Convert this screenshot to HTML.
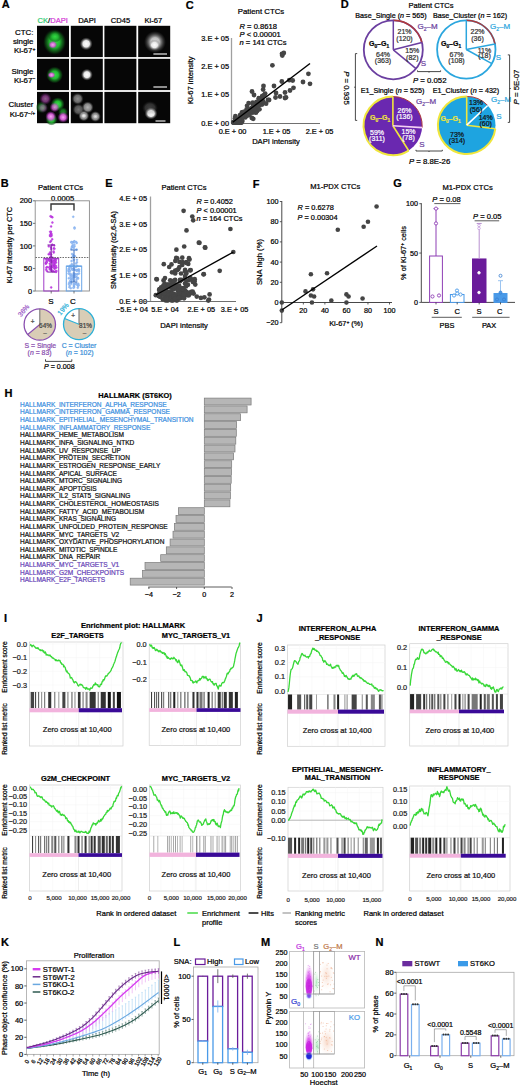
<!DOCTYPE html>
<html><head><meta charset="utf-8"><style>
html,body{margin:0;padding:0;background:#fff;width:520px;height:1086px;overflow:hidden}
svg{display:block;font-family:"Liberation Sans",sans-serif}
</style></head><body>
<svg width="520" height="1086" viewBox="0 0 520 1086">
<defs>
<radialGradient id="gG"><stop offset="0" stop-color="#38e048"/><stop offset="0.45" stop-color="#22b832"/><stop offset="0.8" stop-color="#106018" stop-opacity="0.6"/><stop offset="1" stop-color="#0a3010" stop-opacity="0"/></radialGradient>
<radialGradient id="gM"><stop offset="0" stop-color="#f8a8f4"/><stop offset="0.5" stop-color="#e060e0" stop-opacity="0.9"/><stop offset="1" stop-color="#a020b0" stop-opacity="0"/></radialGradient>
<radialGradient id="gW"><stop offset="0" stop-color="#ffffff"/><stop offset="0.5" stop-color="#e8e8e8"/><stop offset="1" stop-color="#606060" stop-opacity="0"/></radialGradient>
<radialGradient id="gW2"><stop offset="0" stop-color="#f4f4f4"/><stop offset="0.4" stop-color="#d0d0d0"/><stop offset="1" stop-color="#505050" stop-opacity="0"/></radialGradient>
<radialGradient id="gGr"><stop offset="0" stop-color="#c8c8c8"/><stop offset="0.6" stop-color="#909090"/><stop offset="1" stop-color="#404040" stop-opacity="0"/></radialGradient>


<radialGradient id="mMag" cx="0.5" cy="0.7" r="0.6"><stop offset="0" stop-color="#c818e0"/><stop offset="0.5" stop-color="#d850ec" stop-opacity="0.85"/><stop offset="1" stop-color="#f0b0f8" stop-opacity="0"/></radialGradient>
<radialGradient id="mBlu"><stop offset="0" stop-color="#2030e0"/><stop offset="0.6" stop-color="#4a70f0" stop-opacity="0.8"/><stop offset="1" stop-color="#a0d0ff" stop-opacity="0"/></radialGradient>
<radialGradient id="mGrn"><stop offset="0" stop-color="#a8e8b8" stop-opacity="0.9"/><stop offset="1" stop-color="#d8f4e0" stop-opacity="0"/></radialGradient>
<radialGradient id="mOr"><stop offset="0" stop-color="#f4c8b0" stop-opacity="0.9"/><stop offset="1" stop-color="#fae4d8" stop-opacity="0"/></radialGradient>
</defs>
<text x="1.8" y="8.11" font-size="11" text-anchor="start" fill="#000" stroke="#000" stroke-width="0.22" font-weight="bold">A</text>
<text x="37.5" y="23.2" font-size="7.6" text-anchor="start" fill="#000" stroke="#000" stroke-width="0.22"><tspan fill="#2ecc71" stroke="#2ecc71">CK</tspan>/<tspan fill="#d63cd6" stroke="#d63cd6">DAPI</tspan></text>
<text x="87" y="23.2" font-size="7.6" text-anchor="middle" fill="#000" stroke="#000" stroke-width="0.22">DAPI</text>
<text x="120.5" y="23.2" font-size="7.6" text-anchor="middle" fill="#000" stroke="#000" stroke-width="0.22">CD45</text>
<text x="153.4" y="23.2" font-size="7.6" text-anchor="middle" fill="#000" stroke="#000" stroke-width="0.22">Ki-67</text>
<text x="33.5" y="34.8" font-size="7.9" text-anchor="end" fill="#000" stroke="#000" stroke-width="0.22">CTC:</text>
<text x="33.5" y="44.2" font-size="7.9" text-anchor="end" fill="#000" stroke="#000" stroke-width="0.22">single</text>
<text x="35.3" y="53.3" font-size="7.9" text-anchor="end" fill="#000" stroke="#000" stroke-width="0.22">Ki-67<tspan font-size="5" dy="-2.5">+</tspan></text>
<text x="33.5" y="73.5" font-size="7.9" text-anchor="end" fill="#000" stroke="#000" stroke-width="0.22">Single</text>
<text x="35.3" y="82.8" font-size="7.9" text-anchor="end" fill="#000" stroke="#000" stroke-width="0.22">Ki-67<tspan font-size="5" dy="-2.5">&#8722;</tspan></text>
<text x="33.5" y="107.1" font-size="7.9" text-anchor="end" fill="#000" stroke="#000" stroke-width="0.22">Cluster</text>
<text x="35.3" y="117" font-size="7.9" text-anchor="end" fill="#000" stroke="#000" stroke-width="0.22">Ki-67<tspan font-size="5" dy="-2.5">&#8722;/+</tspan></text>
<rect x="37" y="25.8" width="32" height="31.3" fill="#060606" stroke="none" stroke-width="1"/>
<rect x="70.8" y="25.8" width="32" height="31.3" fill="#060606" stroke="none" stroke-width="1"/>
<rect x="104.4" y="25.8" width="32" height="31.3" fill="#060606" stroke="none" stroke-width="1"/>
<rect x="138.2" y="25.8" width="32" height="31.3" fill="#060606" stroke="none" stroke-width="1"/>
<rect x="37" y="58.8" width="32" height="31.3" fill="#060606" stroke="none" stroke-width="1"/>
<rect x="70.8" y="58.8" width="32" height="31.3" fill="#060606" stroke="none" stroke-width="1"/>
<rect x="104.4" y="58.8" width="32" height="31.3" fill="#060606" stroke="none" stroke-width="1"/>
<rect x="138.2" y="58.8" width="32" height="31.3" fill="#060606" stroke="none" stroke-width="1"/>
<rect x="37" y="91.9" width="32" height="31.3" fill="#060606" stroke="none" stroke-width="1"/>
<rect x="70.8" y="91.9" width="32" height="31.3" fill="#060606" stroke="none" stroke-width="1"/>
<rect x="104.4" y="91.9" width="32" height="31.3" fill="#060606" stroke="none" stroke-width="1"/>
<rect x="138.2" y="91.9" width="32" height="31.3" fill="#060606" stroke="none" stroke-width="1"/>
<ellipse cx="54.6" cy="42" rx="11.5" ry="13" fill="url(#gG)" opacity="1"/>
<ellipse cx="55" cy="36.5" rx="7" ry="6" fill="url(#gG)" opacity="0.8"/>
<ellipse cx="52.8" cy="44.8" rx="4.6" ry="4" fill="url(#gM)" opacity="1"/>
<ellipse cx="86.2" cy="43.8" rx="6.5" ry="6.5" fill="url(#gW)" opacity="1"/>
<ellipse cx="155" cy="42" rx="11" ry="11" fill="url(#gW2)" opacity="0.9"/>
<ellipse cx="154.5" cy="45" rx="6" ry="5.5" fill="url(#gW)" opacity="1"/>
<line x1="153.4" y1="54" x2="167" y2="54" stroke="#fff" stroke-width="1.1"/>
<ellipse cx="54.6" cy="75" rx="8.5" ry="8.5" fill="url(#gG)" opacity="1"/>
<ellipse cx="51.5" cy="75" rx="4" ry="3.2" fill="url(#gM)" opacity="1"/>
<ellipse cx="86.9" cy="74.7" rx="6" ry="6" fill="url(#gW)" opacity="1"/>
<line x1="153.4" y1="87" x2="167" y2="87" stroke="#fff" stroke-width="1.1"/>
<ellipse cx="57.7" cy="104.2" rx="7" ry="7" fill="url(#gG)" opacity="1"/>
<ellipse cx="51.5" cy="119.6" rx="6" ry="6" fill="url(#gG)" opacity="1"/>
<ellipse cx="41.5" cy="107.3" rx="6" ry="6" fill="url(#gG)" opacity="0.6"/>
<ellipse cx="63" cy="112" rx="5" ry="5" fill="url(#gG)" opacity="0.6"/>
<ellipse cx="45.4" cy="98.8" rx="6" ry="6" fill="url(#gM)" opacity="0.55"/>
<ellipse cx="54.6" cy="107.3" rx="5" ry="5" fill="url(#gM)" opacity="0.8"/>
<ellipse cx="50.8" cy="116.5" rx="5.5" ry="5.5" fill="url(#gM)" opacity="1"/>
<ellipse cx="63.1" cy="117.3" rx="5.5" ry="5.5" fill="url(#gM)" opacity="1"/>
<ellipse cx="43" cy="108" rx="5" ry="5" fill="url(#gM)" opacity="0.45"/>
<ellipse cx="77.7" cy="98.8" rx="6" ry="6" fill="url(#gGr)" opacity="0.7"/>
<ellipse cx="87.7" cy="107.3" rx="6" ry="6" fill="url(#gGr)" opacity="0.9"/>
<ellipse cx="78.5" cy="109.6" rx="6" ry="6" fill="url(#gGr)" opacity="0.55"/>
<ellipse cx="83.8" cy="115.8" rx="5.5" ry="5.5" fill="url(#gGr)" opacity="1"/>
<ellipse cx="95.4" cy="116.5" rx="5.5" ry="5.5" fill="url(#gGr)" opacity="0.95"/>
<ellipse cx="83.8" cy="115.8" rx="4" ry="3.5" fill="url(#gW2)" opacity="1"/>
<ellipse cx="95.4" cy="116.5" rx="4" ry="3.5" fill="url(#gW2)" opacity="0.7"/>
<ellipse cx="151" cy="113.5" rx="6.5" ry="6" fill="url(#gW)" opacity="1"/>
<ellipse cx="150" cy="108" rx="8" ry="7" fill="url(#gGr)" opacity="0.3"/>
<line x1="155.5" y1="121" x2="165.5" y2="121" stroke="#fff" stroke-width="1.1"/>
<text x="185.8" y="9.21" font-size="11" text-anchor="start" fill="#000" stroke="#000" stroke-width="0.22" font-weight="bold">C</text>
<text x="261" y="13.77" font-size="7.8" text-anchor="middle" fill="#000" stroke="#000" stroke-width="0.22">Patient CTCs</text>
<text x="239.5" y="28.7" font-size="7.6" text-anchor="start" fill="#000" stroke="#000" stroke-width="0.22"><tspan font-style="italic">R</tspan> = 0.8618</text>
<text x="239.5" y="37.3" font-size="7.6" text-anchor="start" fill="#000" stroke="#000" stroke-width="0.22"><tspan font-style="italic">P</tspan> &lt; 0.00001</text>
<text x="239.5" y="45.3" font-size="7.6" text-anchor="start" fill="#000" stroke="#000" stroke-width="0.22"><tspan font-style="italic">n</tspan> = 141 CTCs</text>
<text x="229" y="41.43" font-size="7.4" text-anchor="end" fill="#000" stroke="#000" stroke-width="0.22">3.E + 05</text>
<text x="229" y="69.13" font-size="7.4" text-anchor="end" fill="#000" stroke="#000" stroke-width="0.22">2.E + 05</text>
<text x="229" y="96.83" font-size="7.4" text-anchor="end" fill="#000" stroke="#000" stroke-width="0.22">1.E + 05</text>
<text x="229" y="125.63" font-size="7.4" text-anchor="end" fill="#000" stroke="#000" stroke-width="0.22">0.E + 00</text>
<text x="232.5" y="134.13" font-size="7.4" text-anchor="middle" fill="#000" stroke="#000" stroke-width="0.22">0.E + 00</text>
<text x="276.5" y="134.13" font-size="7.4" text-anchor="middle" fill="#000" stroke="#000" stroke-width="0.22">1.E + 05</text>
<text x="319.5" y="134.13" font-size="7.4" text-anchor="middle" fill="#000" stroke="#000" stroke-width="0.22">2.E + 05</text>
<text x="276" y="144.2" font-size="7.6" text-anchor="middle" fill="#000" stroke="#000" stroke-width="0.22">DAPI intensity</text>
<text x="190.6" y="82.9" font-size="7.6" text-anchor="middle" fill="#000" stroke="#000" stroke-width="0.22" transform="rotate(-90 190.6 80.2)">Ki-67 intensity</text>
<line x1="231.5" y1="38" x2="231.5" y2="123.5" stroke="#a0a0a0" stroke-width="1.3"/>
<line x1="231" y1="123.5" x2="320" y2="123.5" stroke="#707070" stroke-width="1.2"/>
<circle cx="282" cy="53.8" r="2.4" fill="#454545" stroke="none" stroke-width="1"/>
<circle cx="283.8" cy="53" r="2.4" fill="#454545" stroke="none" stroke-width="1"/>
<circle cx="282.3" cy="55.6" r="2.4" fill="#454545" stroke="none" stroke-width="1"/>
<circle cx="272.4" cy="65.3" r="2.4" fill="#454545" stroke="none" stroke-width="1"/>
<circle cx="308.4" cy="73.8" r="2.4" fill="#454545" stroke="none" stroke-width="1"/>
<circle cx="310" cy="83.8" r="2.4" fill="#454545" stroke="none" stroke-width="1"/>
<circle cx="263.5" cy="86" r="2.4" fill="#454545" stroke="none" stroke-width="1"/>
<circle cx="274" cy="86" r="2.4" fill="#454545" stroke="none" stroke-width="1"/>
<circle cx="281.8" cy="81.5" r="2.4" fill="#454545" stroke="none" stroke-width="1"/>
<circle cx="289.3" cy="80.2" r="2.4" fill="#454545" stroke="none" stroke-width="1"/>
<circle cx="292.7" cy="80.5" r="2.4" fill="#454545" stroke="none" stroke-width="1"/>
<circle cx="293.5" cy="87.8" r="2.4" fill="#454545" stroke="none" stroke-width="1"/>
<circle cx="303" cy="82" r="2.4" fill="#454545" stroke="none" stroke-width="1"/>
<circle cx="290" cy="90.5" r="2.4" fill="#454545" stroke="none" stroke-width="1"/>
<circle cx="286" cy="97.4" r="2.4" fill="#454545" stroke="none" stroke-width="1"/>
<circle cx="280" cy="96.5" r="2.4" fill="#454545" stroke="none" stroke-width="1"/>
<circle cx="285" cy="92.5" r="2.4" fill="#454545" stroke="none" stroke-width="1"/>
<circle cx="275.5" cy="97.5" r="2.4" fill="#454545" stroke="none" stroke-width="1"/>
<circle cx="262" cy="97" r="2.4" fill="#454545" stroke="none" stroke-width="1"/>
<circle cx="252" cy="91.5" r="2.4" fill="#454545" stroke="none" stroke-width="1"/>
<circle cx="254" cy="95" r="2.4" fill="#454545" stroke="none" stroke-width="1"/>
<circle cx="285" cy="98" r="2.4" fill="#454545" stroke="none" stroke-width="1"/>
<circle cx="276" cy="93" r="2.4" fill="#454545" stroke="none" stroke-width="1"/>
<circle cx="268" cy="100" r="2.4" fill="#454545" stroke="none" stroke-width="1"/>
<circle cx="257" cy="103" r="2.4" fill="#454545" stroke="none" stroke-width="1"/>
<circle cx="262" cy="104.5" r="2.4" fill="#454545" stroke="none" stroke-width="1"/>
<circle cx="240.49" cy="122.5" r="2.4" fill="#454545" stroke="none" stroke-width="1"/>
<circle cx="237.43" cy="121.04" r="2.4" fill="#454545" stroke="none" stroke-width="1"/>
<circle cx="234.41" cy="121.81" r="2.4" fill="#454545" stroke="none" stroke-width="1"/>
<circle cx="241" cy="117.31" r="2.4" fill="#454545" stroke="none" stroke-width="1"/>
<circle cx="240.06" cy="115.27" r="2.4" fill="#454545" stroke="none" stroke-width="1"/>
<circle cx="242.49" cy="114.28" r="2.4" fill="#454545" stroke="none" stroke-width="1"/>
<circle cx="253.21" cy="118.86" r="2.4" fill="#454545" stroke="none" stroke-width="1"/>
<circle cx="235.46" cy="119.66" r="2.4" fill="#454545" stroke="none" stroke-width="1"/>
<circle cx="236.71" cy="122.5" r="2.4" fill="#454545" stroke="none" stroke-width="1"/>
<circle cx="254.93" cy="109.54" r="2.4" fill="#454545" stroke="none" stroke-width="1"/>
<circle cx="249.44" cy="114.45" r="2.4" fill="#454545" stroke="none" stroke-width="1"/>
<circle cx="236.04" cy="122.5" r="2.4" fill="#454545" stroke="none" stroke-width="1"/>
<circle cx="250.51" cy="111.34" r="2.4" fill="#454545" stroke="none" stroke-width="1"/>
<circle cx="247.32" cy="113.7" r="2.4" fill="#454545" stroke="none" stroke-width="1"/>
<circle cx="252.56" cy="103.66" r="2.4" fill="#454545" stroke="none" stroke-width="1"/>
<circle cx="252.39" cy="112.03" r="2.4" fill="#454545" stroke="none" stroke-width="1"/>
<circle cx="251.84" cy="117.92" r="2.4" fill="#454545" stroke="none" stroke-width="1"/>
<circle cx="240.19" cy="122.5" r="2.4" fill="#454545" stroke="none" stroke-width="1"/>
<circle cx="235.21" cy="121.26" r="2.4" fill="#454545" stroke="none" stroke-width="1"/>
<circle cx="247.09" cy="105.84" r="2.4" fill="#454545" stroke="none" stroke-width="1"/>
<circle cx="257.74" cy="108.08" r="2.4" fill="#454545" stroke="none" stroke-width="1"/>
<circle cx="248.33" cy="110.73" r="2.4" fill="#454545" stroke="none" stroke-width="1"/>
<circle cx="258.25" cy="103.11" r="2.4" fill="#454545" stroke="none" stroke-width="1"/>
<circle cx="252.9" cy="112.54" r="2.4" fill="#454545" stroke="none" stroke-width="1"/>
<circle cx="254.14" cy="110.75" r="2.4" fill="#454545" stroke="none" stroke-width="1"/>
<circle cx="240.95" cy="122.5" r="2.4" fill="#454545" stroke="none" stroke-width="1"/>
<circle cx="235.68" cy="122.48" r="2.4" fill="#454545" stroke="none" stroke-width="1"/>
<circle cx="240.76" cy="122.5" r="2.4" fill="#454545" stroke="none" stroke-width="1"/>
<circle cx="233.77" cy="122.5" r="2.4" fill="#454545" stroke="none" stroke-width="1"/>
<circle cx="259.15" cy="105.12" r="2.4" fill="#454545" stroke="none" stroke-width="1"/>
<circle cx="248.72" cy="109.5" r="2.4" fill="#454545" stroke="none" stroke-width="1"/>
<circle cx="255.35" cy="107.12" r="2.4" fill="#454545" stroke="none" stroke-width="1"/>
<circle cx="245.88" cy="112.35" r="2.4" fill="#454545" stroke="none" stroke-width="1"/>
<circle cx="235.39" cy="122.5" r="2.4" fill="#454545" stroke="none" stroke-width="1"/>
<circle cx="241.01" cy="120.69" r="2.4" fill="#454545" stroke="none" stroke-width="1"/>
<circle cx="240.21" cy="119.93" r="2.4" fill="#454545" stroke="none" stroke-width="1"/>
<circle cx="247.84" cy="114.5" r="2.4" fill="#454545" stroke="none" stroke-width="1"/>
<circle cx="253.59" cy="109.21" r="2.4" fill="#454545" stroke="none" stroke-width="1"/>
<circle cx="255.94" cy="112.63" r="2.4" fill="#454545" stroke="none" stroke-width="1"/>
<circle cx="256.57" cy="102.22" r="2.4" fill="#454545" stroke="none" stroke-width="1"/>
<circle cx="239.89" cy="118.51" r="2.4" fill="#454545" stroke="none" stroke-width="1"/>
<circle cx="246.89" cy="111.92" r="2.4" fill="#454545" stroke="none" stroke-width="1"/>
<circle cx="236.82" cy="122.5" r="2.4" fill="#454545" stroke="none" stroke-width="1"/>
<circle cx="235.72" cy="121.88" r="2.4" fill="#454545" stroke="none" stroke-width="1"/>
<circle cx="234.13" cy="122.21" r="2.4" fill="#454545" stroke="none" stroke-width="1"/>
<circle cx="256.91" cy="101.85" r="2.4" fill="#454545" stroke="none" stroke-width="1"/>
<circle cx="237.81" cy="122.5" r="2.4" fill="#454545" stroke="none" stroke-width="1"/>
<circle cx="241.91" cy="112.47" r="2.4" fill="#454545" stroke="none" stroke-width="1"/>
<circle cx="241.98" cy="116.08" r="2.4" fill="#454545" stroke="none" stroke-width="1"/>
<circle cx="235.4" cy="122.5" r="2.4" fill="#454545" stroke="none" stroke-width="1"/>
<circle cx="253.49" cy="105.52" r="2.4" fill="#454545" stroke="none" stroke-width="1"/>
<circle cx="261.07" cy="99.73" r="2.4" fill="#454545" stroke="none" stroke-width="1"/>
<circle cx="247.77" cy="114.73" r="2.4" fill="#454545" stroke="none" stroke-width="1"/>
<circle cx="264.46" cy="94.83" r="2.4" fill="#454545" stroke="none" stroke-width="1"/>
<circle cx="237.32" cy="121.43" r="2.4" fill="#454545" stroke="none" stroke-width="1"/>
<circle cx="258.23" cy="105.7" r="2.4" fill="#454545" stroke="none" stroke-width="1"/>
<circle cx="238.19" cy="122.5" r="2.4" fill="#454545" stroke="none" stroke-width="1"/>
<circle cx="265.14" cy="93.58" r="2.4" fill="#454545" stroke="none" stroke-width="1"/>
<circle cx="252.72" cy="102.77" r="2.4" fill="#454545" stroke="none" stroke-width="1"/>
<circle cx="242.23" cy="115.33" r="2.4" fill="#454545" stroke="none" stroke-width="1"/>
<circle cx="233.69" cy="122.5" r="2.4" fill="#454545" stroke="none" stroke-width="1"/>
<circle cx="252.17" cy="108.58" r="2.4" fill="#454545" stroke="none" stroke-width="1"/>
<circle cx="269.08" cy="100" r="2.4" fill="#454545" stroke="none" stroke-width="1"/>
<circle cx="238.15" cy="120.56" r="2.4" fill="#454545" stroke="none" stroke-width="1"/>
<circle cx="236.28" cy="122.5" r="2.4" fill="#454545" stroke="none" stroke-width="1"/>
<circle cx="258.94" cy="98.76" r="2.4" fill="#454545" stroke="none" stroke-width="1"/>
<circle cx="246.58" cy="109.45" r="2.4" fill="#454545" stroke="none" stroke-width="1"/>
<circle cx="252.9" cy="107.34" r="2.4" fill="#454545" stroke="none" stroke-width="1"/>
<circle cx="252.48" cy="108" r="2.4" fill="#454545" stroke="none" stroke-width="1"/>
<circle cx="255.29" cy="111.79" r="2.4" fill="#454545" stroke="none" stroke-width="1"/>
<circle cx="263.2" cy="101.37" r="2.4" fill="#454545" stroke="none" stroke-width="1"/>
<circle cx="258.81" cy="98.14" r="2.4" fill="#454545" stroke="none" stroke-width="1"/>
<circle cx="239.36" cy="122.5" r="2.4" fill="#454545" stroke="none" stroke-width="1"/>
<circle cx="257.13" cy="110.91" r="2.4" fill="#454545" stroke="none" stroke-width="1"/>
<circle cx="262.32" cy="96.13" r="2.4" fill="#454545" stroke="none" stroke-width="1"/>
<circle cx="243.02" cy="114.29" r="2.4" fill="#454545" stroke="none" stroke-width="1"/>
<circle cx="262.79" cy="95.79" r="2.4" fill="#454545" stroke="none" stroke-width="1"/>
<circle cx="266.09" cy="103.66" r="2.4" fill="#454545" stroke="none" stroke-width="1"/>
<circle cx="253.69" cy="107.57" r="2.4" fill="#454545" stroke="none" stroke-width="1"/>
<circle cx="236.43" cy="122.5" r="2.4" fill="#454545" stroke="none" stroke-width="1"/>
<circle cx="237.55" cy="120.79" r="2.4" fill="#454545" stroke="none" stroke-width="1"/>
<circle cx="259.65" cy="104.83" r="2.4" fill="#454545" stroke="none" stroke-width="1"/>
<circle cx="247.49" cy="110.83" r="2.4" fill="#454545" stroke="none" stroke-width="1"/>
<circle cx="262.53" cy="101.39" r="2.4" fill="#454545" stroke="none" stroke-width="1"/>
<circle cx="246.55" cy="114.96" r="2.4" fill="#454545" stroke="none" stroke-width="1"/>
<circle cx="242.38" cy="121.02" r="2.4" fill="#454545" stroke="none" stroke-width="1"/>
<circle cx="241.31" cy="121.92" r="2.4" fill="#454545" stroke="none" stroke-width="1"/>
<circle cx="245.25" cy="117.4" r="2.4" fill="#454545" stroke="none" stroke-width="1"/>
<circle cx="243.17" cy="112.05" r="2.4" fill="#454545" stroke="none" stroke-width="1"/>
<circle cx="242.9" cy="116.36" r="2.4" fill="#454545" stroke="none" stroke-width="1"/>
<circle cx="256.36" cy="106.71" r="2.4" fill="#454545" stroke="none" stroke-width="1"/>
<circle cx="254.24" cy="105.38" r="2.4" fill="#454545" stroke="none" stroke-width="1"/>
<circle cx="249.98" cy="111.92" r="2.4" fill="#454545" stroke="none" stroke-width="1"/>
<circle cx="252.77" cy="110.88" r="2.4" fill="#454545" stroke="none" stroke-width="1"/>
<circle cx="246.93" cy="113.69" r="2.4" fill="#454545" stroke="none" stroke-width="1"/>
<circle cx="258.35" cy="102.1" r="2.4" fill="#454545" stroke="none" stroke-width="1"/>
<circle cx="250.92" cy="111.22" r="2.4" fill="#454545" stroke="none" stroke-width="1"/>
<circle cx="237.29" cy="122.5" r="2.4" fill="#454545" stroke="none" stroke-width="1"/>
<circle cx="233.35" cy="122.5" r="2.4" fill="#454545" stroke="none" stroke-width="1"/>
<circle cx="248.63" cy="103.05" r="2.4" fill="#454545" stroke="none" stroke-width="1"/>
<circle cx="235.37" cy="116.14" r="2.4" fill="#454545" stroke="none" stroke-width="1"/>
<circle cx="242.58" cy="115.12" r="2.4" fill="#454545" stroke="none" stroke-width="1"/>
<circle cx="239.16" cy="119.4" r="2.4" fill="#454545" stroke="none" stroke-width="1"/>
<circle cx="249.16" cy="115" r="2.4" fill="#454545" stroke="none" stroke-width="1"/>
<circle cx="238.98" cy="122.5" r="2.4" fill="#454545" stroke="none" stroke-width="1"/>
<circle cx="238.32" cy="121.46" r="2.4" fill="#454545" stroke="none" stroke-width="1"/>
<circle cx="254.26" cy="109.19" r="2.4" fill="#454545" stroke="none" stroke-width="1"/>
<circle cx="243.41" cy="116.87" r="2.4" fill="#454545" stroke="none" stroke-width="1"/>
<circle cx="246.61" cy="111.63" r="2.4" fill="#454545" stroke="none" stroke-width="1"/>
<circle cx="263.12" cy="89.57" r="2.4" fill="#454545" stroke="none" stroke-width="1"/>
<circle cx="233.61" cy="122.5" r="2.4" fill="#454545" stroke="none" stroke-width="1"/>
<circle cx="251.17" cy="108.52" r="2.4" fill="#454545" stroke="none" stroke-width="1"/>
<circle cx="246" cy="113.5" r="2.4" fill="#454545" stroke="none" stroke-width="1"/>
<circle cx="241.42" cy="122.5" r="2.4" fill="#454545" stroke="none" stroke-width="1"/>
<circle cx="243.8" cy="111.82" r="2.4" fill="#454545" stroke="none" stroke-width="1"/>
<circle cx="234.96" cy="118.45" r="2.4" fill="#454545" stroke="none" stroke-width="1"/>
<circle cx="239.16" cy="119.91" r="2.4" fill="#454545" stroke="none" stroke-width="1"/>
<circle cx="259.47" cy="109.34" r="2.4" fill="#454545" stroke="none" stroke-width="1"/>
<circle cx="236.43" cy="118.89" r="2.4" fill="#454545" stroke="none" stroke-width="1"/>
<circle cx="246.72" cy="115.95" r="2.4" fill="#454545" stroke="none" stroke-width="1"/>
<line x1="232.7" y1="122.3" x2="310" y2="63.5" stroke="#000" stroke-width="1.4"/>
<text x="340.8" y="7.61" font-size="11" text-anchor="start" fill="#000" stroke="#000" stroke-width="0.22" font-weight="bold">D</text>
<text x="431" y="7.9" font-size="7.6" text-anchor="middle" fill="#000" stroke="#000" stroke-width="0.22">Patient CTCs</text>
<text x="391" y="18.36" font-size="7.2" text-anchor="middle" fill="#000" stroke="#000" stroke-width="0.22">Base_Single (<tspan font-style="italic">n</tspan> = 565)</text>
<text x="470" y="18.36" font-size="7.2" text-anchor="middle" fill="#000" stroke="#000" stroke-width="0.22">Base_Cluster (<tspan font-style="italic">n</tspan> = 162)</text>
<text x="392.5" y="93.36" font-size="7.2" text-anchor="middle" fill="#000" stroke="#000" stroke-width="0.22">E1_Single (<tspan font-style="italic">n</tspan> = 525)</text>
<text x="466" y="93.36" font-size="7.2" text-anchor="middle" fill="#000" stroke="#000" stroke-width="0.22">E1_Cluster (<tspan font-style="italic">n</tspan> = 432)</text>
<circle cx="393.3" cy="49.8" r="29.5" fill="#fff" stroke="#6b3fa0" stroke-width="1.8"/>
<path d="M393.3 20.3 A29.5 29.5 0 0 1 421.87 42.46" fill="none" stroke="#b03a3a" stroke-width="1.4"/>
<line x1="393.3" y1="49.8" x2="393.3" y2="20.3" stroke="#6b3fa0" stroke-width="1.5"/>
<line x1="393.3" y1="49.8" x2="421.87" y2="42.46" stroke="#6b3fa0" stroke-width="1.5"/>
<line x1="393.3" y1="49.8" x2="416.03" y2="68.6" stroke="#6b3fa0" stroke-width="1.5"/>
<circle cx="466.3" cy="49.5" r="29.2" fill="#fff" stroke="#2ba6de" stroke-width="1.8"/>
<path d="M466.3 20.3 A29.2 29.2 0 0 1 494.98 44.03" fill="none" stroke="#b03a3a" stroke-width="1.4"/>
<line x1="466.3" y1="49.5" x2="466.3" y2="20.3" stroke="#2ba6de" stroke-width="1.5"/>
<line x1="466.3" y1="49.5" x2="494.98" y2="44.03" stroke="#2ba6de" stroke-width="1.5"/>
<line x1="466.3" y1="49.5" x2="491.89" y2="63.57" stroke="#2ba6de" stroke-width="1.5"/>
<text x="379" y="46.19" font-size="7" text-anchor="middle" fill="#000" stroke="#000" stroke-width="0.22" font-weight="bold">G<tspan font-size="4.8" dy="1.8">0</tspan><tspan dy="-1.8">&#8211;G</tspan><tspan font-size="4.8" dy="1.8">1</tspan></text>
<text x="383" y="57.09" font-size="7" text-anchor="middle" fill="#333" stroke="#333" stroke-width="0.22">64%</text>
<text x="383" y="63.28" font-size="7" text-anchor="middle" fill="#333" stroke="#333" stroke-width="0.22">(363)</text>
<text x="404.5" y="34.09" font-size="7" text-anchor="middle" fill="#333" stroke="#333" stroke-width="0.22">21%</text>
<text x="404.5" y="40.69" font-size="7" text-anchor="middle" fill="#333" stroke="#333" stroke-width="0.22">(120)</text>
<text x="412.3" y="53.48" font-size="7" text-anchor="middle" fill="#333" stroke="#333" stroke-width="0.22">15%</text>
<text x="412.3" y="59.69" font-size="7" text-anchor="middle" fill="#333" stroke="#333" stroke-width="0.22">(82)</text>
<text x="427.5" y="29.24" font-size="8" text-anchor="middle" fill="#6b3fa0" stroke="#6b3fa0" stroke-width="0.22">G<tspan font-size="5" dy="1.8">2</tspan><tspan dy="-1.8">&#8211;M</tspan></text>
<text x="423.5" y="65.64" font-size="8" text-anchor="middle" fill="#6b3fa0" stroke="#6b3fa0" stroke-width="0.22">S</text>
<text x="451" y="45.98" font-size="7" text-anchor="middle" fill="#000" stroke="#000" stroke-width="0.22" font-weight="bold">G<tspan font-size="4.8" dy="1.8">0</tspan><tspan dy="-1.8">&#8211;G</tspan><tspan font-size="4.8" dy="1.8">1</tspan></text>
<text x="456.5" y="56.98" font-size="7" text-anchor="middle" fill="#333" stroke="#333" stroke-width="0.22">67%</text>
<text x="456.5" y="63.28" font-size="7" text-anchor="middle" fill="#333" stroke="#333" stroke-width="0.22">(108)</text>
<text x="477.5" y="34.29" font-size="7" text-anchor="middle" fill="#333" stroke="#333" stroke-width="0.22">22%</text>
<text x="477.5" y="40.69" font-size="7" text-anchor="middle" fill="#333" stroke="#333" stroke-width="0.22">(36)</text>
<text x="484.5" y="52.98" font-size="7" text-anchor="middle" fill="#333" stroke="#333" stroke-width="0.22">11%</text>
<text x="484.5" y="58.48" font-size="7" text-anchor="middle" fill="#333" stroke="#333" stroke-width="0.22">(18)</text>
<text x="500" y="29.24" font-size="8" text-anchor="middle" fill="#2ba6de" stroke="#2ba6de" stroke-width="0.22">G<tspan font-size="5" dy="1.8">2</tspan><tspan dy="-1.8">&#8211;M</tspan></text>
<text x="498.5" y="59.84" font-size="8" text-anchor="middle" fill="#2ba6de" stroke="#2ba6de" stroke-width="0.22">S</text>
<circle cx="392.9" cy="125.8" r="29.3" fill="#6a28b0" stroke="none" stroke-width="1"/>
<path d="M408.6 150.54 A29.3 29.3 0 1 1 392.9 96.5" fill="none" stroke="#f0e63c" stroke-width="2"/>
<path d="M392.9 96.5 A29.3 29.3 0 0 1 422.14 127.64" fill="none" stroke="#b03a3a" stroke-width="1"/>
<line x1="392.9" y1="125.8" x2="392.9" y2="96.5" stroke="#f0e63c" stroke-width="1.6"/>
<line x1="392.9" y1="125.8" x2="408.6" y2="150.54" stroke="#f0e63c" stroke-width="1.6"/>
<line x1="392.9" y1="125.8" x2="422.14" y2="127.64" stroke="#f4d0f4" stroke-width="1.6"/>
<circle cx="466.7" cy="125.2" r="28.8" fill="#1ea4e0" stroke="none" stroke-width="1"/>
<path d="M495.27 128.81 A28.8 28.8 0 1 1 466.7 96.4" fill="none" stroke="#f0e63c" stroke-width="2"/>
<path d="M466.7 96.4 A28.8 28.8 0 0 1 487.69 105.49" fill="none" stroke="#b03a3a" stroke-width="1"/>
<line x1="466.7" y1="125.2" x2="466.7" y2="96.4" stroke="#f0e63c" stroke-width="1.6"/>
<line x1="466.7" y1="125.2" x2="495.27" y2="128.81" stroke="#f0e63c" stroke-width="1.6"/>
<line x1="466.7" y1="125.2" x2="487.69" y2="105.49" stroke="#ffffff" stroke-width="1.6"/>
<text x="380" y="120.48" font-size="7" text-anchor="middle" fill="#f0e63c" stroke="#f0e63c" stroke-width="0.22" font-weight="bold">G<tspan font-size="4.8" dy="1.8">0</tspan><tspan dy="-1.8">&#8211;G</tspan><tspan font-size="4.8" dy="1.8">1</tspan></text>
<text x="377" y="134.99" font-size="7" text-anchor="middle" fill="#fff" stroke="#fff" stroke-width="0.22">59%</text>
<text x="377" y="141.29" font-size="7" text-anchor="middle" fill="#fff" stroke="#fff" stroke-width="0.22">(311)</text>
<text x="404.5" y="112.98" font-size="7" text-anchor="middle" fill="#fff" stroke="#fff" stroke-width="0.22">26%</text>
<text x="404.5" y="119.48" font-size="7" text-anchor="middle" fill="#fff" stroke="#fff" stroke-width="0.22">(136)</text>
<text x="408.5" y="133.99" font-size="7" text-anchor="middle" fill="#fff" stroke="#fff" stroke-width="0.22">15%</text>
<text x="408.5" y="139.99" font-size="7" text-anchor="middle" fill="#fff" stroke="#fff" stroke-width="0.22">(78)</text>
<text x="426" y="104.34" font-size="8" text-anchor="middle" fill="#6b3fa0" stroke="#6b3fa0" stroke-width="0.22">G<tspan font-size="5" dy="1.8">2</tspan><tspan dy="-1.8">&#8211;M</tspan></text>
<text x="422" y="147.34" font-size="8" text-anchor="middle" fill="#6b3fa0" stroke="#6b3fa0" stroke-width="0.22">S</text>
<text x="450.5" y="120.98" font-size="7" text-anchor="middle" fill="#f0e63c" stroke="#f0e63c" stroke-width="0.22" font-weight="bold">G<tspan font-size="4.8" dy="1.8">0</tspan><tspan dy="-1.8">&#8211;G</tspan><tspan font-size="4.8" dy="1.8">1</tspan></text>
<text x="457" y="136.99" font-size="7" text-anchor="middle" fill="#111" stroke="#111" stroke-width="0.22">73%</text>
<text x="457" y="143.49" font-size="7" text-anchor="middle" fill="#111" stroke="#111" stroke-width="0.22">(314)</text>
<text x="476" y="105.48" font-size="7" text-anchor="middle" fill="#111" stroke="#111" stroke-width="0.22">13%</text>
<text x="476" y="112.19" font-size="7" text-anchor="middle" fill="#111" stroke="#111" stroke-width="0.22">(56)</text>
<text x="485.7" y="119.89" font-size="7" text-anchor="middle" fill="#111" stroke="#111" stroke-width="0.22">14%</text>
<text x="485.7" y="126.28" font-size="7" text-anchor="middle" fill="#111" stroke="#111" stroke-width="0.22">(60)</text>
<text x="501" y="102.34" font-size="8" text-anchor="middle" fill="#2ba6de" stroke="#2ba6de" stroke-width="0.22">G<tspan font-size="5" dy="1.8">2</tspan><tspan dy="-1.8">&#8211;M</tspan></text>
<text x="499" y="118.84" font-size="8" text-anchor="middle" fill="#2ba6de" stroke="#2ba6de" stroke-width="0.22">S</text>
<path d="M417.5 70.4 L417.5 71.6 L440.6 71.6 L440.6 70.4 M429 71.6 L429 72.6" fill="none" stroke="#333" stroke-width="0.9"/>
<text x="429.7" y="82.57" font-size="7.8" text-anchor="middle" fill="#000" stroke="#000" stroke-width="0.22"><tspan font-style="italic">P</tspan> = 0.052</text>
<path d="M357.2 53.6 L355.4 53.6 L355.4 120.4 L357.2 120.4 M355.4 87.2 L354.2 87.2" fill="none" stroke="#333" stroke-width="0.9"/>
<text x="347" y="90.77" font-size="7.8" text-anchor="middle" fill="#000" stroke="#000" stroke-width="0.22" transform="rotate(90 347 88)"><tspan font-style="italic">P</tspan> = 0.935</text>
<path d="M507.8 54.9 L509.6 54.9 L509.6 122.4 L507.8 122.4 M509.6 88.5 L510.8 88.5" fill="none" stroke="#333" stroke-width="0.9"/>
<text x="516.5" y="89.77" font-size="7.8" text-anchor="middle" fill="#000" stroke="#000" stroke-width="0.22" transform="rotate(-90 516.5 87)"><tspan font-style="italic">P</tspan> = 5E-07</text>
<path d="M416 149.8 L416 151 L442.3 151 L442.3 149.8 M429 151 L429 152" fill="none" stroke="#333" stroke-width="0.9"/>
<text x="429.6" y="163.57" font-size="7.8" text-anchor="middle" fill="#000" stroke="#000" stroke-width="0.22"><tspan font-style="italic">P</tspan> = 8.8E-26</text>
<text x="0.7" y="187.21" font-size="11" text-anchor="start" fill="#000" stroke="#000" stroke-width="0.22" font-weight="bold">B</text>
<text x="60.6" y="189.7" font-size="7.6" text-anchor="middle" fill="#000" stroke="#000" stroke-width="0.22">Patient CTCs</text>
<text x="62.5" y="200.5" font-size="7.6" text-anchor="middle" fill="#000" stroke="#000" stroke-width="0.22">0.0005</text>
<path d="M51 210.5 L51 204 L74 204 L74 210.5" fill="none" stroke="#333" stroke-width="1.4"/>
<rect x="35.2" y="200.8" width="54.2" height="90.2" fill="none" stroke="#8a8a8a" stroke-width="0.9"/>
<line x1="33" y1="291" x2="35.2" y2="291" stroke="#555" stroke-width="0.8"/>
<text x="32" y="293.63" font-size="7.4" text-anchor="end" fill="#000" stroke="#000" stroke-width="0.22">0</text>
<line x1="33" y1="268.45" x2="35.2" y2="268.45" stroke="#555" stroke-width="0.8"/>
<text x="32" y="271.08" font-size="7.4" text-anchor="end" fill="#000" stroke="#000" stroke-width="0.22">50</text>
<line x1="33" y1="245.9" x2="35.2" y2="245.9" stroke="#555" stroke-width="0.8"/>
<text x="32" y="248.53" font-size="7.4" text-anchor="end" fill="#000" stroke="#000" stroke-width="0.22">100</text>
<line x1="33" y1="223.35" x2="35.2" y2="223.35" stroke="#555" stroke-width="0.8"/>
<text x="32" y="225.98" font-size="7.4" text-anchor="end" fill="#000" stroke="#000" stroke-width="0.22">150</text>
<line x1="33" y1="200.8" x2="35.2" y2="200.8" stroke="#555" stroke-width="0.8"/>
<text x="32" y="203.43" font-size="7.4" text-anchor="end" fill="#000" stroke="#000" stroke-width="0.22">200</text>
<text x="9.8" y="247.63" font-size="7.4" text-anchor="middle" fill="#000" stroke="#000" stroke-width="0.22" transform="rotate(-90 9.8 245)">Ki-67 intensity per CTC</text>
<circle cx="49.77" cy="263.71" r="1" fill="#c845ea" stroke="#a020c8" stroke-width="0.3"/>
<circle cx="46.42" cy="262.46" r="1" fill="#c845ea" stroke="#a020c8" stroke-width="0.3"/>
<circle cx="48.55" cy="259.22" r="1" fill="#c845ea" stroke="#a020c8" stroke-width="0.3"/>
<circle cx="50.87" cy="256.79" r="1" fill="#c845ea" stroke="#a020c8" stroke-width="0.3"/>
<circle cx="52.17" cy="244.69" r="1" fill="#c845ea" stroke="#a020c8" stroke-width="0.3"/>
<circle cx="55.25" cy="262.32" r="1" fill="#c845ea" stroke="#a020c8" stroke-width="0.3"/>
<circle cx="53.09" cy="260.69" r="1" fill="#c845ea" stroke="#a020c8" stroke-width="0.3"/>
<circle cx="52.2" cy="260.43" r="1" fill="#c845ea" stroke="#a020c8" stroke-width="0.3"/>
<circle cx="55.22" cy="271.58" r="1" fill="#c845ea" stroke="#a020c8" stroke-width="0.3"/>
<circle cx="55.37" cy="261.04" r="1" fill="#c845ea" stroke="#a020c8" stroke-width="0.3"/>
<circle cx="50.95" cy="233.46" r="1" fill="#c845ea" stroke="#a020c8" stroke-width="0.3"/>
<circle cx="54.25" cy="245.49" r="1" fill="#c845ea" stroke="#a020c8" stroke-width="0.3"/>
<circle cx="48.65" cy="254.26" r="1" fill="#c845ea" stroke="#a020c8" stroke-width="0.3"/>
<circle cx="50.5" cy="257.25" r="1" fill="#c845ea" stroke="#a020c8" stroke-width="0.3"/>
<circle cx="51.25" cy="249.12" r="1" fill="#c845ea" stroke="#a020c8" stroke-width="0.3"/>
<circle cx="52.14" cy="266.68" r="1" fill="#c845ea" stroke="#a020c8" stroke-width="0.3"/>
<circle cx="53.2" cy="258.19" r="1" fill="#c845ea" stroke="#a020c8" stroke-width="0.3"/>
<circle cx="52.38" cy="217.37" r="1" fill="#c845ea" stroke="#a020c8" stroke-width="0.3"/>
<circle cx="53.72" cy="252.6" r="1" fill="#c845ea" stroke="#a020c8" stroke-width="0.3"/>
<circle cx="51.37" cy="216.65" r="1" fill="#c845ea" stroke="#a020c8" stroke-width="0.3"/>
<circle cx="53.52" cy="251.39" r="1" fill="#c845ea" stroke="#a020c8" stroke-width="0.3"/>
<circle cx="46.4" cy="267.69" r="1" fill="#c845ea" stroke="#a020c8" stroke-width="0.3"/>
<circle cx="50.21" cy="231.73" r="1" fill="#c845ea" stroke="#a020c8" stroke-width="0.3"/>
<circle cx="48.76" cy="246.36" r="1" fill="#c845ea" stroke="#a020c8" stroke-width="0.3"/>
<circle cx="55.3" cy="260.27" r="1" fill="#c845ea" stroke="#a020c8" stroke-width="0.3"/>
<circle cx="46.19" cy="262.63" r="1" fill="#c845ea" stroke="#a020c8" stroke-width="0.3"/>
<circle cx="53.87" cy="248.37" r="1" fill="#c845ea" stroke="#a020c8" stroke-width="0.3"/>
<circle cx="52.4" cy="222.59" r="1" fill="#c845ea" stroke="#a020c8" stroke-width="0.3"/>
<circle cx="52.3" cy="270.88" r="1" fill="#c845ea" stroke="#a020c8" stroke-width="0.3"/>
<circle cx="50.19" cy="269.03" r="1" fill="#c845ea" stroke="#a020c8" stroke-width="0.3"/>
<circle cx="46.17" cy="269.66" r="1" fill="#c845ea" stroke="#a020c8" stroke-width="0.3"/>
<circle cx="54.41" cy="248.8" r="1" fill="#c845ea" stroke="#a020c8" stroke-width="0.3"/>
<circle cx="50.92" cy="247.18" r="1" fill="#c845ea" stroke="#a020c8" stroke-width="0.3"/>
<circle cx="52.25" cy="262.18" r="1" fill="#c845ea" stroke="#a020c8" stroke-width="0.3"/>
<circle cx="56.05" cy="262.55" r="1" fill="#c845ea" stroke="#a020c8" stroke-width="0.3"/>
<circle cx="53.62" cy="265.45" r="1" fill="#c845ea" stroke="#a020c8" stroke-width="0.3"/>
<circle cx="56.46" cy="267.44" r="1" fill="#c845ea" stroke="#a020c8" stroke-width="0.3"/>
<circle cx="45.83" cy="263.65" r="1" fill="#c845ea" stroke="#a020c8" stroke-width="0.3"/>
<circle cx="45.92" cy="263.16" r="1" fill="#c845ea" stroke="#a020c8" stroke-width="0.3"/>
<circle cx="46.36" cy="262.36" r="1" fill="#c845ea" stroke="#a020c8" stroke-width="0.3"/>
<circle cx="52.45" cy="244.95" r="1" fill="#c845ea" stroke="#a020c8" stroke-width="0.3"/>
<circle cx="53.82" cy="261.22" r="1" fill="#c845ea" stroke="#a020c8" stroke-width="0.3"/>
<circle cx="53.14" cy="271.13" r="1" fill="#c845ea" stroke="#a020c8" stroke-width="0.3"/>
<circle cx="51.1" cy="226.38" r="1" fill="#c845ea" stroke="#a020c8" stroke-width="0.3"/>
<circle cx="49.7" cy="267.15" r="1" fill="#c845ea" stroke="#a020c8" stroke-width="0.3"/>
<circle cx="52.25" cy="266.4" r="1" fill="#c845ea" stroke="#a020c8" stroke-width="0.3"/>
<circle cx="54.2" cy="266.27" r="1" fill="#c845ea" stroke="#a020c8" stroke-width="0.3"/>
<circle cx="53.79" cy="263.33" r="1" fill="#c845ea" stroke="#a020c8" stroke-width="0.3"/>
<circle cx="54.54" cy="268.65" r="1" fill="#c845ea" stroke="#a020c8" stroke-width="0.3"/>
<circle cx="50.49" cy="269.18" r="1" fill="#c845ea" stroke="#a020c8" stroke-width="0.3"/>
<circle cx="49.95" cy="254.15" r="1" fill="#c845ea" stroke="#a020c8" stroke-width="0.3"/>
<circle cx="50.52" cy="259.28" r="1" fill="#c845ea" stroke="#a020c8" stroke-width="0.3"/>
<circle cx="50.06" cy="252.45" r="1" fill="#c845ea" stroke="#a020c8" stroke-width="0.3"/>
<circle cx="51.08" cy="234.38" r="1" fill="#c845ea" stroke="#a020c8" stroke-width="0.3"/>
<circle cx="51.53" cy="270.2" r="1" fill="#c845ea" stroke="#a020c8" stroke-width="0.3"/>
<circle cx="54.92" cy="259.69" r="1" fill="#c845ea" stroke="#a020c8" stroke-width="0.3"/>
<circle cx="54.58" cy="267.79" r="1" fill="#c845ea" stroke="#a020c8" stroke-width="0.3"/>
<circle cx="50.83" cy="236.36" r="1" fill="#c845ea" stroke="#a020c8" stroke-width="0.3"/>
<circle cx="54.43" cy="267.58" r="1" fill="#c845ea" stroke="#a020c8" stroke-width="0.3"/>
<circle cx="50.29" cy="266.75" r="1" fill="#c845ea" stroke="#a020c8" stroke-width="0.3"/>
<circle cx="55.83" cy="265.78" r="1" fill="#c845ea" stroke="#a020c8" stroke-width="0.3"/>
<circle cx="56.08" cy="271.99" r="1" fill="#c845ea" stroke="#a020c8" stroke-width="0.3"/>
<circle cx="51.04" cy="231.8" r="1" fill="#c845ea" stroke="#a020c8" stroke-width="0.3"/>
<circle cx="50.53" cy="216.31" r="1" fill="#c845ea" stroke="#a020c8" stroke-width="0.3"/>
<circle cx="51.59" cy="235.59" r="1" fill="#c845ea" stroke="#a020c8" stroke-width="0.3"/>
<circle cx="49.45" cy="267.63" r="1" fill="#c845ea" stroke="#a020c8" stroke-width="0.3"/>
<circle cx="52.18" cy="271.01" r="1" fill="#c845ea" stroke="#a020c8" stroke-width="0.3"/>
<circle cx="46.2" cy="259.63" r="1" fill="#c845ea" stroke="#a020c8" stroke-width="0.3"/>
<circle cx="52.22" cy="239.2" r="1" fill="#c845ea" stroke="#a020c8" stroke-width="0.3"/>
<circle cx="51.38" cy="234" r="1" fill="#c845ea" stroke="#a020c8" stroke-width="0.3"/>
<circle cx="47.59" cy="260.63" r="1" fill="#c845ea" stroke="#a020c8" stroke-width="0.3"/>
<circle cx="51.47" cy="261.89" r="1" fill="#c845ea" stroke="#a020c8" stroke-width="0.3"/>
<circle cx="52.43" cy="257.66" r="1" fill="#c845ea" stroke="#a020c8" stroke-width="0.3"/>
<circle cx="55.18" cy="268.19" r="1" fill="#c845ea" stroke="#a020c8" stroke-width="0.3"/>
<circle cx="49.57" cy="260.06" r="1" fill="#c845ea" stroke="#a020c8" stroke-width="0.3"/>
<circle cx="54.68" cy="263.86" r="1" fill="#c845ea" stroke="#a020c8" stroke-width="0.3"/>
<circle cx="55.84" cy="259.92" r="1" fill="#c845ea" stroke="#a020c8" stroke-width="0.3"/>
<circle cx="50.02" cy="235.93" r="1" fill="#c845ea" stroke="#a020c8" stroke-width="0.3"/>
<circle cx="50.12" cy="234.94" r="1" fill="#c845ea" stroke="#a020c8" stroke-width="0.3"/>
<circle cx="51.5" cy="267.94" r="1" fill="#c845ea" stroke="#a020c8" stroke-width="0.3"/>
<circle cx="54.24" cy="264.81" r="1" fill="#c845ea" stroke="#a020c8" stroke-width="0.3"/>
<circle cx="47.1" cy="271.22" r="1" fill="#c845ea" stroke="#a020c8" stroke-width="0.3"/>
<circle cx="56.42" cy="271.01" r="1" fill="#c845ea" stroke="#a020c8" stroke-width="0.3"/>
<circle cx="51.21" cy="254.55" r="1" fill="#c845ea" stroke="#a020c8" stroke-width="0.3"/>
<circle cx="49.56" cy="267.23" r="1" fill="#c845ea" stroke="#a020c8" stroke-width="0.3"/>
<circle cx="50.23" cy="241.91" r="1" fill="#c845ea" stroke="#a020c8" stroke-width="0.3"/>
<circle cx="47.06" cy="267.02" r="1" fill="#c845ea" stroke="#a020c8" stroke-width="0.3"/>
<circle cx="49.88" cy="261.08" r="1" fill="#c845ea" stroke="#a020c8" stroke-width="0.3"/>
<circle cx="49.81" cy="269.32" r="1" fill="#c845ea" stroke="#a020c8" stroke-width="0.3"/>
<circle cx="49.88" cy="260.06" r="1" fill="#c845ea" stroke="#a020c8" stroke-width="0.3"/>
<circle cx="51.04" cy="240.99" r="1" fill="#c845ea" stroke="#a020c8" stroke-width="0.3"/>
<circle cx="53.43" cy="264.45" r="1" fill="#c845ea" stroke="#a020c8" stroke-width="0.3"/>
<circle cx="50.77" cy="261.41" r="1" fill="#c845ea" stroke="#a020c8" stroke-width="0.3"/>
<circle cx="53.35" cy="263.84" r="1" fill="#c845ea" stroke="#a020c8" stroke-width="0.3"/>
<circle cx="50.38" cy="265.54" r="1" fill="#c845ea" stroke="#a020c8" stroke-width="0.3"/>
<circle cx="51.2" cy="287.39" r="1" fill="#c845ea" stroke="#a020c8" stroke-width="0.3"/>
<circle cx="73.25" cy="241.92" r="1" fill="#9cc0f4" stroke="#6aa0ea" stroke-width="0.3"/>
<circle cx="72.57" cy="245.2" r="1" fill="#9cc0f4" stroke="#6aa0ea" stroke-width="0.3"/>
<circle cx="77.45" cy="285.18" r="1" fill="#9cc0f4" stroke="#6aa0ea" stroke-width="0.3"/>
<circle cx="77.22" cy="265.88" r="1" fill="#9cc0f4" stroke="#6aa0ea" stroke-width="0.3"/>
<circle cx="74.7" cy="269.76" r="1" fill="#9cc0f4" stroke="#6aa0ea" stroke-width="0.3"/>
<circle cx="68.55" cy="273.45" r="1" fill="#9cc0f4" stroke="#6aa0ea" stroke-width="0.3"/>
<circle cx="68.99" cy="268.74" r="1" fill="#9cc0f4" stroke="#6aa0ea" stroke-width="0.3"/>
<circle cx="78.19" cy="285.79" r="1" fill="#9cc0f4" stroke="#6aa0ea" stroke-width="0.3"/>
<circle cx="77.76" cy="287.7" r="1" fill="#9cc0f4" stroke="#6aa0ea" stroke-width="0.3"/>
<circle cx="75.91" cy="266.98" r="1" fill="#9cc0f4" stroke="#6aa0ea" stroke-width="0.3"/>
<circle cx="74.47" cy="241.56" r="1" fill="#9cc0f4" stroke="#6aa0ea" stroke-width="0.3"/>
<circle cx="76.94" cy="262.22" r="1" fill="#9cc0f4" stroke="#6aa0ea" stroke-width="0.3"/>
<circle cx="69.67" cy="270.23" r="1" fill="#9cc0f4" stroke="#6aa0ea" stroke-width="0.3"/>
<circle cx="71.37" cy="241.96" r="1" fill="#9cc0f4" stroke="#6aa0ea" stroke-width="0.3"/>
<circle cx="77.61" cy="274.05" r="1" fill="#9cc0f4" stroke="#6aa0ea" stroke-width="0.3"/>
<circle cx="71.25" cy="283.75" r="1" fill="#9cc0f4" stroke="#6aa0ea" stroke-width="0.3"/>
<circle cx="72.83" cy="269.26" r="1" fill="#9cc0f4" stroke="#6aa0ea" stroke-width="0.3"/>
<circle cx="72.35" cy="278.28" r="1" fill="#9cc0f4" stroke="#6aa0ea" stroke-width="0.3"/>
<circle cx="74" cy="286.19" r="1" fill="#9cc0f4" stroke="#6aa0ea" stroke-width="0.3"/>
<circle cx="74.49" cy="227.57" r="1" fill="#9cc0f4" stroke="#6aa0ea" stroke-width="0.3"/>
<circle cx="76.82" cy="270.85" r="1" fill="#9cc0f4" stroke="#6aa0ea" stroke-width="0.3"/>
<circle cx="73.82" cy="275.23" r="1" fill="#9cc0f4" stroke="#6aa0ea" stroke-width="0.3"/>
<circle cx="70.14" cy="265.63" r="1" fill="#9cc0f4" stroke="#6aa0ea" stroke-width="0.3"/>
<circle cx="78.58" cy="269.4" r="1" fill="#9cc0f4" stroke="#6aa0ea" stroke-width="0.3"/>
<circle cx="76.41" cy="277.1" r="1" fill="#9cc0f4" stroke="#6aa0ea" stroke-width="0.3"/>
<circle cx="70.69" cy="281.54" r="1" fill="#9cc0f4" stroke="#6aa0ea" stroke-width="0.3"/>
<circle cx="71.06" cy="280.34" r="1" fill="#9cc0f4" stroke="#6aa0ea" stroke-width="0.3"/>
<circle cx="71.75" cy="264.21" r="1" fill="#9cc0f4" stroke="#6aa0ea" stroke-width="0.3"/>
<circle cx="77.89" cy="277.86" r="1" fill="#9cc0f4" stroke="#6aa0ea" stroke-width="0.3"/>
<circle cx="70.89" cy="281.55" r="1" fill="#9cc0f4" stroke="#6aa0ea" stroke-width="0.3"/>
<circle cx="72.71" cy="276.18" r="1" fill="#9cc0f4" stroke="#6aa0ea" stroke-width="0.3"/>
<circle cx="72.04" cy="279.19" r="1" fill="#9cc0f4" stroke="#6aa0ea" stroke-width="0.3"/>
<circle cx="76.95" cy="259.8" r="1" fill="#9cc0f4" stroke="#6aa0ea" stroke-width="0.3"/>
<circle cx="73.65" cy="273.17" r="1" fill="#9cc0f4" stroke="#6aa0ea" stroke-width="0.3"/>
<circle cx="74.34" cy="244.51" r="1" fill="#9cc0f4" stroke="#6aa0ea" stroke-width="0.3"/>
<circle cx="77.92" cy="270.09" r="1" fill="#9cc0f4" stroke="#6aa0ea" stroke-width="0.3"/>
<circle cx="79.06" cy="269.77" r="1" fill="#9cc0f4" stroke="#6aa0ea" stroke-width="0.3"/>
<circle cx="71.08" cy="282.5" r="1" fill="#9cc0f4" stroke="#6aa0ea" stroke-width="0.3"/>
<circle cx="79.05" cy="271.24" r="1" fill="#9cc0f4" stroke="#6aa0ea" stroke-width="0.3"/>
<circle cx="72.14" cy="257.58" r="1" fill="#9cc0f4" stroke="#6aa0ea" stroke-width="0.3"/>
<circle cx="76.25" cy="283.57" r="1" fill="#9cc0f4" stroke="#6aa0ea" stroke-width="0.3"/>
<circle cx="72.53" cy="242.75" r="1" fill="#9cc0f4" stroke="#6aa0ea" stroke-width="0.3"/>
<circle cx="73.54" cy="255.97" r="1" fill="#9cc0f4" stroke="#6aa0ea" stroke-width="0.3"/>
<circle cx="71.56" cy="261.1" r="1" fill="#9cc0f4" stroke="#6aa0ea" stroke-width="0.3"/>
<circle cx="73.14" cy="256.46" r="1" fill="#9cc0f4" stroke="#6aa0ea" stroke-width="0.3"/>
<circle cx="68.58" cy="271.23" r="1" fill="#9cc0f4" stroke="#6aa0ea" stroke-width="0.3"/>
<circle cx="73.84" cy="277.28" r="1" fill="#9cc0f4" stroke="#6aa0ea" stroke-width="0.3"/>
<circle cx="79.01" cy="273.52" r="1" fill="#9cc0f4" stroke="#6aa0ea" stroke-width="0.3"/>
<circle cx="69.81" cy="274.55" r="1" fill="#9cc0f4" stroke="#6aa0ea" stroke-width="0.3"/>
<circle cx="69.74" cy="271.49" r="1" fill="#9cc0f4" stroke="#6aa0ea" stroke-width="0.3"/>
<circle cx="71.58" cy="242.55" r="1" fill="#9cc0f4" stroke="#6aa0ea" stroke-width="0.3"/>
<circle cx="74.54" cy="228.44" r="1" fill="#9cc0f4" stroke="#6aa0ea" stroke-width="0.3"/>
<circle cx="75.06" cy="256.37" r="1" fill="#9cc0f4" stroke="#6aa0ea" stroke-width="0.3"/>
<circle cx="71.42" cy="267.94" r="1" fill="#9cc0f4" stroke="#6aa0ea" stroke-width="0.3"/>
<circle cx="74.35" cy="241.36" r="1" fill="#9cc0f4" stroke="#6aa0ea" stroke-width="0.3"/>
<circle cx="73.93" cy="285.43" r="1" fill="#9cc0f4" stroke="#6aa0ea" stroke-width="0.3"/>
<circle cx="75.96" cy="270.16" r="1" fill="#9cc0f4" stroke="#6aa0ea" stroke-width="0.3"/>
<circle cx="75.6" cy="283.7" r="1" fill="#9cc0f4" stroke="#6aa0ea" stroke-width="0.3"/>
<circle cx="78.29" cy="283.77" r="1" fill="#9cc0f4" stroke="#6aa0ea" stroke-width="0.3"/>
<circle cx="78.75" cy="285.18" r="1" fill="#9cc0f4" stroke="#6aa0ea" stroke-width="0.3"/>
<circle cx="76.43" cy="279.92" r="1" fill="#9cc0f4" stroke="#6aa0ea" stroke-width="0.3"/>
<circle cx="75.62" cy="274.28" r="1" fill="#9cc0f4" stroke="#6aa0ea" stroke-width="0.3"/>
<circle cx="70.44" cy="280.4" r="1" fill="#9cc0f4" stroke="#6aa0ea" stroke-width="0.3"/>
<circle cx="76.8" cy="270.21" r="1" fill="#9cc0f4" stroke="#6aa0ea" stroke-width="0.3"/>
<circle cx="72.45" cy="269.61" r="1" fill="#9cc0f4" stroke="#6aa0ea" stroke-width="0.3"/>
<circle cx="78.1" cy="278.61" r="1" fill="#9cc0f4" stroke="#6aa0ea" stroke-width="0.3"/>
<circle cx="71.22" cy="275.55" r="1" fill="#9cc0f4" stroke="#6aa0ea" stroke-width="0.3"/>
<circle cx="73" cy="255.05" r="1" fill="#9cc0f4" stroke="#6aa0ea" stroke-width="0.3"/>
<circle cx="76.99" cy="274.62" r="1" fill="#9cc0f4" stroke="#6aa0ea" stroke-width="0.3"/>
<circle cx="69.73" cy="266.91" r="1" fill="#9cc0f4" stroke="#6aa0ea" stroke-width="0.3"/>
<circle cx="69.74" cy="285.78" r="1" fill="#9cc0f4" stroke="#6aa0ea" stroke-width="0.3"/>
<circle cx="72.11" cy="246.64" r="1" fill="#9cc0f4" stroke="#6aa0ea" stroke-width="0.3"/>
<circle cx="76.68" cy="277.77" r="1" fill="#9cc0f4" stroke="#6aa0ea" stroke-width="0.3"/>
<circle cx="74.55" cy="246.15" r="1" fill="#9cc0f4" stroke="#6aa0ea" stroke-width="0.3"/>
<circle cx="70.63" cy="278.23" r="1" fill="#9cc0f4" stroke="#6aa0ea" stroke-width="0.3"/>
<circle cx="70.72" cy="273.94" r="1" fill="#9cc0f4" stroke="#6aa0ea" stroke-width="0.3"/>
<circle cx="68.83" cy="268.55" r="1" fill="#9cc0f4" stroke="#6aa0ea" stroke-width="0.3"/>
<circle cx="76.7" cy="242.94" r="1" fill="#9cc0f4" stroke="#6aa0ea" stroke-width="0.3"/>
<circle cx="74.91" cy="274.34" r="1" fill="#9cc0f4" stroke="#6aa0ea" stroke-width="0.3"/>
<circle cx="76.05" cy="263.62" r="1" fill="#9cc0f4" stroke="#6aa0ea" stroke-width="0.3"/>
<circle cx="73.82" cy="266.57" r="1" fill="#9cc0f4" stroke="#6aa0ea" stroke-width="0.3"/>
<circle cx="68.53" cy="269.94" r="1" fill="#9cc0f4" stroke="#6aa0ea" stroke-width="0.3"/>
<circle cx="73.95" cy="248.11" r="1" fill="#9cc0f4" stroke="#6aa0ea" stroke-width="0.3"/>
<circle cx="70.63" cy="276.66" r="1" fill="#9cc0f4" stroke="#6aa0ea" stroke-width="0.3"/>
<circle cx="74" cy="287.36" r="1" fill="#9cc0f4" stroke="#6aa0ea" stroke-width="0.3"/>
<circle cx="74.73" cy="277.07" r="1" fill="#9cc0f4" stroke="#6aa0ea" stroke-width="0.3"/>
<circle cx="73.27" cy="216.76" r="1" fill="#9cc0f4" stroke="#6aa0ea" stroke-width="0.3"/>
<circle cx="71.3" cy="248.98" r="1" fill="#9cc0f4" stroke="#6aa0ea" stroke-width="0.3"/>
<circle cx="69.36" cy="282.4" r="1" fill="#9cc0f4" stroke="#6aa0ea" stroke-width="0.3"/>
<circle cx="72.05" cy="264.81" r="1" fill="#9cc0f4" stroke="#6aa0ea" stroke-width="0.3"/>
<circle cx="71.81" cy="247.37" r="1" fill="#9cc0f4" stroke="#6aa0ea" stroke-width="0.3"/>
<circle cx="76.56" cy="249.48" r="1" fill="#9cc0f4" stroke="#6aa0ea" stroke-width="0.3"/>
<circle cx="72.28" cy="269.61" r="1" fill="#9cc0f4" stroke="#6aa0ea" stroke-width="0.3"/>
<circle cx="76.17" cy="242.03" r="1" fill="#9cc0f4" stroke="#6aa0ea" stroke-width="0.3"/>
<circle cx="73.84" cy="269.18" r="1" fill="#9cc0f4" stroke="#6aa0ea" stroke-width="0.3"/>
<circle cx="69.36" cy="287.22" r="1" fill="#9cc0f4" stroke="#6aa0ea" stroke-width="0.3"/>
<circle cx="73.97" cy="284.23" r="1" fill="#9cc0f4" stroke="#6aa0ea" stroke-width="0.3"/>
<circle cx="73.14" cy="274.72" r="1" fill="#9cc0f4" stroke="#6aa0ea" stroke-width="0.3"/>
<circle cx="73.61" cy="280.6" r="1" fill="#9cc0f4" stroke="#6aa0ea" stroke-width="0.3"/>
<circle cx="72.08" cy="253.99" r="1" fill="#9cc0f4" stroke="#6aa0ea" stroke-width="0.3"/>
<circle cx="73.2" cy="246.81" r="1" fill="#9cc0f4" stroke="#6aa0ea" stroke-width="0.3"/>
<circle cx="75.06" cy="274.93" r="1" fill="#9cc0f4" stroke="#6aa0ea" stroke-width="0.3"/>
<circle cx="70.8" cy="288.23" r="1" fill="#9cc0f4" stroke="#6aa0ea" stroke-width="0.3"/>
<circle cx="73.76" cy="259.8" r="1" fill="#9cc0f4" stroke="#6aa0ea" stroke-width="0.3"/>
<circle cx="70.38" cy="283.01" r="1" fill="#9cc0f4" stroke="#6aa0ea" stroke-width="0.3"/>
<circle cx="68.8" cy="284.04" r="1" fill="#9cc0f4" stroke="#6aa0ea" stroke-width="0.3"/>
<circle cx="73.89" cy="284.05" r="1" fill="#9cc0f4" stroke="#6aa0ea" stroke-width="0.3"/>
<circle cx="73.43" cy="287.73" r="1" fill="#9cc0f4" stroke="#6aa0ea" stroke-width="0.3"/>
<circle cx="69.06" cy="270.53" r="1" fill="#9cc0f4" stroke="#6aa0ea" stroke-width="0.3"/>
<circle cx="68.79" cy="278.28" r="1" fill="#9cc0f4" stroke="#6aa0ea" stroke-width="0.3"/>
<rect x="43.8" y="258.53" width="14.9" height="32.47" fill="none" stroke="#a03cc8" stroke-width="1"/>
<rect x="66.3" y="266.19" width="15.4" height="24.81" fill="none" stroke="#6aa6e8" stroke-width="1"/>
<line x1="51.2" y1="245" x2="51.2" y2="272.06" stroke="#7a1fa0" stroke-width="1"/>
<line x1="47.5" y1="245" x2="55" y2="245" stroke="#7a1fa0" stroke-width="1"/>
<line x1="47.5" y1="272.06" x2="55" y2="272.06" stroke="#7a1fa0" stroke-width="1"/>
<line x1="74" y1="249.96" x2="74" y2="281.98" stroke="#3a6fc0" stroke-width="1"/>
<line x1="70.5" y1="249.96" x2="77.5" y2="249.96" stroke="#3a6fc0" stroke-width="1"/>
<line x1="70.5" y1="281.98" x2="77.5" y2="281.98" stroke="#3a6fc0" stroke-width="1"/>
<line x1="43.8" y1="258.53" x2="58.7" y2="258.53" stroke="#a03cc8" stroke-width="1.4"/>
<line x1="66.3" y1="266.19" x2="81.7" y2="266.19" stroke="#6aa6e8" stroke-width="1.4"/>
<line x1="35.5" y1="257.5" x2="89.2" y2="257.5" stroke="#444" stroke-width="0.8" stroke-dasharray="1.5 1.2"/>
<line x1="51.2" y1="291" x2="51.2" y2="293.5" stroke="#555" stroke-width="0.8"/>
<line x1="74" y1="291" x2="74" y2="293.5" stroke="#555" stroke-width="0.8"/>
<text x="50.8" y="303.84" font-size="8" text-anchor="middle" fill="#000" stroke="#000" stroke-width="0.22">S</text>
<text x="73" y="303.84" font-size="8" text-anchor="middle" fill="#000" stroke="#000" stroke-width="0.22">C</text>
<circle cx="39.8" cy="324.5" r="15.7" fill="#fff" stroke="none" stroke-width="1"/>
<path d="M39.8 324.5 L39.8 308.8 A15.7 15.7 0 1 1 27.7 334.51 Z" fill="#d9cdb6" stroke="none" stroke-width="0"/>
<circle cx="39.8" cy="324.5" r="15.7" fill="none" stroke="#8a4fb0" stroke-width="1.3"/>
<line x1="39.8" y1="324.5" x2="39.8" y2="308.8" stroke="#777" stroke-width="1.1"/>
<line x1="39.8" y1="324.5" x2="27.7" y2="334.51" stroke="#8a4fb0" stroke-width="1.1"/>
<circle cx="79" cy="324.2" r="15.5" fill="#fff" stroke="none" stroke-width="1"/>
<path d="M79 324.2 L79 308.7 A15.5 15.5 0 1 1 64.59 318.49 Z" fill="#d9cdb6" stroke="none" stroke-width="0"/>
<circle cx="79" cy="324.2" r="15.5" fill="none" stroke="#2bb0d8" stroke-width="1.3"/>
<line x1="79" y1="324.2" x2="79" y2="308.7" stroke="#777" stroke-width="1.1"/>
<line x1="79" y1="324.2" x2="64.59" y2="318.49" stroke="#2bb0d8" stroke-width="1.1"/>
<text x="45.5" y="328.27" font-size="6.4" text-anchor="middle" fill="#444" stroke="#444" stroke-width="0.22">64%</text>
<text x="45" y="334.77" font-size="6.4" text-anchor="middle" fill="#444" stroke="#444" stroke-width="0.22">&#8211;</text>
<text x="32.5" y="324.27" font-size="6.4" text-anchor="middle" fill="#444" stroke="#444" stroke-width="0.22">+</text>
<text x="85.5" y="328.27" font-size="6.4" text-anchor="middle" fill="#444" stroke="#444" stroke-width="0.22">81%</text>
<text x="84.5" y="334.77" font-size="6.4" text-anchor="middle" fill="#444" stroke="#444" stroke-width="0.22">&#8211;</text>
<text x="73" y="318.27" font-size="6.4" text-anchor="middle" fill="#444" stroke="#444" stroke-width="0.22">+</text>
<text x="23.5" y="312.91" font-size="6.8" text-anchor="middle" fill="#9b59c8" stroke="#9b59c8" stroke-width="0.22" transform="rotate(-50 23.5 310.5)">36%</text>
<text x="63" y="311.41" font-size="6.8" text-anchor="middle" fill="#2bb0d8" stroke="#2bb0d8" stroke-width="0.22" transform="rotate(-50 63 309)">19%</text>
<text x="40.3" y="347.75" font-size="6.9" text-anchor="middle" fill="#8a4fb0" stroke="#8a4fb0" stroke-width="0.22">S = Single</text>
<text x="39.6" y="355.25" font-size="6.9" text-anchor="middle" fill="#8a4fb0" stroke="#8a4fb0" stroke-width="0.22">(<tspan font-style="italic">n</tspan> = 83)</text>
<text x="79" y="347.75" font-size="6.9" text-anchor="middle" fill="#3a8fd8" stroke="#3a8fd8" stroke-width="0.22">C = Cluster</text>
<text x="79.7" y="355.25" font-size="6.9" text-anchor="middle" fill="#3a8fd8" stroke="#3a8fd8" stroke-width="0.22">(<tspan font-style="italic">n</tspan> = 102)</text>
<path d="M45.5 359.3 L45.5 361.4 L71.8 361.4 L71.8 359.3" fill="none" stroke="#333" stroke-width="0.9"/>
<text x="59.3" y="369.02" font-size="7.1" text-anchor="middle" fill="#000" stroke="#000" stroke-width="0.22"><tspan font-style="italic">P</tspan> = 0.008</text>
<text x="105.3" y="186.71" font-size="11" text-anchor="start" fill="#000" stroke="#000" stroke-width="0.22" font-weight="bold">E</text>
<text x="184" y="189.7" font-size="7.6" text-anchor="middle" fill="#000" stroke="#000" stroke-width="0.22">Patient CTCs</text>
<text x="196.6" y="204.13" font-size="7.4" text-anchor="start" fill="#000" stroke="#000" stroke-width="0.22"><tspan font-style="italic">R</tspan> = 0.4052</text>
<text x="196.6" y="212.83" font-size="7.4" text-anchor="start" fill="#000" stroke="#000" stroke-width="0.22"><tspan font-style="italic">P</tspan> &lt; 0.00001</text>
<text x="196.6" y="221.43" font-size="7.4" text-anchor="start" fill="#000" stroke="#000" stroke-width="0.22"><tspan font-style="italic">n</tspan> = 164 CTCs</text>
<text x="147" y="201.33" font-size="7.4" text-anchor="end" fill="#000" stroke="#000" stroke-width="0.22">4.E + 05</text>
<text x="147" y="226.83" font-size="7.4" text-anchor="end" fill="#000" stroke="#000" stroke-width="0.22">3.E + 05</text>
<text x="147" y="252.33" font-size="7.4" text-anchor="end" fill="#000" stroke="#000" stroke-width="0.22">2.E + 05</text>
<text x="147" y="278.13" font-size="7.4" text-anchor="end" fill="#000" stroke="#000" stroke-width="0.22">1.E + 05</text>
<text x="147" y="303.63" font-size="7.4" text-anchor="end" fill="#000" stroke="#000" stroke-width="0.22">0.E + 00</text>
<text x="132" y="312.33" font-size="7.4" text-anchor="middle" fill="#000" stroke="#000" stroke-width="0.22">&#8722;5.E + 04</text>
<text x="165" y="312.33" font-size="7.4" text-anchor="middle" fill="#000" stroke="#000" stroke-width="0.22">5.E + 04</text>
<text x="201.3" y="312.33" font-size="7.4" text-anchor="middle" fill="#000" stroke="#000" stroke-width="0.22">2.E + 05</text>
<text x="234.6" y="312.33" font-size="7.4" text-anchor="middle" fill="#000" stroke="#000" stroke-width="0.22">3.E + 05</text>
<text x="184" y="328.2" font-size="7.6" text-anchor="middle" fill="#000" stroke="#000" stroke-width="0.22">DAPI intensity</text>
<text x="113" y="252.63" font-size="7.4" text-anchor="middle" fill="#000" stroke="#000" stroke-width="0.22" transform="rotate(-90 113 250)">SNA intensity (&#945;2,6-SA)</text>
<line x1="150.5" y1="196.5" x2="150.5" y2="301.5" stroke="#a0a0a0" stroke-width="1.3"/>
<line x1="139" y1="301.5" x2="236" y2="301.5" stroke="#707070" stroke-width="1.2"/>
<circle cx="183.6" cy="210.8" r="2.35" fill="#454545" stroke="none" stroke-width="1"/>
<circle cx="192.3" cy="216.5" r="2.35" fill="#454545" stroke="none" stroke-width="1"/>
<circle cx="193.2" cy="220.3" r="2.35" fill="#454545" stroke="none" stroke-width="1"/>
<circle cx="186.5" cy="230.4" r="2.35" fill="#454545" stroke="none" stroke-width="1"/>
<circle cx="230.4" cy="229" r="2.35" fill="#454545" stroke="none" stroke-width="1"/>
<circle cx="233.3" cy="252" r="2.35" fill="#454545" stroke="none" stroke-width="1"/>
<circle cx="199.5" cy="242.8" r="2.35" fill="#454545" stroke="none" stroke-width="1"/>
<circle cx="205.3" cy="247.7" r="2.35" fill="#454545" stroke="none" stroke-width="1"/>
<circle cx="176.4" cy="249.7" r="2.35" fill="#454545" stroke="none" stroke-width="1"/>
<circle cx="184.2" cy="246.5" r="2.35" fill="#454545" stroke="none" stroke-width="1"/>
<circle cx="219.7" cy="270.8" r="2.35" fill="#454545" stroke="none" stroke-width="1"/>
<circle cx="203.8" cy="274.2" r="2.35" fill="#454545" stroke="none" stroke-width="1"/>
<circle cx="171.5" cy="264.4" r="2.35" fill="#454545" stroke="none" stroke-width="1"/>
<circle cx="156.8" cy="279.4" r="2.35" fill="#454545" stroke="none" stroke-width="1"/>
<circle cx="209.6" cy="294.4" r="2.35" fill="#454545" stroke="none" stroke-width="1"/>
<circle cx="209" cy="299.6" r="2.35" fill="#454545" stroke="none" stroke-width="1"/>
<circle cx="204.4" cy="297.3" r="2.35" fill="#454545" stroke="none" stroke-width="1"/>
<circle cx="200.9" cy="297.9" r="2.35" fill="#454545" stroke="none" stroke-width="1"/>
<circle cx="208.3" cy="300.6" r="2.35" fill="#454545" stroke="none" stroke-width="1"/>
<circle cx="198.8" cy="242.7" r="2.35" fill="#454545" stroke="none" stroke-width="1"/>
<circle cx="204.9" cy="247.4" r="2.35" fill="#454545" stroke="none" stroke-width="1"/>
<circle cx="203.5" cy="274.3" r="2.35" fill="#454545" stroke="none" stroke-width="1"/>
<circle cx="155.8" cy="295.2" r="2.35" fill="#454545" stroke="none" stroke-width="1"/>
<circle cx="163.8" cy="264.2" r="2.35" fill="#454545" stroke="none" stroke-width="1"/>
<circle cx="169.2" cy="267" r="2.35" fill="#454545" stroke="none" stroke-width="1"/>
<circle cx="172" cy="272.3" r="2.35" fill="#454545" stroke="none" stroke-width="1"/>
<circle cx="156.4" cy="279" r="2.35" fill="#454545" stroke="none" stroke-width="1"/>
<circle cx="161.28" cy="294.98" r="2.35" fill="#454545" stroke="none" stroke-width="1"/>
<circle cx="181.1" cy="290.18" r="2.35" fill="#454545" stroke="none" stroke-width="1"/>
<circle cx="160.52" cy="292.66" r="2.35" fill="#454545" stroke="none" stroke-width="1"/>
<circle cx="176.28" cy="298.9" r="2.35" fill="#454545" stroke="none" stroke-width="1"/>
<circle cx="162.85" cy="287.16" r="2.35" fill="#454545" stroke="none" stroke-width="1"/>
<circle cx="178.86" cy="295.76" r="2.35" fill="#454545" stroke="none" stroke-width="1"/>
<circle cx="183.37" cy="297.37" r="2.35" fill="#454545" stroke="none" stroke-width="1"/>
<circle cx="170.93" cy="291.27" r="2.35" fill="#454545" stroke="none" stroke-width="1"/>
<circle cx="186.64" cy="292.01" r="2.35" fill="#454545" stroke="none" stroke-width="1"/>
<circle cx="165.32" cy="287.19" r="2.35" fill="#454545" stroke="none" stroke-width="1"/>
<circle cx="173.01" cy="293.92" r="2.35" fill="#454545" stroke="none" stroke-width="1"/>
<circle cx="168.4" cy="292.61" r="2.35" fill="#454545" stroke="none" stroke-width="1"/>
<circle cx="174.71" cy="297.12" r="2.35" fill="#454545" stroke="none" stroke-width="1"/>
<circle cx="182.03" cy="294.15" r="2.35" fill="#454545" stroke="none" stroke-width="1"/>
<circle cx="159.18" cy="296.02" r="2.35" fill="#454545" stroke="none" stroke-width="1"/>
<circle cx="160.08" cy="292.14" r="2.35" fill="#454545" stroke="none" stroke-width="1"/>
<circle cx="159.79" cy="293.01" r="2.35" fill="#454545" stroke="none" stroke-width="1"/>
<circle cx="164.37" cy="294.26" r="2.35" fill="#454545" stroke="none" stroke-width="1"/>
<circle cx="186.97" cy="292.87" r="2.35" fill="#454545" stroke="none" stroke-width="1"/>
<circle cx="178.78" cy="286.61" r="2.35" fill="#454545" stroke="none" stroke-width="1"/>
<circle cx="169.13" cy="296.96" r="2.35" fill="#454545" stroke="none" stroke-width="1"/>
<circle cx="171.03" cy="295.31" r="2.35" fill="#454545" stroke="none" stroke-width="1"/>
<circle cx="172.97" cy="287.33" r="2.35" fill="#454545" stroke="none" stroke-width="1"/>
<circle cx="177.32" cy="288.4" r="2.35" fill="#454545" stroke="none" stroke-width="1"/>
<circle cx="185.33" cy="290.84" r="2.35" fill="#454545" stroke="none" stroke-width="1"/>
<circle cx="178.87" cy="293.01" r="2.35" fill="#454545" stroke="none" stroke-width="1"/>
<circle cx="180.69" cy="289.7" r="2.35" fill="#454545" stroke="none" stroke-width="1"/>
<circle cx="181.38" cy="292.3" r="2.35" fill="#454545" stroke="none" stroke-width="1"/>
<circle cx="182.67" cy="296.16" r="2.35" fill="#454545" stroke="none" stroke-width="1"/>
<circle cx="173.39" cy="288.4" r="2.35" fill="#454545" stroke="none" stroke-width="1"/>
<circle cx="179.39" cy="295.7" r="2.35" fill="#454545" stroke="none" stroke-width="1"/>
<circle cx="184.73" cy="291.25" r="2.35" fill="#454545" stroke="none" stroke-width="1"/>
<circle cx="177.49" cy="296.02" r="2.35" fill="#454545" stroke="none" stroke-width="1"/>
<circle cx="174.96" cy="294.31" r="2.35" fill="#454545" stroke="none" stroke-width="1"/>
<circle cx="173.84" cy="289.37" r="2.35" fill="#454545" stroke="none" stroke-width="1"/>
<circle cx="162.65" cy="290.81" r="2.35" fill="#454545" stroke="none" stroke-width="1"/>
<circle cx="176.67" cy="300.17" r="2.35" fill="#454545" stroke="none" stroke-width="1"/>
<circle cx="180.18" cy="298.29" r="2.35" fill="#454545" stroke="none" stroke-width="1"/>
<circle cx="179.24" cy="296.9" r="2.35" fill="#454545" stroke="none" stroke-width="1"/>
<circle cx="173.8" cy="297.55" r="2.35" fill="#454545" stroke="none" stroke-width="1"/>
<circle cx="185.22" cy="291.53" r="2.35" fill="#454545" stroke="none" stroke-width="1"/>
<circle cx="167.29" cy="300.5" r="2.35" fill="#454545" stroke="none" stroke-width="1"/>
<circle cx="174.3" cy="298.48" r="2.35" fill="#454545" stroke="none" stroke-width="1"/>
<circle cx="179.33" cy="287.29" r="2.35" fill="#454545" stroke="none" stroke-width="1"/>
<circle cx="184.05" cy="298.28" r="2.35" fill="#454545" stroke="none" stroke-width="1"/>
<circle cx="173.74" cy="297.45" r="2.35" fill="#454545" stroke="none" stroke-width="1"/>
<circle cx="173.22" cy="287.89" r="2.35" fill="#454545" stroke="none" stroke-width="1"/>
<circle cx="170.83" cy="295.34" r="2.35" fill="#454545" stroke="none" stroke-width="1"/>
<circle cx="181.66" cy="296.69" r="2.35" fill="#454545" stroke="none" stroke-width="1"/>
<circle cx="172.51" cy="299.97" r="2.35" fill="#454545" stroke="none" stroke-width="1"/>
<circle cx="165.01" cy="297.37" r="2.35" fill="#454545" stroke="none" stroke-width="1"/>
<circle cx="182.09" cy="291.41" r="2.35" fill="#454545" stroke="none" stroke-width="1"/>
<circle cx="159.54" cy="289.22" r="2.35" fill="#454545" stroke="none" stroke-width="1"/>
<circle cx="174.41" cy="296.22" r="2.35" fill="#454545" stroke="none" stroke-width="1"/>
<circle cx="183.38" cy="288.57" r="2.35" fill="#454545" stroke="none" stroke-width="1"/>
<circle cx="172.02" cy="296.92" r="2.35" fill="#454545" stroke="none" stroke-width="1"/>
<circle cx="171.03" cy="284.29" r="2.35" fill="#454545" stroke="none" stroke-width="1"/>
<circle cx="176.82" cy="300.5" r="2.35" fill="#454545" stroke="none" stroke-width="1"/>
<circle cx="180.6" cy="288.28" r="2.35" fill="#454545" stroke="none" stroke-width="1"/>
<circle cx="167.74" cy="294.37" r="2.35" fill="#454545" stroke="none" stroke-width="1"/>
<circle cx="186.28" cy="295.13" r="2.35" fill="#454545" stroke="none" stroke-width="1"/>
<circle cx="172.92" cy="300.5" r="2.35" fill="#454545" stroke="none" stroke-width="1"/>
<circle cx="171.4" cy="300.5" r="2.35" fill="#454545" stroke="none" stroke-width="1"/>
<circle cx="165.32" cy="290.22" r="2.35" fill="#454545" stroke="none" stroke-width="1"/>
<circle cx="177.75" cy="299.82" r="2.35" fill="#454545" stroke="none" stroke-width="1"/>
<circle cx="178.51" cy="294.8" r="2.35" fill="#454545" stroke="none" stroke-width="1"/>
<circle cx="159.1" cy="289.97" r="2.35" fill="#454545" stroke="none" stroke-width="1"/>
<circle cx="166.02" cy="289.87" r="2.35" fill="#454545" stroke="none" stroke-width="1"/>
<circle cx="177.88" cy="290.98" r="2.35" fill="#454545" stroke="none" stroke-width="1"/>
<circle cx="179.74" cy="293.49" r="2.35" fill="#454545" stroke="none" stroke-width="1"/>
<circle cx="168.52" cy="293.74" r="2.35" fill="#454545" stroke="none" stroke-width="1"/>
<circle cx="176.07" cy="297.89" r="2.35" fill="#454545" stroke="none" stroke-width="1"/>
<circle cx="167.11" cy="291.57" r="2.35" fill="#454545" stroke="none" stroke-width="1"/>
<circle cx="162.83" cy="299.47" r="2.35" fill="#454545" stroke="none" stroke-width="1"/>
<circle cx="184.07" cy="292.11" r="2.35" fill="#454545" stroke="none" stroke-width="1"/>
<circle cx="167.86" cy="286.58" r="2.35" fill="#454545" stroke="none" stroke-width="1"/>
<circle cx="173.79" cy="294.3" r="2.35" fill="#454545" stroke="none" stroke-width="1"/>
<circle cx="186.22" cy="293.96" r="2.35" fill="#454545" stroke="none" stroke-width="1"/>
<circle cx="167.54" cy="284.58" r="2.35" fill="#454545" stroke="none" stroke-width="1"/>
<circle cx="183.86" cy="293.96" r="2.35" fill="#454545" stroke="none" stroke-width="1"/>
<circle cx="159.26" cy="293.86" r="2.35" fill="#454545" stroke="none" stroke-width="1"/>
<circle cx="165.71" cy="300.5" r="2.35" fill="#454545" stroke="none" stroke-width="1"/>
<circle cx="181.87" cy="296.03" r="2.35" fill="#454545" stroke="none" stroke-width="1"/>
<circle cx="170.84" cy="284.49" r="2.35" fill="#454545" stroke="none" stroke-width="1"/>
<circle cx="170.98" cy="285.48" r="2.35" fill="#454545" stroke="none" stroke-width="1"/>
<circle cx="175.85" cy="284.71" r="2.35" fill="#454545" stroke="none" stroke-width="1"/>
<circle cx="164.59" cy="298.98" r="2.35" fill="#454545" stroke="none" stroke-width="1"/>
<circle cx="183.37" cy="288.1" r="2.35" fill="#454545" stroke="none" stroke-width="1"/>
<circle cx="160.43" cy="296.98" r="2.35" fill="#454545" stroke="none" stroke-width="1"/>
<circle cx="179.43" cy="287.85" r="2.35" fill="#454545" stroke="none" stroke-width="1"/>
<circle cx="165.44" cy="289.07" r="2.35" fill="#454545" stroke="none" stroke-width="1"/>
<circle cx="161.84" cy="289.51" r="2.35" fill="#454545" stroke="none" stroke-width="1"/>
<circle cx="182.5" cy="296.48" r="2.35" fill="#454545" stroke="none" stroke-width="1"/>
<circle cx="186.06" cy="292.65" r="2.35" fill="#454545" stroke="none" stroke-width="1"/>
<circle cx="170.72" cy="287.44" r="2.35" fill="#454545" stroke="none" stroke-width="1"/>
<circle cx="170.93" cy="286.17" r="2.35" fill="#454545" stroke="none" stroke-width="1"/>
<circle cx="159.21" cy="296.01" r="2.35" fill="#454545" stroke="none" stroke-width="1"/>
<circle cx="183.23" cy="296.92" r="2.35" fill="#454545" stroke="none" stroke-width="1"/>
<circle cx="183.43" cy="294.3" r="2.35" fill="#454545" stroke="none" stroke-width="1"/>
<circle cx="164.85" cy="293.52" r="2.35" fill="#454545" stroke="none" stroke-width="1"/>
<circle cx="168.63" cy="286.99" r="2.35" fill="#454545" stroke="none" stroke-width="1"/>
<circle cx="161.18" cy="287.31" r="2.35" fill="#454545" stroke="none" stroke-width="1"/>
<circle cx="171.94" cy="293.96" r="2.35" fill="#454545" stroke="none" stroke-width="1"/>
<circle cx="168.11" cy="300.03" r="2.35" fill="#454545" stroke="none" stroke-width="1"/>
<circle cx="173.81" cy="296.54" r="2.35" fill="#454545" stroke="none" stroke-width="1"/>
<circle cx="182.11" cy="288.92" r="2.35" fill="#454545" stroke="none" stroke-width="1"/>
<circle cx="158.77" cy="296.03" r="2.35" fill="#454545" stroke="none" stroke-width="1"/>
<circle cx="166.31" cy="299.5" r="2.35" fill="#454545" stroke="none" stroke-width="1"/>
<circle cx="175.13" cy="298.6" r="2.35" fill="#454545" stroke="none" stroke-width="1"/>
<circle cx="176.94" cy="284.92" r="2.35" fill="#454545" stroke="none" stroke-width="1"/>
<circle cx="178.79" cy="289.19" r="2.35" fill="#454545" stroke="none" stroke-width="1"/>
<circle cx="164.69" cy="290.47" r="2.35" fill="#454545" stroke="none" stroke-width="1"/>
<circle cx="178.93" cy="297.79" r="2.35" fill="#454545" stroke="none" stroke-width="1"/>
<circle cx="179.19" cy="285.92" r="2.35" fill="#454545" stroke="none" stroke-width="1"/>
<circle cx="168.47" cy="284.49" r="2.35" fill="#454545" stroke="none" stroke-width="1"/>
<circle cx="179.43" cy="261.9" r="2.35" fill="#454545" stroke="none" stroke-width="1"/>
<circle cx="182.21" cy="264.98" r="2.35" fill="#454545" stroke="none" stroke-width="1"/>
<circle cx="178.43" cy="269.01" r="2.35" fill="#454545" stroke="none" stroke-width="1"/>
<circle cx="185.01" cy="271.32" r="2.35" fill="#454545" stroke="none" stroke-width="1"/>
<circle cx="180.05" cy="281.33" r="2.35" fill="#454545" stroke="none" stroke-width="1"/>
<circle cx="190.71" cy="270.12" r="2.35" fill="#454545" stroke="none" stroke-width="1"/>
<circle cx="176.19" cy="257.91" r="2.35" fill="#454545" stroke="none" stroke-width="1"/>
<circle cx="188.97" cy="258.2" r="2.35" fill="#454545" stroke="none" stroke-width="1"/>
<circle cx="186.34" cy="273.55" r="2.35" fill="#454545" stroke="none" stroke-width="1"/>
<circle cx="179.94" cy="279.95" r="2.35" fill="#454545" stroke="none" stroke-width="1"/>
<circle cx="175.31" cy="260.94" r="2.35" fill="#454545" stroke="none" stroke-width="1"/>
<circle cx="182.28" cy="257.72" r="2.35" fill="#454545" stroke="none" stroke-width="1"/>
<circle cx="188.27" cy="263.88" r="2.35" fill="#454545" stroke="none" stroke-width="1"/>
<circle cx="177.25" cy="258.36" r="2.35" fill="#454545" stroke="none" stroke-width="1"/>
<circle cx="185.07" cy="269.95" r="2.35" fill="#454545" stroke="none" stroke-width="1"/>
<circle cx="185.08" cy="276" r="2.35" fill="#454545" stroke="none" stroke-width="1"/>
<circle cx="187.92" cy="284.8" r="2.35" fill="#454545" stroke="none" stroke-width="1"/>
<circle cx="185.95" cy="262.78" r="2.35" fill="#454545" stroke="none" stroke-width="1"/>
<circle cx="182.6" cy="262.18" r="2.35" fill="#454545" stroke="none" stroke-width="1"/>
<circle cx="175.17" cy="270.69" r="2.35" fill="#454545" stroke="none" stroke-width="1"/>
<circle cx="186.43" cy="262.19" r="2.35" fill="#454545" stroke="none" stroke-width="1"/>
<circle cx="179.36" cy="267.03" r="2.35" fill="#454545" stroke="none" stroke-width="1"/>
<circle cx="186.16" cy="272.09" r="2.35" fill="#454545" stroke="none" stroke-width="1"/>
<circle cx="184.83" cy="278.93" r="2.35" fill="#454545" stroke="none" stroke-width="1"/>
<circle cx="181.3" cy="279.97" r="2.35" fill="#454545" stroke="none" stroke-width="1"/>
<circle cx="189.5" cy="259.53" r="2.35" fill="#454545" stroke="none" stroke-width="1"/>
<circle cx="189.92" cy="277.95" r="2.35" fill="#454545" stroke="none" stroke-width="1"/>
<circle cx="177.08" cy="270.15" r="2.35" fill="#454545" stroke="none" stroke-width="1"/>
<circle cx="185.01" cy="283.39" r="2.35" fill="#454545" stroke="none" stroke-width="1"/>
<circle cx="181.03" cy="273.5" r="2.35" fill="#454545" stroke="none" stroke-width="1"/>
<circle cx="189.07" cy="280.11" r="2.35" fill="#454545" stroke="none" stroke-width="1"/>
<circle cx="190.11" cy="270.45" r="2.35" fill="#454545" stroke="none" stroke-width="1"/>
<circle cx="192.82" cy="281.89" r="2.35" fill="#454545" stroke="none" stroke-width="1"/>
<circle cx="193.66" cy="293.55" r="2.35" fill="#454545" stroke="none" stroke-width="1"/>
<circle cx="192.7" cy="291.64" r="2.35" fill="#454545" stroke="none" stroke-width="1"/>
<circle cx="187.56" cy="295.1" r="2.35" fill="#454545" stroke="none" stroke-width="1"/>
<circle cx="196.77" cy="296.57" r="2.35" fill="#454545" stroke="none" stroke-width="1"/>
<circle cx="191.44" cy="293.02" r="2.35" fill="#454545" stroke="none" stroke-width="1"/>
<circle cx="188.84" cy="295.29" r="2.35" fill="#454545" stroke="none" stroke-width="1"/>
<circle cx="195.27" cy="284.62" r="2.35" fill="#454545" stroke="none" stroke-width="1"/>
<circle cx="185.99" cy="286.38" r="2.35" fill="#454545" stroke="none" stroke-width="1"/>
<circle cx="191.6" cy="292.6" r="2.35" fill="#454545" stroke="none" stroke-width="1"/>
<circle cx="190.85" cy="278.54" r="2.35" fill="#454545" stroke="none" stroke-width="1"/>
<circle cx="194.71" cy="279.22" r="2.35" fill="#454545" stroke="none" stroke-width="1"/>
<circle cx="194.6" cy="281.29" r="2.35" fill="#454545" stroke="none" stroke-width="1"/>
<circle cx="189.02" cy="292.97" r="2.35" fill="#454545" stroke="none" stroke-width="1"/>
<circle cx="186.69" cy="280.82" r="2.35" fill="#454545" stroke="none" stroke-width="1"/>
<circle cx="191.2" cy="291.75" r="2.35" fill="#454545" stroke="none" stroke-width="1"/>
<circle cx="173.44" cy="283.03" r="2.35" fill="#454545" stroke="none" stroke-width="1"/>
<circle cx="175.13" cy="279.88" r="2.35" fill="#454545" stroke="none" stroke-width="1"/>
<circle cx="175.19" cy="273.38" r="2.35" fill="#454545" stroke="none" stroke-width="1"/>
<circle cx="163.54" cy="280.43" r="2.35" fill="#454545" stroke="none" stroke-width="1"/>
<circle cx="164.64" cy="283.66" r="2.35" fill="#454545" stroke="none" stroke-width="1"/>
<circle cx="170.22" cy="280.36" r="2.35" fill="#454545" stroke="none" stroke-width="1"/>
<circle cx="173.5" cy="280.96" r="2.35" fill="#454545" stroke="none" stroke-width="1"/>
<circle cx="164.99" cy="278.1" r="2.35" fill="#454545" stroke="none" stroke-width="1"/>
<circle cx="173.52" cy="286.41" r="2.35" fill="#454545" stroke="none" stroke-width="1"/>
<circle cx="163.33" cy="285.61" r="2.35" fill="#454545" stroke="none" stroke-width="1"/>
<line x1="155.8" y1="295" x2="233.4" y2="252" stroke="#000" stroke-width="1.4"/>
<text x="252.7" y="187.71" font-size="11" text-anchor="start" fill="#000" stroke="#000" stroke-width="0.22" font-weight="bold">F</text>
<text x="335.3" y="189.4" font-size="7.6" text-anchor="middle" fill="#000" stroke="#000" stroke-width="0.22">M1-PDX CTCs</text>
<text x="297.5" y="209.63" font-size="7.4" text-anchor="start" fill="#000" stroke="#000" stroke-width="0.22"><tspan font-style="italic">R</tspan> = 0.6278</text>
<text x="297.5" y="219.63" font-size="7.4" text-anchor="start" fill="#000" stroke="#000" stroke-width="0.22"><tspan font-style="italic">P</tspan> = 0.00304</text>
<line x1="281.8" y1="201" x2="281.8" y2="322.7" stroke="#333" stroke-width="0.9"/>
<line x1="281.8" y1="302.5" x2="392" y2="302.5" stroke="#333" stroke-width="0.9"/>
<line x1="279.8" y1="201.5" x2="281.8" y2="201.5" stroke="#333" stroke-width="0.8"/>
<text x="278.5" y="204.06" font-size="7.2" text-anchor="end" fill="#000" stroke="#000" stroke-width="0.22">100</text>
<line x1="279.8" y1="221.7" x2="281.8" y2="221.7" stroke="#333" stroke-width="0.8"/>
<text x="278.5" y="224.26" font-size="7.2" text-anchor="end" fill="#000" stroke="#000" stroke-width="0.22">80</text>
<line x1="279.8" y1="241.9" x2="281.8" y2="241.9" stroke="#333" stroke-width="0.8"/>
<text x="278.5" y="244.46" font-size="7.2" text-anchor="end" fill="#000" stroke="#000" stroke-width="0.22">60</text>
<line x1="279.8" y1="262.1" x2="281.8" y2="262.1" stroke="#333" stroke-width="0.8"/>
<text x="278.5" y="264.66" font-size="7.2" text-anchor="end" fill="#000" stroke="#000" stroke-width="0.22">40</text>
<line x1="279.8" y1="282.3" x2="281.8" y2="282.3" stroke="#333" stroke-width="0.8"/>
<text x="278.5" y="284.86" font-size="7.2" text-anchor="end" fill="#000" stroke="#000" stroke-width="0.22">20</text>
<line x1="279.8" y1="302.5" x2="281.8" y2="302.5" stroke="#333" stroke-width="0.8"/>
<text x="278.5" y="305.06" font-size="7.2" text-anchor="end" fill="#000" stroke="#000" stroke-width="0.22">0</text>
<line x1="279.8" y1="322.7" x2="281.8" y2="322.7" stroke="#333" stroke-width="0.8"/>
<text x="278.5" y="325.26" font-size="7.2" text-anchor="end" fill="#000" stroke="#000" stroke-width="0.22">&#8722;20</text>
<line x1="303.34" y1="302.5" x2="303.34" y2="304.5" stroke="#333" stroke-width="0.8"/>
<text x="303.34" y="313.06" font-size="7.2" text-anchor="middle" fill="#000" stroke="#000" stroke-width="0.22">20</text>
<line x1="324.88" y1="302.5" x2="324.88" y2="304.5" stroke="#333" stroke-width="0.8"/>
<text x="324.88" y="313.06" font-size="7.2" text-anchor="middle" fill="#000" stroke="#000" stroke-width="0.22">40</text>
<line x1="346.42" y1="302.5" x2="346.42" y2="304.5" stroke="#333" stroke-width="0.8"/>
<text x="346.42" y="313.06" font-size="7.2" text-anchor="middle" fill="#000" stroke="#000" stroke-width="0.22">60</text>
<line x1="367.96" y1="302.5" x2="367.96" y2="304.5" stroke="#333" stroke-width="0.8"/>
<text x="367.96" y="313.06" font-size="7.2" text-anchor="middle" fill="#000" stroke="#000" stroke-width="0.22">80</text>
<line x1="389.5" y1="302.5" x2="389.5" y2="304.5" stroke="#333" stroke-width="0.8"/>
<text x="389.5" y="313.06" font-size="7.2" text-anchor="middle" fill="#000" stroke="#000" stroke-width="0.22">100</text>
<text x="346" y="326.13" font-size="7.4" text-anchor="middle" fill="#000" stroke="#000" stroke-width="0.22">Ki-67<tspan font-size="5" dy="-2.5">+</tspan><tspan dy="2.5"> (%)</tspan></text>
<text x="259" y="264.73" font-size="7.7" text-anchor="middle" fill="#000" stroke="#000" stroke-width="0.22" transform="rotate(-90 259 262)">SNA high (%)</text>
<circle cx="376.58" cy="206.55" r="2.3" fill="#454545" stroke="none" stroke-width="1"/>
<circle cx="367.96" cy="221.7" r="2.3" fill="#454545" stroke="none" stroke-width="1"/>
<circle cx="363.65" cy="226.75" r="2.3" fill="#454545" stroke="none" stroke-width="1"/>
<circle cx="337.8" cy="229.78" r="2.3" fill="#454545" stroke="none" stroke-width="1"/>
<circle cx="327.03" cy="273.21" r="2.3" fill="#454545" stroke="none" stroke-width="1"/>
<circle cx="310.88" cy="274.22" r="2.3" fill="#454545" stroke="none" stroke-width="1"/>
<circle cx="305.49" cy="291.39" r="2.3" fill="#454545" stroke="none" stroke-width="1"/>
<circle cx="313.03" cy="289.37" r="2.3" fill="#454545" stroke="none" stroke-width="1"/>
<circle cx="310.88" cy="295.43" r="2.3" fill="#454545" stroke="none" stroke-width="1"/>
<circle cx="314.11" cy="296.44" r="2.3" fill="#454545" stroke="none" stroke-width="1"/>
<circle cx="311.96" cy="302.5" r="2.3" fill="#454545" stroke="none" stroke-width="1"/>
<circle cx="331.34" cy="300.48" r="2.3" fill="#454545" stroke="none" stroke-width="1"/>
<circle cx="346.42" cy="294.42" r="2.3" fill="#454545" stroke="none" stroke-width="1"/>
<circle cx="348.57" cy="296.44" r="2.3" fill="#454545" stroke="none" stroke-width="1"/>
<circle cx="362.57" cy="298.46" r="2.3" fill="#454545" stroke="none" stroke-width="1"/>
<circle cx="346.42" cy="302.5" r="2.3" fill="#454545" stroke="none" stroke-width="1"/>
<circle cx="281.8" cy="302.5" r="2.3" fill="#454545" stroke="none" stroke-width="1"/>
<circle cx="281.8" cy="310.58" r="2.3" fill="#454545" stroke="none" stroke-width="1"/>
<line x1="281.8" y1="310" x2="377" y2="246" stroke="#000" stroke-width="1.4"/>
<text x="393.2" y="187.21" font-size="11" text-anchor="start" fill="#000" stroke="#000" stroke-width="0.22" font-weight="bold">G</text>
<text x="467.6" y="189.6" font-size="7.6" text-anchor="middle" fill="#000" stroke="#000" stroke-width="0.22">M1-PDX CTCs</text>
<line x1="421.3" y1="203.2" x2="421.3" y2="302.4" stroke="#333" stroke-width="0.9"/>
<line x1="421.3" y1="302.4" x2="515" y2="302.4" stroke="#333" stroke-width="0.9"/>
<line x1="419.3" y1="203.7" x2="421.3" y2="203.7" stroke="#333" stroke-width="0.8"/>
<text x="418" y="206.26" font-size="7.2" text-anchor="end" fill="#000" stroke="#000" stroke-width="0.22">100</text>
<line x1="419.3" y1="253.05" x2="421.3" y2="253.05" stroke="#333" stroke-width="0.8"/>
<text x="418" y="255.61" font-size="7.2" text-anchor="end" fill="#000" stroke="#000" stroke-width="0.22">50</text>
<line x1="419.3" y1="302.4" x2="421.3" y2="302.4" stroke="#333" stroke-width="0.8"/>
<text x="418" y="304.96" font-size="7.2" text-anchor="end" fill="#000" stroke="#000" stroke-width="0.22">0</text>
<text x="403.5" y="255.63" font-size="7.4" text-anchor="middle" fill="#000" stroke="#000" stroke-width="0.22" transform="rotate(-90 403.5 253)">% of Ki-67<tspan font-size="5" dy="-2.5">+</tspan><tspan dy="2.5"> cells</tspan></text>
<rect x="429.6" y="256.01" width="12.8" height="46.39" fill="#fff" stroke="#8e3fb5" stroke-width="1"/>
<rect x="450.4" y="294.5" width="13.6" height="7.9" fill="#fff" stroke="#4a9ae8" stroke-width="1"/>
<rect x="472.5" y="258.97" width="13.5" height="43.43" fill="#6a1b9a" stroke="#6a1b9a" stroke-width="1"/>
<rect x="494" y="293.52" width="13" height="8.88" fill="#4a9ae8" stroke="#4a9ae8" stroke-width="1"/>
<line x1="436" y1="256.01" x2="436" y2="208.63" stroke="#8e3fb5" stroke-width="1"/>
<line x1="433.5" y1="208.63" x2="438.5" y2="208.63" stroke="#8e3fb5" stroke-width="1"/>
<line x1="479.2" y1="258.97" x2="479.2" y2="223.44" stroke="#b890d0" stroke-width="1"/>
<line x1="476.7" y1="223.44" x2="481.7" y2="223.44" stroke="#b890d0" stroke-width="1"/>
<line x1="457.2" y1="294.5" x2="457.2" y2="289.57" stroke="#4a9ae8" stroke-width="1"/>
<line x1="500.5" y1="293.52" x2="500.5" y2="280.69" stroke="#9cc4f0" stroke-width="1"/>
<line x1="498" y1="280.69" x2="503" y2="280.69" stroke="#9cc4f0" stroke-width="1"/>
<circle cx="436" cy="208.63" r="1.6" fill="#fff" stroke="#8e3fb5" stroke-width="0.9"/>
<circle cx="436" cy="223.44" r="1.6" fill="#fff" stroke="#8e3fb5" stroke-width="0.9"/>
<circle cx="432.5" cy="296.48" r="1.6" fill="#fff" stroke="#8e3fb5" stroke-width="0.9"/>
<circle cx="439" cy="295.49" r="1.6" fill="#fff" stroke="#8e3fb5" stroke-width="0.9"/>
<circle cx="454" cy="295.49" r="1.6" fill="#fff" stroke="#4a9ae8" stroke-width="0.9"/>
<circle cx="457" cy="290.56" r="1.6" fill="#fff" stroke="#4a9ae8" stroke-width="0.9"/>
<circle cx="460.5" cy="294.5" r="1.6" fill="#fff" stroke="#4a9ae8" stroke-width="0.9"/>
<circle cx="457.2" cy="293.52" r="1.6" fill="#fff" stroke="#4a9ae8" stroke-width="0.9"/>
<circle cx="479" cy="225.41" r="1.3" fill="#fff" stroke="#c8a0e0" stroke-width="0.8"/>
<circle cx="479" cy="228.37" r="1.3" fill="#fff" stroke="#c8a0e0" stroke-width="0.8"/>
<circle cx="479" cy="272.79" r="1.3" fill="#fff" stroke="#fff" stroke-width="0.8"/>
<circle cx="479" cy="292.53" r="1.3" fill="#fff" stroke="#fff" stroke-width="0.8"/>
<circle cx="500.5" cy="275.75" r="1.5" fill="#fff" stroke="#3a7fd0" stroke-width="0.8"/>
<circle cx="500.5" cy="292.53" r="1.5" fill="#4a9ae8" stroke="#3a7fd0" stroke-width="0.8"/>
<circle cx="497" cy="299.44" r="1.5" fill="#4a9ae8" stroke="#3a7fd0" stroke-width="0.8"/>
<circle cx="504" cy="299.44" r="1.5" fill="#4a9ae8" stroke="#3a7fd0" stroke-width="0.8"/>
<line x1="436" y1="302.4" x2="436" y2="304.4" stroke="#333" stroke-width="0.8"/>
<line x1="457.2" y1="302.4" x2="457.2" y2="304.4" stroke="#333" stroke-width="0.8"/>
<line x1="479.2" y1="302.4" x2="479.2" y2="304.4" stroke="#333" stroke-width="0.8"/>
<line x1="500.5" y1="302.4" x2="500.5" y2="304.4" stroke="#333" stroke-width="0.8"/>
<text x="436" y="314.2" font-size="7.6" text-anchor="middle" fill="#000" stroke="#000" stroke-width="0.22">S</text>
<text x="457.2" y="314.2" font-size="7.6" text-anchor="middle" fill="#000" stroke="#000" stroke-width="0.22">C</text>
<text x="479" y="314.2" font-size="7.6" text-anchor="middle" fill="#000" stroke="#000" stroke-width="0.22">S</text>
<text x="499.7" y="314.2" font-size="7.6" text-anchor="middle" fill="#000" stroke="#000" stroke-width="0.22">C</text>
<line x1="431.7" y1="317.3" x2="461.8" y2="317.3" stroke="#333" stroke-width="0.8"/>
<line x1="472.2" y1="317.3" x2="509.6" y2="317.3" stroke="#333" stroke-width="0.8"/>
<text x="447" y="327.93" font-size="7.4" text-anchor="middle" fill="#000" stroke="#000" stroke-width="0.22">PBS</text>
<text x="489" y="327.93" font-size="7.4" text-anchor="middle" fill="#000" stroke="#000" stroke-width="0.22">PAX</text>
<text x="446.5" y="201.9" font-size="7.6" text-anchor="middle" fill="#000" stroke="#000" stroke-width="0.22"><tspan font-style="italic">P</tspan> = 0.08</text>
<line x1="434.3" y1="203.6" x2="460.3" y2="203.6" stroke="#333" stroke-width="0.8"/>
<text x="487.3" y="219" font-size="7.6" text-anchor="middle" fill="#000" stroke="#000" stroke-width="0.22"><tspan font-style="italic">P</tspan> = 0.05</text>
<line x1="474.6" y1="220.8" x2="499.2" y2="220.8" stroke="#333" stroke-width="0.8"/>
<text x="4.5" y="396.9" font-size="11" text-anchor="start" fill="#000" stroke="#000" stroke-width="0.22" font-weight="bold">H</text>
<text x="135" y="397.63" font-size="7.4" text-anchor="middle" fill="#000" stroke="#000" stroke-width="0.22" font-weight="bold">HALLMARK (ST6KO)</text>
<rect x="204.3" y="398.1" width="46.8" height="6.9" fill="#b6b6b6" stroke="#7a7a7a" stroke-width="0.7"/>
<text x="20" y="406.83" font-size="6.55" text-anchor="start" fill="#4090e0" stroke="#4090e0" stroke-width="0.22">HALLMARK_INTERFERON_ALPHA_RESPONSE</text>
<rect x="204.3" y="405.93" width="42.8" height="6.9" fill="#b6b6b6" stroke="#7a7a7a" stroke-width="0.7"/>
<text x="20" y="414.46" font-size="6.55" text-anchor="start" fill="#4090e0" stroke="#4090e0" stroke-width="0.22">HALLMARK_INTERFERON_GAMMA_RESPONSE</text>
<rect x="204.3" y="413.76" width="36.3" height="6.9" fill="#b6b6b6" stroke="#7a7a7a" stroke-width="0.7"/>
<text x="20" y="422.09" font-size="6.55" text-anchor="start" fill="#4090e0" stroke="#4090e0" stroke-width="0.22">HALLMARK_EPITHELIAL_MESENCHYMAL_TRANSITION</text>
<rect x="204.3" y="421.59" width="32.3" height="6.9" fill="#b6b6b6" stroke="#7a7a7a" stroke-width="0.7"/>
<text x="20" y="429.72" font-size="6.55" text-anchor="start" fill="#4090e0" stroke="#4090e0" stroke-width="0.22">HALLMARK_INFLAMMATORY_RESPONSE</text>
<rect x="204.3" y="429.42" width="32" height="6.9" fill="#b6b6b6" stroke="#7a7a7a" stroke-width="0.7"/>
<text x="20" y="437.35" font-size="6.55" text-anchor="start" fill="#111" stroke="#111" stroke-width="0.22">HALLMARK_HEME_METABOLISM</text>
<rect x="204.3" y="437.25" width="31.5" height="6.9" fill="#b6b6b6" stroke="#7a7a7a" stroke-width="0.7"/>
<text x="20" y="444.98" font-size="6.55" text-anchor="start" fill="#111" stroke="#111" stroke-width="0.22">HALLMARK_INFA_SIGNALING_NTKD</text>
<rect x="204.3" y="445.08" width="30.7" height="6.9" fill="#b6b6b6" stroke="#7a7a7a" stroke-width="0.7"/>
<text x="20" y="452.61" font-size="6.55" text-anchor="start" fill="#111" stroke="#111" stroke-width="0.22">HALLMARK_UV_RESPONSE_UP</text>
<rect x="204.3" y="452.91" width="29.3" height="6.9" fill="#b6b6b6" stroke="#7a7a7a" stroke-width="0.7"/>
<text x="20" y="460.24" font-size="6.55" text-anchor="start" fill="#111" stroke="#111" stroke-width="0.22">HALLMARK_PROTEIN_SECRETION</text>
<rect x="204.3" y="460.74" width="27.4" height="6.9" fill="#b6b6b6" stroke="#7a7a7a" stroke-width="0.7"/>
<text x="20" y="467.87" font-size="6.55" text-anchor="start" fill="#111" stroke="#111" stroke-width="0.22">HALLMARK_ESTROGEN_RESPONSE_EARLY</text>
<rect x="204.3" y="468.57" width="27.2" height="6.9" fill="#b6b6b6" stroke="#7a7a7a" stroke-width="0.7"/>
<text x="20" y="475.5" font-size="6.55" text-anchor="start" fill="#111" stroke="#111" stroke-width="0.22">HALLMARK_APICAL_SURFACE</text>
<rect x="204.3" y="476.4" width="26.9" height="6.9" fill="#b6b6b6" stroke="#7a7a7a" stroke-width="0.7"/>
<text x="20" y="483.13" font-size="6.55" text-anchor="start" fill="#111" stroke="#111" stroke-width="0.22">HALLMARK_MTORC_SIGNALING</text>
<rect x="204.3" y="484.23" width="26.4" height="6.9" fill="#b6b6b6" stroke="#7a7a7a" stroke-width="0.7"/>
<text x="20" y="490.76" font-size="6.55" text-anchor="start" fill="#111" stroke="#111" stroke-width="0.22">HALLMARK_APOPTOSIS</text>
<rect x="204.3" y="492.06" width="26.1" height="6.9" fill="#b6b6b6" stroke="#7a7a7a" stroke-width="0.7"/>
<text x="20" y="498.39" font-size="6.55" text-anchor="start" fill="#111" stroke="#111" stroke-width="0.22">HALLMARK_IL2_STAT5_SIGNALING</text>
<rect x="204.3" y="499.89" width="25.6" height="6.9" fill="#b6b6b6" stroke="#7a7a7a" stroke-width="0.7"/>
<text x="20" y="506.02" font-size="6.55" text-anchor="start" fill="#111" stroke="#111" stroke-width="0.22">HALLMARK_CHOLESTEROL_HOMEOSTASIS</text>
<rect x="178.4" y="507.72" width="25.9" height="6.9" fill="#b6b6b6" stroke="#7a7a7a" stroke-width="0.7"/>
<text x="20" y="513.65" font-size="6.55" text-anchor="start" fill="#111" stroke="#111" stroke-width="0.22">HALLMARK_FATTY_ACID_METABOLISM</text>
<rect x="176" y="515.55" width="28.3" height="6.9" fill="#b6b6b6" stroke="#7a7a7a" stroke-width="0.7"/>
<text x="20" y="521.28" font-size="6.55" text-anchor="start" fill="#111" stroke="#111" stroke-width="0.22">HALLMARK_KRAS_SIGNALING</text>
<rect x="174.4" y="523.38" width="29.9" height="6.9" fill="#b6b6b6" stroke="#7a7a7a" stroke-width="0.7"/>
<text x="20" y="528.91" font-size="6.55" text-anchor="start" fill="#111" stroke="#111" stroke-width="0.22">HALLMARK_UNFOLDED_PROTEIN_RESPONSE</text>
<rect x="173" y="531.21" width="31.3" height="6.9" fill="#b6b6b6" stroke="#7a7a7a" stroke-width="0.7"/>
<text x="20" y="536.54" font-size="6.55" text-anchor="start" fill="#111" stroke="#111" stroke-width="0.22">HALLMARK_MYC_TARGETS_V2</text>
<rect x="170.1" y="539.04" width="34.2" height="6.9" fill="#b6b6b6" stroke="#7a7a7a" stroke-width="0.7"/>
<text x="20" y="544.17" font-size="6.55" text-anchor="start" fill="#111" stroke="#111" stroke-width="0.22">HALLMARK_OXYDATIVE_PHOSPHORYLATION</text>
<rect x="166.3" y="546.87" width="38" height="6.9" fill="#b6b6b6" stroke="#7a7a7a" stroke-width="0.7"/>
<text x="20" y="551.8" font-size="6.55" text-anchor="start" fill="#111" stroke="#111" stroke-width="0.22">HALLMARK_MITOTIC_SPINDLE</text>
<rect x="160.7" y="554.7" width="43.6" height="6.9" fill="#b6b6b6" stroke="#7a7a7a" stroke-width="0.7"/>
<text x="20" y="559.43" font-size="6.55" text-anchor="start" fill="#111" stroke="#111" stroke-width="0.22">HALLMARK_DNA_REPAIR</text>
<rect x="145" y="562.53" width="59.3" height="6.9" fill="#b6b6b6" stroke="#7a7a7a" stroke-width="0.7"/>
<text x="20" y="567.06" font-size="6.55" text-anchor="start" fill="#6a48b8" stroke="#6a48b8" stroke-width="0.22">HALLMARK_MYC_TARGETS_V1</text>
<rect x="142.6" y="570.36" width="61.7" height="6.9" fill="#b6b6b6" stroke="#7a7a7a" stroke-width="0.7"/>
<text x="20" y="574.69" font-size="6.55" text-anchor="start" fill="#6a48b8" stroke="#6a48b8" stroke-width="0.22">HALLMARK_G2M_CHECKPOINTS</text>
<rect x="130.2" y="578.19" width="74.1" height="6.9" fill="#b6b6b6" stroke="#7a7a7a" stroke-width="0.7"/>
<text x="20" y="582.32" font-size="6.55" text-anchor="start" fill="#6a48b8" stroke="#6a48b8" stroke-width="0.22">HALLMARK_E2F_TARGETS</text>
<line x1="148.3" y1="587" x2="231.7" y2="587" stroke="#333" stroke-width="0.8"/>
<line x1="148.9" y1="587" x2="148.9" y2="589" stroke="#333" stroke-width="0.8"/>
<text x="148.9" y="596.56" font-size="7.2" text-anchor="middle" fill="#000" stroke="#000" stroke-width="0.22">&#8722;4</text>
<line x1="176.6" y1="587" x2="176.6" y2="589" stroke="#333" stroke-width="0.8"/>
<text x="176.6" y="596.56" font-size="7.2" text-anchor="middle" fill="#000" stroke="#000" stroke-width="0.22">&#8722;2</text>
<line x1="204.3" y1="587" x2="204.3" y2="589" stroke="#333" stroke-width="0.8"/>
<text x="204.3" y="596.56" font-size="7.2" text-anchor="middle" fill="#000" stroke="#000" stroke-width="0.22">0</text>
<line x1="232" y1="587" x2="232" y2="589" stroke="#333" stroke-width="0.8"/>
<text x="232" y="596.56" font-size="7.2" text-anchor="middle" fill="#000" stroke="#000" stroke-width="0.22">2</text>
<text x="4" y="621.9" font-size="11" text-anchor="start" fill="#000" stroke="#000" stroke-width="0.22" font-weight="bold">I</text>
<text x="133" y="627.66" font-size="7.5" text-anchor="middle" fill="#000" stroke="#000" stroke-width="0.22" font-weight="bold">Enrichment plot: HALLMARK</text>
<text x="77.5" y="637.93" font-size="7.4" text-anchor="middle" fill="#000" stroke="#000" stroke-width="0.22" font-weight="bold">E2F_TARGETS</text>
<text x="196" y="637.93" font-size="7.4" text-anchor="middle" fill="#000" stroke="#000" stroke-width="0.22" font-weight="bold">MYC_TARGETS_V1</text>
<text x="75.5" y="780.63" font-size="7.4" text-anchor="middle" fill="#000" stroke="#000" stroke-width="0.22" font-weight="bold">G2M_CHECKPOINT</text>
<text x="196" y="780.63" font-size="7.4" text-anchor="middle" fill="#000" stroke="#000" stroke-width="0.22" font-weight="bold">MYC_TARGETS_V2</text>
<text x="4.5" y="669.34" font-size="6.6" text-anchor="middle" fill="#000" stroke="#000" stroke-width="0.22" transform="rotate(-90 4.5 667)">Enrichment score</text>
<text x="4.5" y="731.31" font-size="6.5" text-anchor="middle" fill="#000" stroke="#000" stroke-width="0.22" transform="rotate(-90 4.5 729)">Ranked list metric</text>
<text x="4.5" y="812.34" font-size="6.6" text-anchor="middle" fill="#000" stroke="#000" stroke-width="0.22" transform="rotate(-90 4.5 810)">Enrichment score</text>
<text x="4.5" y="875.31" font-size="6.5" text-anchor="middle" fill="#000" stroke="#000" stroke-width="0.22" transform="rotate(-90 4.5 873)">Ranked list metric</text>
<rect x="29.5" y="642" width="93.5" height="104" fill="#fff" stroke="#cfcfcf" stroke-width="0.7"/>
<line x1="41.19" y1="642" x2="41.19" y2="692" stroke="#f5f5f5" stroke-width="0.5"/>
<line x1="41.19" y1="712.3" x2="41.19" y2="746" stroke="#f6f6f6" stroke-width="0.5"/>
<line x1="52.88" y1="642" x2="52.88" y2="692" stroke="#f5f5f5" stroke-width="0.5"/>
<line x1="52.88" y1="712.3" x2="52.88" y2="746" stroke="#f6f6f6" stroke-width="0.5"/>
<line x1="64.56" y1="642" x2="64.56" y2="692" stroke="#f5f5f5" stroke-width="0.5"/>
<line x1="64.56" y1="712.3" x2="64.56" y2="746" stroke="#f6f6f6" stroke-width="0.5"/>
<line x1="76.25" y1="642" x2="76.25" y2="692" stroke="#f5f5f5" stroke-width="0.5"/>
<line x1="76.25" y1="712.3" x2="76.25" y2="746" stroke="#f6f6f6" stroke-width="0.5"/>
<line x1="87.94" y1="642" x2="87.94" y2="692" stroke="#f5f5f5" stroke-width="0.5"/>
<line x1="87.94" y1="712.3" x2="87.94" y2="746" stroke="#f6f6f6" stroke-width="0.5"/>
<line x1="99.62" y1="642" x2="99.62" y2="692" stroke="#f5f5f5" stroke-width="0.5"/>
<line x1="99.62" y1="712.3" x2="99.62" y2="746" stroke="#f6f6f6" stroke-width="0.5"/>
<line x1="111.31" y1="642" x2="111.31" y2="692" stroke="#f5f5f5" stroke-width="0.5"/>
<line x1="111.31" y1="712.3" x2="111.31" y2="746" stroke="#f6f6f6" stroke-width="0.5"/>
<line x1="29.5" y1="644" x2="123" y2="644" stroke="#f4f4f4" stroke-width="0.5"/>
<line x1="29.5" y1="657.67" x2="123" y2="657.67" stroke="#f4f4f4" stroke-width="0.5"/>
<line x1="29.5" y1="671.34" x2="123" y2="671.34" stroke="#f4f4f4" stroke-width="0.5"/>
<line x1="29.5" y1="685.01" x2="123" y2="685.01" stroke="#f4f4f4" stroke-width="0.5"/>
<line x1="29.5" y1="692" x2="123" y2="692" stroke="#d8d8d8" stroke-width="0.5"/>
<text x="27" y="646.59" font-size="7.3" text-anchor="end" fill="#222" stroke="#222" stroke-width="0.22">0.0</text>
<text x="27" y="660.26" font-size="7.3" text-anchor="end" fill="#222" stroke="#222" stroke-width="0.22">&#8722;0.1</text>
<text x="27" y="673.93" font-size="7.3" text-anchor="end" fill="#222" stroke="#222" stroke-width="0.22">&#8722;0.2</text>
<text x="27" y="687.6" font-size="7.3" text-anchor="end" fill="#222" stroke="#222" stroke-width="0.22">&#8722;0.3</text>
<path d="M30 644.64 L30.42 645.01 L30.83 644.48 L31.25 645.89 L31.66 645.67 L32.08 646.8 L32.5 645.74 L32.91 645.7 L33.33 645.16 L33.74 645.95 L34.16 646.03 L34.58 646.56 L34.99 647.23 L35.41 647.25 L35.82 648.14 L36.24 648.28 L36.65 647.89 L37.07 648.11 L37.49 648.61 L37.9 647.59 L38.32 648.24 L38.73 649.09 L39.15 649.3 L39.57 649.9 L39.98 650.29 L40.4 650.61 L40.81 649.6 L41.23 650.2 L41.65 650.58 L42.06 650.64 L42.48 650.04 L42.89 651.01 L43.31 651.92 L43.73 650.87 L44.14 652.5 L44.56 652.99 L44.97 652.81 L45.39 651.93 L45.8 653.27 L46.22 654.99 L46.64 654.44 L47.05 654.85 L47.47 655.14 L47.88 654.94 L48.3 655.06 L48.72 655.2 L49.13 655.78 L49.55 655.3 L49.96 654.99 L50.38 655.72 L50.8 656.53 L51.21 656.47 L51.63 656.68 L52.04 657.74 L52.46 658.16 L52.88 657.7 L53.29 658.15 L53.71 658.65 L54.12 658.76 L54.54 659.07 L54.95 659.34 L55.37 660.66 L55.79 659.55 L56.2 659.84 L56.62 660.7 L57.03 660.31 L57.45 660.55 L57.87 660.95 L58.28 660.74 L58.7 660.05 L59.11 660.68 L59.53 660.6 L59.95 660.34 L60.36 662.03 L60.78 662.87 L61.19 662.78 L61.61 664.18 L62.02 664.34 L62.44 664.04 L62.86 664.24 L63.27 664.86 L63.69 666.83 L64.1 665.93 L64.52 666.62 L64.94 667.16 L65.35 667.88 L65.77 669.77 L66.18 670.99 L66.6 671.85 L67.02 670.9 L67.43 672.07 L67.85 672.7 L68.26 673.33 L68.68 673.5 L69.1 673.89 L69.51 674.49 L69.93 675.93 L70.34 678.07 L70.76 677.79 L71.18 677.81 L71.59 677.54 L72.01 678.36 L72.42 679.37 L72.84 679.66 L73.25 681.15 L73.67 682.02 L74.09 682.76 L74.5 682.74 L74.92 681.65 L75.33 681.78 L75.75 681.74 L76.17 682.3 L76.58 682.7 L77 683.42 L77.41 683.86 L77.83 685.38 L78.25 685.71 L78.66 686.04 L79.08 685.17 L79.49 684.83 L79.91 684.45 L80.33 684.09 L80.74 684.97 L81.16 684.85 L81.57 684.37 L81.99 685.25 L82.4 685.26 L82.82 686.04 L83.24 687.39 L83.65 687.34 L84.07 687.92 L84.48 687.82 L84.9 688.13 L85.32 687.96 L85.73 689.27 L86.15 687.82 L86.56 687.42 L86.98 688.18 L87.4 689.01 L87.81 689.09 L88.23 688.83 L88.64 688.89 L89.06 689 L89.47 690.06 L89.89 689.96 L90.31 688.39 L90.72 687.89 L91.14 688.39 L91.55 688.17 L91.97 688.2 L92.39 687.83 L92.8 686.24 L93.22 685.89 L93.63 684.79 L94.05 684.48 L94.47 685.07 L94.88 684.79 L95.3 682.83 L95.71 683.85 L96.13 684.77 L96.55 684.18 L96.96 684.59 L97.38 685.01 L97.79 684.57 L98.21 686.23 L98.62 686.13 L99.04 686.91 L99.46 686.9 L99.87 686.35 L100.29 684.7 L100.7 684.21 L101.12 684.64 L101.54 684.27 L101.95 682.36 L102.37 681.28 L102.78 681.59 L103.2 679.59 L103.62 679.73 L104.03 680.01 L104.45 679.32 L104.86 678.04 L105.28 676.65 L105.7 675.89 L106.11 675.99 L106.53 675.87 L106.94 676.05 L107.36 675.13 L107.77 674.62 L108.19 673.59 L108.61 673.56 L109.02 672.87 L109.44 672.41 L109.85 672.06 L110.27 671.58 L110.69 670.95 L111.1 670.41 L111.52 668.86 L111.93 667.93 L112.35 667.92 L112.77 666.63 L113.18 665.73 L113.6 664.28 L114.01 663.51 L114.43 662.51 L114.85 661.67 L115.26 660.21 L115.68 658.62 L116.09 657.34 L116.51 656.3 L116.92 654.72 L117.34 653.52 L117.76 652.22 L118.17 651.58 L118.59 650.07 L119 649.54 L119.42 648.72 L119.84 647.24 L120.25 644.85 L120.67 643.61 L121.08 643.01 L121.5 642.33" fill="none" stroke="#38d838" stroke-width="1.3" stroke-linejoin="round"/>
<rect x="30.65" y="692" width="3.43" height="16.2" fill="#444" stroke="none" stroke-width="1"/>
<rect x="35.1" y="692" width="1.01" height="16.2" fill="#333" stroke="none" stroke-width="1"/>
<rect x="38.13" y="692" width="1.01" height="16.2" fill="#555" stroke="none" stroke-width="1"/>
<rect x="41.16" y="692" width="1.01" height="16.2" fill="#888" stroke="none" stroke-width="1"/>
<rect x="44.18" y="692" width="1.01" height="16.2" fill="#666" stroke="none" stroke-width="1"/>
<rect x="48.22" y="692" width="3.03" height="16.2" fill="#333" stroke="none" stroke-width="1"/>
<rect x="54.28" y="692" width="1.01" height="16.2" fill="#666" stroke="none" stroke-width="1"/>
<rect x="58.32" y="692" width="1.01" height="16.2" fill="#999" stroke="none" stroke-width="1"/>
<rect x="62.36" y="692" width="3.03" height="16.2" fill="#444" stroke="none" stroke-width="1"/>
<rect x="67.41" y="692" width="1.01" height="16.2" fill="#777" stroke="none" stroke-width="1"/>
<rect x="71.45" y="692" width="1.01" height="16.2" fill="#555" stroke="none" stroke-width="1"/>
<rect x="74.47" y="692" width="1.01" height="16.2" fill="#888" stroke="none" stroke-width="1"/>
<rect x="77.91" y="692" width="2.63" height="16.2" fill="#333" stroke="none" stroke-width="1"/>
<rect x="82.55" y="692" width="1.01" height="16.2" fill="#666" stroke="none" stroke-width="1"/>
<rect x="85.58" y="692" width="2.02" height="16.2" fill="#888" stroke="none" stroke-width="1"/>
<rect x="89.62" y="692" width="6.06" height="16.2" fill="#333" stroke="none" stroke-width="1"/>
<rect x="97.7" y="692" width="1.01" height="16.2" fill="#666" stroke="none" stroke-width="1"/>
<rect x="100.73" y="692" width="5.05" height="16.2" fill="#333" stroke="none" stroke-width="1"/>
<rect x="107.79" y="692" width="3.03" height="16.2" fill="#111" stroke="none" stroke-width="1"/>
<rect x="112.84" y="692" width="2.02" height="16.2" fill="#444" stroke="none" stroke-width="1"/>
<rect x="116.88" y="692" width="4.04" height="16.2" fill="#111" stroke="none" stroke-width="1"/>
<rect x="29.5" y="708.2" width="49.25" height="4.1" fill="#f2b3dd" stroke="none" stroke-width="1"/>
<rect x="78.75" y="708.2" width="43.25" height="4.1" fill="#3a0a98" stroke="none" stroke-width="1"/>
<line x1="78.75" y1="712.3" x2="78.75" y2="746" stroke="#e2e2e2" stroke-width="0.6"/>
<text x="77.25" y="732.31" font-size="7.5" text-anchor="middle" fill="#111" stroke="#111" stroke-width="0.22">Zero cross at 10,400</text>
<rect x="149.2" y="643.8" width="91.3" height="101.7" fill="#fff" stroke="#cfcfcf" stroke-width="0.7"/>
<line x1="160.61" y1="643.8" x2="160.61" y2="692" stroke="#f5f5f5" stroke-width="0.5"/>
<line x1="160.61" y1="711.9" x2="160.61" y2="745.5" stroke="#f6f6f6" stroke-width="0.5"/>
<line x1="172.02" y1="643.8" x2="172.02" y2="692" stroke="#f5f5f5" stroke-width="0.5"/>
<line x1="172.02" y1="711.9" x2="172.02" y2="745.5" stroke="#f6f6f6" stroke-width="0.5"/>
<line x1="183.44" y1="643.8" x2="183.44" y2="692" stroke="#f5f5f5" stroke-width="0.5"/>
<line x1="183.44" y1="711.9" x2="183.44" y2="745.5" stroke="#f6f6f6" stroke-width="0.5"/>
<line x1="194.85" y1="643.8" x2="194.85" y2="692" stroke="#f5f5f5" stroke-width="0.5"/>
<line x1="194.85" y1="711.9" x2="194.85" y2="745.5" stroke="#f6f6f6" stroke-width="0.5"/>
<line x1="206.26" y1="643.8" x2="206.26" y2="692" stroke="#f5f5f5" stroke-width="0.5"/>
<line x1="206.26" y1="711.9" x2="206.26" y2="745.5" stroke="#f6f6f6" stroke-width="0.5"/>
<line x1="217.68" y1="643.8" x2="217.68" y2="692" stroke="#f5f5f5" stroke-width="0.5"/>
<line x1="217.68" y1="711.9" x2="217.68" y2="745.5" stroke="#f6f6f6" stroke-width="0.5"/>
<line x1="229.09" y1="643.8" x2="229.09" y2="692" stroke="#f5f5f5" stroke-width="0.5"/>
<line x1="229.09" y1="711.9" x2="229.09" y2="745.5" stroke="#f6f6f6" stroke-width="0.5"/>
<line x1="149.2" y1="644.5" x2="240.5" y2="644.5" stroke="#f4f4f4" stroke-width="0.5"/>
<line x1="149.2" y1="662" x2="240.5" y2="662" stroke="#f4f4f4" stroke-width="0.5"/>
<line x1="149.2" y1="679.5" x2="240.5" y2="679.5" stroke="#f4f4f4" stroke-width="0.5"/>
<line x1="149.2" y1="692" x2="240.5" y2="692" stroke="#d8d8d8" stroke-width="0.5"/>
<text x="146.7" y="647.09" font-size="7.3" text-anchor="end" fill="#222" stroke="#222" stroke-width="0.22">0.0</text>
<text x="146.7" y="664.59" font-size="7.3" text-anchor="end" fill="#222" stroke="#222" stroke-width="0.22">&#8722;0.1</text>
<text x="146.7" y="682.09" font-size="7.3" text-anchor="end" fill="#222" stroke="#222" stroke-width="0.22">&#8722;0.2</text>
<path d="M149.7 644.15 L150.11 645.54 L150.52 646.05 L150.93 645.96 L151.34 645.09 L151.75 645.77 L152.16 647.51 L152.57 647.34 L152.98 648.47 L153.39 647.62 L153.8 648.31 L154.21 647.48 L154.63 648.26 L155.04 649.45 L155.45 650.55 L155.86 650.52 L156.27 650.02 L156.68 649.28 L157.09 649.56 L157.5 650.52 L157.91 650.31 L158.32 651.62 L158.73 651.13 L159.14 651.8 L159.55 650.71 L159.96 650.5 L160.37 650.89 L160.78 652.17 L161.19 651.93 L161.6 651.99 L162.01 652.76 L162.42 653.35 L162.83 652.46 L163.25 653.18 L163.66 653.22 L164.07 652.72 L164.48 654.56 L164.89 653.5 L165.3 653.54 L165.71 654.86 L166.12 655.99 L166.53 656.99 L166.94 656.21 L167.35 658.33 L167.76 657.28 L168.17 657.31 L168.58 658.06 L168.99 658.51 L169.4 658.82 L169.81 659.04 L170.22 658.51 L170.63 659.26 L171.04 658.33 L171.45 657.85 L171.86 658.43 L172.27 658.17 L172.69 658.82 L173.1 658.79 L173.51 658.47 L173.92 657.26 L174.33 657.93 L174.74 658.4 L175.15 658.94 L175.56 659.65 L175.97 660.88 L176.38 659.73 L176.79 660.97 L177.2 661.88 L177.61 662.69 L178.02 662.38 L178.43 660.78 L178.84 659.96 L179.25 661.08 L179.66 662.38 L180.07 663.61 L180.48 665.22 L180.89 665.14 L181.3 665.86 L181.72 664.94 L182.13 666.23 L182.54 667.71 L182.95 669.36 L183.36 670.49 L183.77 669.67 L184.18 669.55 L184.59 670.72 L185 671.86 L185.41 671.46 L185.82 671.85 L186.23 671.85 L186.64 672.42 L187.05 673.59 L187.46 675.24 L187.87 675.19 L188.28 675.46 L188.69 675.84 L189.1 675.8 L189.51 676.07 L189.92 677.51 L190.33 677.88 L190.75 680.33 L191.16 680.06 L191.57 680.68 L191.98 680.59 L192.39 680.82 L192.8 682.61 L193.21 683 L193.62 681.91 L194.03 682.34 L194.44 682.05 L194.85 682.26 L195.26 681.44 L195.67 681.05 L196.08 681.51 L196.49 682.1 L196.9 682.92 L197.31 681.14 L197.72 680.88 L198.13 680.81 L198.54 680.54 L198.95 680.55 L199.37 679.33 L199.78 678.53 L200.19 679.98 L200.6 679.18 L201.01 678.5 L201.42 678.3 L201.83 677.77 L202.24 676.4 L202.65 676.72 L203.06 676.34 L203.47 676.29 L203.88 678.1 L204.29 676.91 L204.7 677.35 L205.11 678.02 L205.52 677.67 L205.93 676.52 L206.34 678.02 L206.75 678.9 L207.16 678.74 L207.57 680.21 L207.98 680.67 L208.39 680.17 L208.81 679.43 L209.22 679.32 L209.63 679.23 L210.04 679.15 L210.45 680.31 L210.86 681.09 L211.27 681.67 L211.68 682.16 L212.09 681.58 L212.5 681.54 L212.91 683.73 L213.32 683.38 L213.73 684.41 L214.14 685.2 L214.55 684.1 L214.96 683.56 L215.37 683.48 L215.78 683.92 L216.19 683.55 L216.6 685.62 L217.01 685.61 L217.43 686.86 L217.84 687.72 L218.25 689.12 L218.66 687.13 L219.07 685.61 L219.48 685.21 L219.89 685.87 L220.3 685.59 L220.71 686.17 L221.12 685.81 L221.53 684.19 L221.94 683.01 L222.35 682.84 L222.76 682.52 L223.17 682.83 L223.58 682.54 L223.99 682.49 L224.4 681.23 L224.81 680.84 L225.22 679.03 L225.63 678.4 L226.04 677.3 L226.45 676.46 L226.87 674.34 L227.28 673.1 L227.69 673.58 L228.1 673.82 L228.51 672.67 L228.92 672.11 L229.33 671.81 L229.74 671.09 L230.15 669.43 L230.56 669.47 L230.97 668.2 L231.38 668.6 L231.79 668.45 L232.2 667.76 L232.61 667.41 L233.02 667.29 L233.43 666.55 L233.84 664.7 L234.25 662.95 L234.66 660.92 L235.07 658.27 L235.49 656.36 L235.9 654.07 L236.31 652.68 L236.72 651.51 L237.13 650.33 L237.54 649.12 L237.95 647.76 L238.36 647.63 L238.77 646.42 L239.18 645.43 L239.59 643.67 L240 642.46" fill="none" stroke="#38d838" stroke-width="1.3" stroke-linejoin="round"/>
<rect x="151.06" y="692" width="1.01" height="16.2" fill="#333" stroke="none" stroke-width="1"/>
<rect x="154.09" y="692" width="1.01" height="16.2" fill="#444" stroke="none" stroke-width="1"/>
<rect x="156.11" y="692" width="1.01" height="16.2" fill="#555" stroke="none" stroke-width="1"/>
<rect x="158.13" y="692" width="1.01" height="16.2" fill="#444" stroke="none" stroke-width="1"/>
<rect x="161.16" y="692" width="1.01" height="16.2" fill="#333" stroke="none" stroke-width="1"/>
<rect x="163.17" y="692" width="1.01" height="16.2" fill="#666" stroke="none" stroke-width="1"/>
<rect x="168.22" y="692" width="1.01" height="16.2" fill="#444" stroke="none" stroke-width="1"/>
<rect x="170.24" y="692" width="1.01" height="16.2" fill="#555" stroke="none" stroke-width="1"/>
<rect x="173.27" y="692" width="2.02" height="16.2" fill="#222" stroke="none" stroke-width="1"/>
<rect x="177.31" y="692" width="1.01" height="16.2" fill="#888" stroke="none" stroke-width="1"/>
<rect x="180.34" y="692" width="1.01" height="16.2" fill="#555" stroke="none" stroke-width="1"/>
<rect x="184.38" y="692" width="1.01" height="16.2" fill="#444" stroke="none" stroke-width="1"/>
<rect x="187.41" y="692" width="1.01" height="16.2" fill="#555" stroke="none" stroke-width="1"/>
<rect x="192.46" y="692" width="2.02" height="16.2" fill="#333" stroke="none" stroke-width="1"/>
<rect x="196.49" y="692" width="2.02" height="16.2" fill="#333" stroke="none" stroke-width="1"/>
<rect x="199.52" y="692" width="3.03" height="16.2" fill="#777" stroke="none" stroke-width="1"/>
<rect x="203.56" y="692" width="1.01" height="16.2" fill="#444" stroke="none" stroke-width="1"/>
<rect x="207.6" y="692" width="2.02" height="16.2" fill="#222" stroke="none" stroke-width="1"/>
<rect x="211.64" y="692" width="1.01" height="16.2" fill="#555" stroke="none" stroke-width="1"/>
<rect x="214.67" y="692" width="1.01" height="16.2" fill="#888" stroke="none" stroke-width="1"/>
<rect x="217.7" y="692" width="3.03" height="16.2" fill="#333" stroke="none" stroke-width="1"/>
<rect x="221.74" y="692" width="1.01" height="16.2" fill="#555" stroke="none" stroke-width="1"/>
<rect x="223.76" y="692" width="3.03" height="16.2" fill="#333" stroke="none" stroke-width="1"/>
<rect x="228.8" y="692" width="4.04" height="16.2" fill="#333" stroke="none" stroke-width="1"/>
<rect x="234.86" y="692" width="3.03" height="16.2" fill="#222" stroke="none" stroke-width="1"/>
<rect x="149.2" y="708.2" width="47.3" height="3.7" fill="#f2b3dd" stroke="none" stroke-width="1"/>
<rect x="196.5" y="708.2" width="44" height="3.7" fill="#3a0a98" stroke="none" stroke-width="1"/>
<line x1="196.5" y1="711.9" x2="196.5" y2="745.5" stroke="#e2e2e2" stroke-width="0.6"/>
<text x="195.85" y="731.86" font-size="7.5" text-anchor="middle" fill="#111" stroke="#111" stroke-width="0.22">Zero cross at 10,400</text>
<rect x="29.5" y="785" width="92.5" height="106" fill="#fff" stroke="#cfcfcf" stroke-width="0.7"/>
<line x1="41.06" y1="785" x2="41.06" y2="836" stroke="#f5f5f5" stroke-width="0.5"/>
<line x1="41.06" y1="856.9" x2="41.06" y2="891" stroke="#f6f6f6" stroke-width="0.5"/>
<line x1="52.62" y1="785" x2="52.62" y2="836" stroke="#f5f5f5" stroke-width="0.5"/>
<line x1="52.62" y1="856.9" x2="52.62" y2="891" stroke="#f6f6f6" stroke-width="0.5"/>
<line x1="64.19" y1="785" x2="64.19" y2="836" stroke="#f5f5f5" stroke-width="0.5"/>
<line x1="64.19" y1="856.9" x2="64.19" y2="891" stroke="#f6f6f6" stroke-width="0.5"/>
<line x1="75.75" y1="785" x2="75.75" y2="836" stroke="#f5f5f5" stroke-width="0.5"/>
<line x1="75.75" y1="856.9" x2="75.75" y2="891" stroke="#f6f6f6" stroke-width="0.5"/>
<line x1="87.31" y1="785" x2="87.31" y2="836" stroke="#f5f5f5" stroke-width="0.5"/>
<line x1="87.31" y1="856.9" x2="87.31" y2="891" stroke="#f6f6f6" stroke-width="0.5"/>
<line x1="98.88" y1="785" x2="98.88" y2="836" stroke="#f5f5f5" stroke-width="0.5"/>
<line x1="98.88" y1="856.9" x2="98.88" y2="891" stroke="#f6f6f6" stroke-width="0.5"/>
<line x1="110.44" y1="785" x2="110.44" y2="836" stroke="#f5f5f5" stroke-width="0.5"/>
<line x1="110.44" y1="856.9" x2="110.44" y2="891" stroke="#f6f6f6" stroke-width="0.5"/>
<line x1="29.5" y1="788" x2="122" y2="788" stroke="#f4f4f4" stroke-width="0.5"/>
<line x1="29.5" y1="796.4" x2="122" y2="796.4" stroke="#f4f4f4" stroke-width="0.5"/>
<line x1="29.5" y1="804.8" x2="122" y2="804.8" stroke="#f4f4f4" stroke-width="0.5"/>
<line x1="29.5" y1="813.2" x2="122" y2="813.2" stroke="#f4f4f4" stroke-width="0.5"/>
<line x1="29.5" y1="821.6" x2="122" y2="821.6" stroke="#f4f4f4" stroke-width="0.5"/>
<line x1="29.5" y1="830" x2="122" y2="830" stroke="#f4f4f4" stroke-width="0.5"/>
<line x1="29.5" y1="836" x2="122" y2="836" stroke="#d8d8d8" stroke-width="0.5"/>
<text x="27" y="790.59" font-size="7.3" text-anchor="end" fill="#222" stroke="#222" stroke-width="0.22">0.00</text>
<text x="27" y="798.99" font-size="7.3" text-anchor="end" fill="#222" stroke="#222" stroke-width="0.22">&#8722;0.05</text>
<text x="27" y="807.39" font-size="7.3" text-anchor="end" fill="#222" stroke="#222" stroke-width="0.22">&#8722;0.10</text>
<text x="27" y="815.79" font-size="7.3" text-anchor="end" fill="#222" stroke="#222" stroke-width="0.22">&#8722;0.15</text>
<text x="27" y="824.19" font-size="7.3" text-anchor="end" fill="#222" stroke="#222" stroke-width="0.22">&#8722;0.20</text>
<text x="27" y="832.59" font-size="7.3" text-anchor="end" fill="#222" stroke="#222" stroke-width="0.22">&#8722;0.25</text>
<path d="M30 787.16 L30.42 787.18 L30.83 787.85 L31.25 788.49 L31.66 789.45 L32.08 789.72 L32.5 789.16 L32.91 789.46 L33.33 789.39 L33.74 790.06 L34.16 790.53 L34.58 791.12 L34.99 792.89 L35.41 792.43 L35.82 792.56 L36.24 792.81 L36.65 794.6 L37.07 795.88 L37.49 796.25 L37.9 796.35 L38.32 795.97 L38.73 796.11 L39.15 795.94 L39.57 796.76 L39.98 796.74 L40.4 796.81 L40.81 797.69 L41.23 796.75 L41.65 797.1 L42.06 797.01 L42.48 798.31 L42.89 799.31 L43.31 799.77 L43.73 800.02 L44.14 799.81 L44.56 800.07 L44.97 800.83 L45.39 801.76 L45.8 802.15 L46.22 801.35 L46.64 802.37 L47.05 802.4 L47.47 802.44 L47.88 803.87 L48.3 803.84 L48.72 803.1 L49.13 805.02 L49.55 805.17 L49.96 805.25 L50.38 805.9 L50.8 805.53 L51.21 805.82 L51.63 807.05 L52.04 806.38 L52.46 806.22 L52.88 806.06 L53.29 805.75 L53.71 806.43 L54.12 807.12 L54.54 808.62 L54.95 808.35 L55.37 809.15 L55.79 809.65 L56.2 810.62 L56.62 811.13 L57.03 811.27 L57.45 810.26 L57.87 812.01 L58.28 812.8 L58.7 812.26 L59.11 811.26 L59.53 811.37 L59.95 813.22 L60.36 814.92 L60.78 814.21 L61.19 814.68 L61.61 815.39 L62.02 814.57 L62.44 814.17 L62.86 814.72 L63.27 815.17 L63.69 815.47 L64.1 815.04 L64.52 815.61 L64.94 816.18 L65.35 816.67 L65.77 818.55 L66.18 817.94 L66.6 817.95 L67.02 818.41 L67.43 820.54 L67.85 821.08 L68.26 820.58 L68.68 822.23 L69.1 822.3 L69.51 821.69 L69.93 823.06 L70.34 822.31 L70.76 822.95 L71.18 824.11 L71.59 824.79 L72.01 825.29 L72.42 826.25 L72.84 826.44 L73.25 828.08 L73.67 829.2 L74.09 829.2 L74.5 830.19 L74.92 831.55 L75.33 830.85 L75.75 830.1 L76.17 830.97 L76.58 832.15 L77 832.05 L77.41 832.03 L77.83 832.14 L78.25 831.1 L78.66 832.13 L79.08 831.25 L79.49 832.45 L79.91 832.87 L80.33 832.2 L80.74 831.49 L81.16 831.28 L81.57 831.53 L81.99 831.84 L82.4 832.05 L82.82 831.93 L83.24 832.39 L83.65 832.4 L84.07 832.24 L84.48 832.56 L84.9 832.27 L85.32 832.26 L85.73 831.31 L86.15 831.91 L86.56 832.81 L86.98 833.34 L87.4 833.45 L87.81 832.92 L88.23 833.48 L88.64 833.15 L89.06 831.09 L89.47 832.42 L89.89 831.87 L90.31 830.23 L90.72 828.75 L91.14 827.59 L91.55 826.95 L91.97 825.45 L92.39 824.55 L92.8 824.84 L93.22 822.95 L93.63 823.13 L94.05 823.76 L94.47 823.75 L94.88 823.75 L95.3 823.56 L95.71 825.15 L96.13 824.51 L96.55 823.05 L96.96 823.54 L97.38 823.02 L97.79 821.94 L98.21 821.27 L98.62 820.36 L99.04 821.88 L99.46 821.8 L99.87 821.56 L100.29 820.48 L100.7 819.33 L101.12 820.99 L101.54 819.25 L101.95 819.73 L102.37 818.4 L102.78 818.87 L103.2 817.84 L103.62 816.35 L104.03 816.17 L104.45 815.64 L104.86 814.73 L105.28 814.43 L105.7 814.22 L106.11 812.81 L106.53 812.1 L106.94 812.39 L107.36 810.33 L107.77 811.52 L108.19 810.66 L108.61 810.75 L109.02 810.35 L109.44 809.53 L109.85 809.04 L110.27 808.13 L110.69 808.76 L111.1 808.85 L111.52 807.2 L111.93 806.99 L112.35 806.63 L112.77 806.43 L113.18 804.19 L113.6 802.92 L114.01 801.39 L114.43 801.81 L114.85 801.15 L115.26 801.25 L115.68 799.74 L116.09 798.01 L116.51 798.36 L116.92 796.64 L117.34 795.49 L117.76 795.16 L118.17 795.77 L118.59 793.47 L119 792.71 L119.42 792.2 L119.84 790.83 L120.25 789.61 L120.67 787.75 L121.08 787.94 L121.5 786.21" fill="none" stroke="#38d838" stroke-width="1.3" stroke-linejoin="round"/>
<rect x="32.07" y="836" width="1.01" height="17.2" fill="#333" stroke="none" stroke-width="1"/>
<rect x="35.1" y="836" width="1.01" height="17.2" fill="#888" stroke="none" stroke-width="1"/>
<rect x="38.13" y="836" width="1.01" height="17.2" fill="#444" stroke="none" stroke-width="1"/>
<rect x="40.15" y="836" width="1.01" height="17.2" fill="#666" stroke="none" stroke-width="1"/>
<rect x="44.18" y="836" width="1.01" height="17.2" fill="#555" stroke="none" stroke-width="1"/>
<rect x="46.2" y="836" width="1.01" height="17.2" fill="#666" stroke="none" stroke-width="1"/>
<rect x="48.22" y="836" width="1.01" height="17.2" fill="#555" stroke="none" stroke-width="1"/>
<rect x="51.25" y="836" width="2.02" height="17.2" fill="#888" stroke="none" stroke-width="1"/>
<rect x="54.28" y="836" width="2.02" height="17.2" fill="#555" stroke="none" stroke-width="1"/>
<rect x="58.32" y="836" width="1.01" height="17.2" fill="#666" stroke="none" stroke-width="1"/>
<rect x="61.35" y="836" width="1.01" height="17.2" fill="#555" stroke="none" stroke-width="1"/>
<rect x="63.37" y="836" width="1.01" height="17.2" fill="#777" stroke="none" stroke-width="1"/>
<rect x="67.41" y="836" width="2.02" height="17.2" fill="#333" stroke="none" stroke-width="1"/>
<rect x="74.47" y="836" width="2.02" height="17.2" fill="#888" stroke="none" stroke-width="1"/>
<rect x="77.5" y="836" width="2.02" height="17.2" fill="#333" stroke="none" stroke-width="1"/>
<rect x="81.54" y="836" width="1.01" height="17.2" fill="#555" stroke="none" stroke-width="1"/>
<rect x="84.57" y="836" width="2.02" height="17.2" fill="#333" stroke="none" stroke-width="1"/>
<rect x="88.61" y="836" width="1.01" height="17.2" fill="#666" stroke="none" stroke-width="1"/>
<rect x="90.63" y="836" width="2.02" height="17.2" fill="#333" stroke="none" stroke-width="1"/>
<rect x="93.66" y="836" width="2.02" height="17.2" fill="#333" stroke="none" stroke-width="1"/>
<rect x="97.7" y="836" width="3.03" height="17.2" fill="#555" stroke="none" stroke-width="1"/>
<rect x="101.74" y="836" width="3.03" height="17.2" fill="#333" stroke="none" stroke-width="1"/>
<rect x="105.78" y="836" width="2.02" height="17.2" fill="#666" stroke="none" stroke-width="1"/>
<rect x="108.8" y="836" width="2.02" height="17.2" fill="#333" stroke="none" stroke-width="1"/>
<rect x="111.83" y="836" width="2.02" height="17.2" fill="#333" stroke="none" stroke-width="1"/>
<rect x="115.87" y="836" width="4.04" height="17.2" fill="#333" stroke="none" stroke-width="1"/>
<rect x="29.5" y="853.2" width="49" height="3.7" fill="#f2b3dd" stroke="none" stroke-width="1"/>
<rect x="78.5" y="853.2" width="43.5" height="3.7" fill="#3a0a98" stroke="none" stroke-width="1"/>
<line x1="78.5" y1="856.9" x2="78.5" y2="891" stroke="#e2e2e2" stroke-width="0.6"/>
<text x="76.75" y="877.11" font-size="7.5" text-anchor="middle" fill="#111" stroke="#111" stroke-width="0.22">Zero cross at 10,400</text>
<rect x="149.5" y="785" width="91" height="106" fill="#fff" stroke="#cfcfcf" stroke-width="0.7"/>
<line x1="160.88" y1="785" x2="160.88" y2="836" stroke="#f5f5f5" stroke-width="0.5"/>
<line x1="160.88" y1="856.9" x2="160.88" y2="891" stroke="#f6f6f6" stroke-width="0.5"/>
<line x1="172.25" y1="785" x2="172.25" y2="836" stroke="#f5f5f5" stroke-width="0.5"/>
<line x1="172.25" y1="856.9" x2="172.25" y2="891" stroke="#f6f6f6" stroke-width="0.5"/>
<line x1="183.62" y1="785" x2="183.62" y2="836" stroke="#f5f5f5" stroke-width="0.5"/>
<line x1="183.62" y1="856.9" x2="183.62" y2="891" stroke="#f6f6f6" stroke-width="0.5"/>
<line x1="195" y1="785" x2="195" y2="836" stroke="#f5f5f5" stroke-width="0.5"/>
<line x1="195" y1="856.9" x2="195" y2="891" stroke="#f6f6f6" stroke-width="0.5"/>
<line x1="206.38" y1="785" x2="206.38" y2="836" stroke="#f5f5f5" stroke-width="0.5"/>
<line x1="206.38" y1="856.9" x2="206.38" y2="891" stroke="#f6f6f6" stroke-width="0.5"/>
<line x1="217.75" y1="785" x2="217.75" y2="836" stroke="#f5f5f5" stroke-width="0.5"/>
<line x1="217.75" y1="856.9" x2="217.75" y2="891" stroke="#f6f6f6" stroke-width="0.5"/>
<line x1="229.12" y1="785" x2="229.12" y2="836" stroke="#f5f5f5" stroke-width="0.5"/>
<line x1="229.12" y1="856.9" x2="229.12" y2="891" stroke="#f6f6f6" stroke-width="0.5"/>
<line x1="149.5" y1="789.5" x2="240.5" y2="789.5" stroke="#f4f4f4" stroke-width="0.5"/>
<line x1="149.5" y1="798.2" x2="240.5" y2="798.2" stroke="#f4f4f4" stroke-width="0.5"/>
<line x1="149.5" y1="806.9" x2="240.5" y2="806.9" stroke="#f4f4f4" stroke-width="0.5"/>
<line x1="149.5" y1="815.6" x2="240.5" y2="815.6" stroke="#f4f4f4" stroke-width="0.5"/>
<line x1="149.5" y1="824.3" x2="240.5" y2="824.3" stroke="#f4f4f4" stroke-width="0.5"/>
<line x1="149.5" y1="833" x2="240.5" y2="833" stroke="#f4f4f4" stroke-width="0.5"/>
<line x1="149.5" y1="836" x2="240.5" y2="836" stroke="#d8d8d8" stroke-width="0.5"/>
<text x="147" y="792.09" font-size="7.3" text-anchor="end" fill="#222" stroke="#222" stroke-width="0.22">0.00</text>
<text x="147" y="800.79" font-size="7.3" text-anchor="end" fill="#222" stroke="#222" stroke-width="0.22">&#8722;0.05</text>
<text x="147" y="809.49" font-size="7.3" text-anchor="end" fill="#222" stroke="#222" stroke-width="0.22">&#8722;0.10</text>
<text x="147" y="818.19" font-size="7.3" text-anchor="end" fill="#222" stroke="#222" stroke-width="0.22">&#8722;0.15</text>
<text x="147" y="826.89" font-size="7.3" text-anchor="end" fill="#222" stroke="#222" stroke-width="0.22">&#8722;0.20</text>
<text x="147" y="835.59" font-size="7.3" text-anchor="end" fill="#222" stroke="#222" stroke-width="0.22">&#8722;0.25</text>
<path d="M150 787.33 L150.4 786.32 L150.81 786.97 L151.21 787.61 L151.62 788.57 L152.02 789.6 L152.43 790.26 L152.83 791.4 L153.24 792.82 L153.64 794.05 L154.05 795.23 L154.45 795.17 L154.85 795.17 L155.26 794.67 L155.66 795.43 L156.07 796.31 L156.47 796.82 L156.88 797.87 L157.28 800.08 L157.69 799.59 L158.09 800.63 L158.5 801.03 L158.9 801.88 L159.3 800.39 L159.71 801.01 L160.11 802.17 L160.52 804.23 L160.92 804.28 L161.33 805.85 L161.73 805.61 L162.14 807.71 L162.54 808.23 L162.95 808.11 L163.35 809.61 L163.75 810.11 L164.16 810.67 L164.56 810.73 L164.97 812.09 L165.37 812.35 L165.78 811.81 L166.18 814.34 L166.59 815.39 L166.99 814.53 L167.4 814.71 L167.8 815.2 L168.2 813.38 L168.61 812.51 L169.01 811.77 L169.42 811.23 L169.82 811.05 L170.23 811.96 L170.63 813.86 L171.04 812.94 L171.44 813.56 L171.85 813.15 L172.25 812.68 L172.65 813.61 L173.06 813.54 L173.46 812.01 L173.87 811.83 L174.27 813.48 L174.68 813.46 L175.08 813.33 L175.49 812.87 L175.89 812.49 L176.3 812.88 L176.7 813.27 L177.1 812.72 L177.51 814.1 L177.91 813.32 L178.32 813.57 L178.72 814.45 L179.13 815.16 L179.53 815.13 L179.94 816.47 L180.34 818.03 L180.75 817.12 L181.15 815.92 L181.55 816.49 L181.96 816.82 L182.36 817.19 L182.77 818.29 L183.17 818.14 L183.58 817.92 L183.98 818.52 L184.39 818.41 L184.79 819.9 L185.2 820.03 L185.6 821 L186 821.56 L186.41 821.8 L186.81 822.44 L187.22 822.65 L187.62 823.25 L188.03 825.27 L188.43 825.04 L188.84 827.29 L189.24 827.92 L189.65 828.34 L190.05 829.02 L190.45 829.04 L190.86 829.55 L191.26 830.75 L191.67 830.35 L192.07 830.89 L192.48 832 L192.88 832.12 L193.29 832.43 L193.69 831.99 L194.1 831.6 L194.5 830.49 L194.9 829.74 L195.31 827.68 L195.71 827.5 L196.12 825.71 L196.52 825.01 L196.93 823.24 L197.33 820.84 L197.74 820.84 L198.14 819.98 L198.55 820.29 L198.95 821.27 L199.35 821.98 L199.76 822.15 L200.16 821.88 L200.57 821.96 L200.97 823.21 L201.38 823.73 L201.78 825.4 L202.19 825.07 L202.59 824.49 L203 824.47 L203.4 823.92 L203.8 822.39 L204.21 821.54 L204.61 820.36 L205.02 820.14 L205.42 819.31 L205.83 818.93 L206.23 821.18 L206.64 822.04 L207.04 823.03 L207.45 824.5 L207.85 824.82 L208.25 824.54 L208.66 823.65 L209.06 823.7 L209.47 824.31 L209.87 823.7 L210.28 823.37 L210.68 822.35 L211.09 820.72 L211.49 820.34 L211.9 820.81 L212.3 819.7 L212.7 820.14 L213.11 819.6 L213.51 820.97 L213.92 819.51 L214.32 821.39 L214.73 821.66 L215.13 821.46 L215.54 823.86 L215.94 824.15 L216.35 825.02 L216.75 823.32 L217.15 823.14 L217.56 824.33 L217.96 825.72 L218.37 826.67 L218.77 826.01 L219.18 826.43 L219.58 825.97 L219.99 826.45 L220.39 827.68 L220.8 824.93 L221.2 822.92 L221.6 821.83 L222.01 820.21 L222.41 817.35 L222.82 815.26 L223.22 814.76 L223.63 811.82 L224.03 810.81 L224.44 809.73 L224.84 811.07 L225.25 811.62 L225.65 811.03 L226.05 812.21 L226.46 812.13 L226.86 811.97 L227.27 812.75 L227.67 811.85 L228.08 811.98 L228.48 812.75 L228.89 812.51 L229.29 811.86 L229.7 811 L230.1 811.21 L230.5 810.43 L230.91 810.02 L231.31 810.58 L231.72 810.15 L232.12 807.96 L232.53 808.4 L232.93 807.52 L233.34 805.89 L233.74 806.13 L234.15 805.56 L234.55 803.41 L234.95 800.1 L235.36 798.24 L235.76 796.56 L236.17 796.03 L236.57 794.46 L236.98 794.55 L237.38 793.74 L237.79 791.4 L238.19 789.81 L238.6 791 L239 788.07" fill="none" stroke="#38d838" stroke-width="1.3" stroke-linejoin="round"/>
<rect x="153.48" y="836" width="0.7" height="16.6" fill="#888" stroke="none" stroke-width="1"/>
<rect x="157.52" y="836" width="0.7" height="16.6" fill="#999" stroke="none" stroke-width="1"/>
<rect x="167.21" y="836" width="0.7" height="16.6" fill="#888" stroke="none" stroke-width="1"/>
<rect x="168.83" y="836" width="0.7" height="16.6" fill="#777" stroke="none" stroke-width="1"/>
<rect x="170.85" y="836" width="0.7" height="16.6" fill="#999" stroke="none" stroke-width="1"/>
<rect x="173.27" y="836" width="0.7" height="16.6" fill="#888" stroke="none" stroke-width="1"/>
<rect x="175.29" y="836" width="0.7" height="16.6" fill="#777" stroke="none" stroke-width="1"/>
<rect x="177.31" y="836" width="0.7" height="16.6" fill="#999" stroke="none" stroke-width="1"/>
<rect x="179.73" y="836" width="0.7" height="16.6" fill="#888" stroke="none" stroke-width="1"/>
<rect x="181.75" y="836" width="0.7" height="16.6" fill="#999" stroke="none" stroke-width="1"/>
<rect x="190.44" y="836" width="0.7" height="16.6" fill="#888" stroke="none" stroke-width="1"/>
<rect x="192.46" y="836" width="0.7" height="16.6" fill="#999" stroke="none" stroke-width="1"/>
<rect x="196.49" y="836" width="0.7" height="16.6" fill="#333" stroke="none" stroke-width="1"/>
<rect x="199.52" y="836" width="0.7" height="16.6" fill="#777" stroke="none" stroke-width="1"/>
<rect x="203.56" y="836" width="0.7" height="16.6" fill="#666" stroke="none" stroke-width="1"/>
<rect x="205.18" y="836" width="0.7" height="16.6" fill="#999" stroke="none" stroke-width="1"/>
<rect x="210.63" y="836" width="0.7" height="16.6" fill="#777" stroke="none" stroke-width="1"/>
<rect x="212.65" y="836" width="0.7" height="16.6" fill="#888" stroke="none" stroke-width="1"/>
<rect x="216.69" y="836" width="0.7" height="16.6" fill="#777" stroke="none" stroke-width="1"/>
<rect x="218.71" y="836" width="0.7" height="16.6" fill="#999" stroke="none" stroke-width="1"/>
<rect x="221.74" y="836" width="0.7" height="16.6" fill="#666" stroke="none" stroke-width="1"/>
<rect x="223.76" y="836" width="0.7" height="16.6" fill="#888" stroke="none" stroke-width="1"/>
<rect x="225.37" y="836" width="0.7" height="16.6" fill="#777" stroke="none" stroke-width="1"/>
<rect x="229.81" y="836" width="0.7" height="16.6" fill="#888" stroke="none" stroke-width="1"/>
<rect x="231.43" y="836" width="0.7" height="16.6" fill="#777" stroke="none" stroke-width="1"/>
<rect x="232.84" y="836" width="0.7" height="16.6" fill="#999" stroke="none" stroke-width="1"/>
<rect x="234.86" y="836" width="0.7" height="16.6" fill="#666" stroke="none" stroke-width="1"/>
<rect x="236.88" y="836" width="0.7" height="16.6" fill="#777" stroke="none" stroke-width="1"/>
<rect x="149.5" y="852.6" width="46.5" height="4.3" fill="#f2b3dd" stroke="none" stroke-width="1"/>
<rect x="196" y="852.6" width="43.5" height="4.3" fill="#3a0a98" stroke="none" stroke-width="1"/>
<line x1="196" y1="856.9" x2="196" y2="891" stroke="#e2e2e2" stroke-width="0.6"/>
<text x="196" y="877.11" font-size="7.5" text-anchor="middle" fill="#111" stroke="#111" stroke-width="0.22">Zero cross at 10,400</text>
<text x="30" y="900.17" font-size="6.1" text-anchor="middle" fill="#222" stroke="#222" stroke-width="0.22">0</text>
<text x="54" y="900.17" font-size="6.1" text-anchor="middle" fill="#222" stroke="#222" stroke-width="0.22">5,000</text>
<text x="77.5" y="900.17" font-size="6.1" text-anchor="middle" fill="#222" stroke="#222" stroke-width="0.22">10,000</text>
<text x="100" y="900.17" font-size="6.1" text-anchor="middle" fill="#222" stroke="#222" stroke-width="0.22">15,000</text>
<text x="121" y="900.17" font-size="6.1" text-anchor="middle" fill="#222" stroke="#222" stroke-width="0.22">20,000</text>
<text x="149.5" y="900.17" font-size="6.1" text-anchor="middle" fill="#222" stroke="#222" stroke-width="0.22">0</text>
<text x="171.3" y="900.17" font-size="6.1" text-anchor="middle" fill="#222" stroke="#222" stroke-width="0.22">5,000</text>
<text x="192.5" y="900.17" font-size="6.1" text-anchor="middle" fill="#222" stroke="#222" stroke-width="0.22">10,000</text>
<text x="216.3" y="900.17" font-size="6.1" text-anchor="middle" fill="#222" stroke="#222" stroke-width="0.22">15,000</text>
<text x="237.5" y="900.17" font-size="6.1" text-anchor="middle" fill="#222" stroke="#222" stroke-width="0.22">20,000</text>
<text x="256.5" y="621.9" font-size="11" text-anchor="start" fill="#000" stroke="#000" stroke-width="0.22" font-weight="bold">J</text>
<text x="337.5" y="631.33" font-size="7.4" text-anchor="middle" fill="#000" stroke="#000" stroke-width="0.22" font-weight="bold">INTERFERON_ALPHA</text>
<text x="337.5" y="639.93" font-size="7.4" text-anchor="middle" fill="#000" stroke="#000" stroke-width="0.22" font-weight="bold">_RESPONSE</text>
<text x="459" y="631.33" font-size="7.4" text-anchor="middle" fill="#000" stroke="#000" stroke-width="0.22" font-weight="bold">INTERFERON_GAMMA</text>
<text x="459" y="639.93" font-size="7.4" text-anchor="middle" fill="#000" stroke="#000" stroke-width="0.22" font-weight="bold">_RESPONSE</text>
<text x="337.5" y="771.63" font-size="7.4" text-anchor="middle" fill="#000" stroke="#000" stroke-width="0.22" font-weight="bold">EPITHELIAL_MESENCHY-</text>
<text x="337.5" y="780.33" font-size="7.4" text-anchor="middle" fill="#000" stroke="#000" stroke-width="0.22" font-weight="bold">MAL_TRANSITION</text>
<text x="459" y="771.63" font-size="7.4" text-anchor="middle" fill="#000" stroke="#000" stroke-width="0.22" font-weight="bold">INFLAMMATORY_</text>
<text x="459" y="780.33" font-size="7.4" text-anchor="middle" fill="#000" stroke="#000" stroke-width="0.22" font-weight="bold">RESPONSE</text>
<text x="260" y="670.34" font-size="6.6" text-anchor="middle" fill="#000" stroke="#000" stroke-width="0.22" transform="rotate(-90 260 668)">Enrichment score</text>
<text x="260" y="731.31" font-size="6.5" text-anchor="middle" fill="#000" stroke="#000" stroke-width="0.22" transform="rotate(-90 260 729)">Ranked list metric</text>
<text x="260" y="812.34" font-size="6.6" text-anchor="middle" fill="#000" stroke="#000" stroke-width="0.22" transform="rotate(-90 260 810)">Enrichment score</text>
<text x="260" y="875.31" font-size="6.5" text-anchor="middle" fill="#000" stroke="#000" stroke-width="0.22" transform="rotate(-90 260 873)">Ranked list metric</text>
<rect x="287.5" y="645" width="97.5" height="101.3" fill="#fff" stroke="#cfcfcf" stroke-width="0.7"/>
<line x1="299.69" y1="645" x2="299.69" y2="694.5" stroke="#f5f5f5" stroke-width="0.5"/>
<line x1="299.69" y1="713.7" x2="299.69" y2="746.3" stroke="#f6f6f6" stroke-width="0.5"/>
<line x1="311.88" y1="645" x2="311.88" y2="694.5" stroke="#f5f5f5" stroke-width="0.5"/>
<line x1="311.88" y1="713.7" x2="311.88" y2="746.3" stroke="#f6f6f6" stroke-width="0.5"/>
<line x1="324.06" y1="645" x2="324.06" y2="694.5" stroke="#f5f5f5" stroke-width="0.5"/>
<line x1="324.06" y1="713.7" x2="324.06" y2="746.3" stroke="#f6f6f6" stroke-width="0.5"/>
<line x1="336.25" y1="645" x2="336.25" y2="694.5" stroke="#f5f5f5" stroke-width="0.5"/>
<line x1="336.25" y1="713.7" x2="336.25" y2="746.3" stroke="#f6f6f6" stroke-width="0.5"/>
<line x1="348.44" y1="645" x2="348.44" y2="694.5" stroke="#f5f5f5" stroke-width="0.5"/>
<line x1="348.44" y1="713.7" x2="348.44" y2="746.3" stroke="#f6f6f6" stroke-width="0.5"/>
<line x1="360.62" y1="645" x2="360.62" y2="694.5" stroke="#f5f5f5" stroke-width="0.5"/>
<line x1="360.62" y1="713.7" x2="360.62" y2="746.3" stroke="#f6f6f6" stroke-width="0.5"/>
<line x1="372.81" y1="645" x2="372.81" y2="694.5" stroke="#f5f5f5" stroke-width="0.5"/>
<line x1="372.81" y1="713.7" x2="372.81" y2="746.3" stroke="#f6f6f6" stroke-width="0.5"/>
<line x1="287.5" y1="648.4" x2="385" y2="648.4" stroke="#f4f4f4" stroke-width="0.5"/>
<line x1="287.5" y1="662.6" x2="385" y2="662.6" stroke="#f4f4f4" stroke-width="0.5"/>
<line x1="287.5" y1="676.8" x2="385" y2="676.8" stroke="#f4f4f4" stroke-width="0.5"/>
<line x1="287.5" y1="691" x2="385" y2="691" stroke="#f4f4f4" stroke-width="0.5"/>
<line x1="287.5" y1="694.5" x2="385" y2="694.5" stroke="#d8d8d8" stroke-width="0.5"/>
<text x="285" y="650.99" font-size="7.3" text-anchor="end" fill="#222" stroke="#222" stroke-width="0.22">0.3</text>
<text x="285" y="665.19" font-size="7.3" text-anchor="end" fill="#222" stroke="#222" stroke-width="0.22">0.2</text>
<text x="285" y="679.39" font-size="7.3" text-anchor="end" fill="#222" stroke="#222" stroke-width="0.22">0.1</text>
<text x="285" y="693.59" font-size="7.3" text-anchor="end" fill="#222" stroke="#222" stroke-width="0.22">0.0</text>
<path d="M288 691.82 L288.43 690.16 L288.87 687.67 L289.3 683.75 L289.74 678.96 L290.17 674.98 L290.6 671.97 L291.04 669.77 L291.47 669.29 L291.91 668.97 L292.34 668.38 L292.77 667.08 L293.21 665.16 L293.64 663.43 L294.08 661.77 L294.51 660.6 L294.95 660.54 L295.38 661.22 L295.81 661.35 L296.25 661.93 L296.68 663.08 L297.12 663.09 L297.55 663.65 L297.98 664.26 L298.42 662.47 L298.85 661.35 L299.29 660.92 L299.72 659.96 L300.15 657.53 L300.59 657.08 L301.02 655.78 L301.46 654.59 L301.89 653.47 L302.32 653.57 L302.76 654.47 L303.19 655.11 L303.63 655.44 L304.06 655.87 L304.5 655.57 L304.93 655.09 L305.36 656.31 L305.8 656.31 L306.23 656.96 L306.67 657.16 L307.1 657 L307.53 656.67 L307.97 656.76 L308.4 658.04 L308.84 656.49 L309.27 656.48 L309.7 656.37 L310.14 654.65 L310.57 653.91 L311.01 653.5 L311.44 651.7 L311.88 650.23 L312.31 649.61 L312.74 648.18 L313.18 648.34 L313.61 649.43 L314.05 648.54 L314.48 648.98 L314.91 650.17 L315.35 650.08 L315.78 650.34 L316.22 650.13 L316.65 651.45 L317.08 650.99 L317.52 651.11 L317.95 651.63 L318.39 652.23 L318.82 652.44 L319.25 653.15 L319.69 654.17 L320.12 655.58 L320.56 655.55 L320.99 655.85 L321.43 656.68 L321.86 657.5 L322.29 657.91 L322.73 660.27 L323.16 660.3 L323.6 662.19 L324.03 661.77 L324.46 661.19 L324.9 660.51 L325.33 661.61 L325.77 661.91 L326.2 662.52 L326.63 664.29 L327.07 663.79 L327.5 664.08 L327.94 664.35 L328.37 665.25 L328.8 665.42 L329.24 665.6 L329.67 665.18 L330.11 665.64 L330.54 664.22 L330.98 665.77 L331.41 666.77 L331.84 667.4 L332.28 668.36 L332.71 667.6 L333.15 667.29 L333.58 668.12 L334.01 667.73 L334.45 666.81 L334.88 667.65 L335.32 667.17 L335.75 667.01 L336.18 665.35 L336.62 665.37 L337.05 665.77 L337.49 666.01 L337.92 665.15 L338.35 666.44 L338.79 665.88 L339.22 668.01 L339.66 668.74 L340.09 669.45 L340.52 670.39 L340.96 670.92 L341.39 670.96 L341.83 672.02 L342.26 673.34 L342.7 672.78 L343.13 672.62 L343.56 674.01 L344 674.52 L344.43 676.44 L344.87 675.59 L345.3 676.55 L345.73 676.79 L346.17 675.48 L346.6 676.78 L347.04 676.92 L347.47 677.75 L347.9 678.8 L348.34 679.15 L348.77 678.64 L349.21 679.36 L349.64 679.48 L350.07 678.91 L350.51 678.94 L350.94 679.15 L351.38 677.48 L351.81 677.09 L352.25 675.94 L352.68 676.48 L353.11 675.05 L353.55 675.76 L353.98 676.23 L354.42 675.58 L354.85 674.97 L355.28 674.06 L355.72 674.37 L356.15 674.17 L356.59 673.79 L357.02 674.85 L357.45 676.05 L357.89 676.36 L358.32 675.99 L358.76 675.91 L359.19 676.68 L359.62 677.66 L360.06 677.84 L360.49 677.53 L360.93 678.45 L361.36 677.99 L361.8 678.48 L362.23 678.89 L362.66 679.8 L363.1 679.35 L363.53 679.91 L363.97 681.23 L364.4 680.8 L364.83 681.36 L365.27 680.94 L365.7 681.33 L366.14 682.12 L366.57 682.25 L367 682.81 L367.44 683.46 L367.87 683.46 L368.31 683.11 L368.74 683.44 L369.18 683.84 L369.61 684.46 L370.04 684.29 L370.48 684.47 L370.91 684.29 L371.35 684.63 L371.78 683.93 L372.21 685.75 L372.65 686.07 L373.08 686.04 L373.52 685.94 L373.95 687.42 L374.38 688.26 L374.82 688.22 L375.25 687.69 L375.69 687.48 L376.12 688.98 L376.55 689.07 L376.99 688.65 L377.42 689.19 L377.86 690.24 L378.29 690.83 L378.73 691.42 L379.16 690.05 L379.59 689.98 L380.03 689.94 L380.46 690.08 L380.9 689.66 L381.33 690.15 L381.76 690.7 L382.2 690.63 L382.63 690.82 L383.07 690.67 L383.5 690.89" fill="none" stroke="#38d838" stroke-width="1.3" stroke-linejoin="round"/>
<rect x="288.03" y="694.5" width="4.04" height="15.1" fill="#222" stroke="none" stroke-width="1"/>
<rect x="297.12" y="694.5" width="4.04" height="15.1" fill="#555" stroke="none" stroke-width="1"/>
<rect x="304.18" y="694.5" width="1.01" height="15.1" fill="#444" stroke="none" stroke-width="1"/>
<rect x="306.2" y="694.5" width="2.02" height="15.1" fill="#555" stroke="none" stroke-width="1"/>
<rect x="309.23" y="694.5" width="3.03" height="15.1" fill="#444" stroke="none" stroke-width="1"/>
<rect x="316.3" y="694.5" width="0.7" height="15.1" fill="#777" stroke="none" stroke-width="1"/>
<rect x="327.41" y="694.5" width="1.01" height="15.1" fill="#333" stroke="none" stroke-width="1"/>
<rect x="333.47" y="694.5" width="2.02" height="15.1" fill="#888" stroke="none" stroke-width="1"/>
<rect x="337.1" y="694.5" width="2.02" height="15.1" fill="#222" stroke="none" stroke-width="1"/>
<rect x="344.57" y="694.5" width="0.7" height="15.1" fill="#666" stroke="none" stroke-width="1"/>
<rect x="346.59" y="694.5" width="1.01" height="15.1" fill="#888" stroke="none" stroke-width="1"/>
<rect x="351.64" y="694.5" width="5.05" height="15.1" fill="#444" stroke="none" stroke-width="1"/>
<rect x="361.74" y="694.5" width="1.01" height="15.1" fill="#888" stroke="none" stroke-width="1"/>
<rect x="365.78" y="694.5" width="2.02" height="15.1" fill="#555" stroke="none" stroke-width="1"/>
<rect x="370.82" y="694.5" width="4.04" height="15.1" fill="#888" stroke="none" stroke-width="1"/>
<rect x="378.9" y="694.5" width="2.02" height="15.1" fill="#555" stroke="none" stroke-width="1"/>
<rect x="381.53" y="694.5" width="0.81" height="15.1" fill="#444" stroke="none" stroke-width="1"/>
<rect x="287.5" y="709.6" width="50.5" height="4.1" fill="#f2b3dd" stroke="none" stroke-width="1"/>
<rect x="338" y="709.6" width="46" height="4.1" fill="#3a0a98" stroke="none" stroke-width="1"/>
<line x1="338" y1="713.7" x2="338" y2="746.3" stroke="#e2e2e2" stroke-width="0.6"/>
<text x="337.25" y="733.16" font-size="7.5" text-anchor="middle" fill="#111" stroke="#111" stroke-width="0.22">Zero cross at 10,400</text>
<rect x="409.7" y="643.7" width="98.3" height="102.3" fill="#fff" stroke="#cfcfcf" stroke-width="0.7"/>
<line x1="421.99" y1="643.7" x2="421.99" y2="694.1" stroke="#f5f5f5" stroke-width="0.5"/>
<line x1="421.99" y1="713.3" x2="421.99" y2="746" stroke="#f6f6f6" stroke-width="0.5"/>
<line x1="434.27" y1="643.7" x2="434.27" y2="694.1" stroke="#f5f5f5" stroke-width="0.5"/>
<line x1="434.27" y1="713.3" x2="434.27" y2="746" stroke="#f6f6f6" stroke-width="0.5"/>
<line x1="446.56" y1="643.7" x2="446.56" y2="694.1" stroke="#f5f5f5" stroke-width="0.5"/>
<line x1="446.56" y1="713.3" x2="446.56" y2="746" stroke="#f6f6f6" stroke-width="0.5"/>
<line x1="458.85" y1="643.7" x2="458.85" y2="694.1" stroke="#f5f5f5" stroke-width="0.5"/>
<line x1="458.85" y1="713.3" x2="458.85" y2="746" stroke="#f6f6f6" stroke-width="0.5"/>
<line x1="471.14" y1="643.7" x2="471.14" y2="694.1" stroke="#f5f5f5" stroke-width="0.5"/>
<line x1="471.14" y1="713.3" x2="471.14" y2="746" stroke="#f6f6f6" stroke-width="0.5"/>
<line x1="483.43" y1="643.7" x2="483.43" y2="694.1" stroke="#f5f5f5" stroke-width="0.5"/>
<line x1="483.43" y1="713.3" x2="483.43" y2="746" stroke="#f6f6f6" stroke-width="0.5"/>
<line x1="495.71" y1="643.7" x2="495.71" y2="694.1" stroke="#f5f5f5" stroke-width="0.5"/>
<line x1="495.71" y1="713.3" x2="495.71" y2="746" stroke="#f6f6f6" stroke-width="0.5"/>
<line x1="409.7" y1="647.6" x2="508" y2="647.6" stroke="#f4f4f4" stroke-width="0.5"/>
<line x1="409.7" y1="667.5" x2="508" y2="667.5" stroke="#f4f4f4" stroke-width="0.5"/>
<line x1="409.7" y1="687.4" x2="508" y2="687.4" stroke="#f4f4f4" stroke-width="0.5"/>
<line x1="409.7" y1="694.1" x2="508" y2="694.1" stroke="#d8d8d8" stroke-width="0.5"/>
<text x="407.2" y="650.19" font-size="7.3" text-anchor="end" fill="#222" stroke="#222" stroke-width="0.22">0.2</text>
<text x="407.2" y="670.09" font-size="7.3" text-anchor="end" fill="#222" stroke="#222" stroke-width="0.22">0.1</text>
<text x="407.2" y="689.99" font-size="7.3" text-anchor="end" fill="#222" stroke="#222" stroke-width="0.22">0.0</text>
<path d="M410.2 685.63 L410.62 680.6 L411.05 677.58 L411.47 674.36 L411.9 672.19 L412.32 669.83 L412.74 668.63 L413.17 668.43 L413.59 667.02 L414.02 664.12 L414.44 664.1 L414.87 661.63 L415.29 660.05 L415.71 659.52 L416.14 658.91 L416.56 659.48 L416.99 659.36 L417.41 657.64 L417.83 658.24 L418.26 658.5 L418.68 659.32 L419.11 658.86 L419.53 656.55 L419.95 654.23 L420.38 652.8 L420.8 651.43 L421.23 650.12 L421.65 649.25 L422.07 649.05 L422.5 649.93 L422.92 649.58 L423.35 650.36 L423.77 652.12 L424.19 653.01 L424.62 652.77 L425.04 652.92 L425.47 653.7 L425.89 653.89 L426.32 653.34 L426.74 652.9 L427.16 652.04 L427.59 652.82 L428.01 652.26 L428.44 651.35 L428.86 651.29 L429.28 650.09 L429.71 651.08 L430.13 651.25 L430.56 651.14 L430.98 651.11 L431.4 650.6 L431.83 649.87 L432.25 649.43 L432.68 649.33 L433.1 649.02 L433.52 649.1 L433.95 650.5 L434.37 650.13 L434.8 651.05 L435.22 651.08 L435.65 651.9 L436.07 651.6 L436.49 651.94 L436.92 652.19 L437.34 652.99 L437.77 653.01 L438.19 652.08 L438.61 654.37 L439.04 654.14 L439.46 654.43 L439.89 655.29 L440.31 656.7 L440.73 655.52 L441.16 656.1 L441.58 656.02 L442.01 657.24 L442.43 658.49 L442.86 658 L443.28 658.17 L443.7 659.29 L444.13 660.1 L444.55 660.13 L444.98 661.34 L445.4 662.21 L445.82 662.26 L446.25 661.61 L446.67 661.48 L447.1 662.07 L447.52 661.66 L447.94 662.72 L448.37 663.76 L448.79 662.32 L449.22 663.81 L449.64 663.99 L450.06 664.27 L450.49 664.92 L450.91 665.37 L451.34 665.41 L451.76 665.69 L452.19 666.88 L452.61 667.18 L453.03 666.36 L453.46 666.46 L453.88 667.51 L454.31 667.85 L454.73 668.95 L455.15 669.94 L455.58 670.02 L456 668.51 L456.43 669.42 L456.85 671.1 L457.27 670.75 L457.7 671.08 L458.12 670.25 L458.55 669.46 L458.97 670.29 L459.39 670.53 L459.82 671.54 L460.24 670.6 L460.67 671.62 L461.09 671.73 L461.51 670.06 L461.94 671.7 L462.36 671.92 L462.79 672.31 L463.21 672.22 L463.64 672.25 L464.06 671.56 L464.48 672.01 L464.91 672.27 L465.33 673.93 L465.76 673.75 L466.18 675.06 L466.6 673.96 L467.03 674.37 L467.45 673.91 L467.88 674.9 L468.3 675.06 L468.72 675.39 L469.15 675.33 L469.57 675.93 L470 676.77 L470.42 677.23 L470.85 677.83 L471.27 678.51 L471.69 679.27 L472.12 680.03 L472.54 678 L472.97 678.94 L473.39 679.9 L473.81 678.96 L474.24 679.06 L474.66 679.56 L475.09 678.99 L475.51 678.17 L475.93 679.85 L476.36 679.19 L476.78 679.54 L477.21 679.38 L477.63 680.69 L478.05 679.86 L478.48 679.84 L478.9 682.84 L479.33 681.73 L479.75 681.1 L480.18 682.93 L480.6 682.78 L481.02 683.18 L481.45 683.2 L481.87 684.14 L482.3 683.63 L482.72 683.34 L483.14 683.9 L483.57 684.31 L483.99 685.92 L484.42 685.21 L484.84 686.29 L485.26 686.02 L485.69 686.58 L486.11 684.37 L486.54 685.14 L486.96 684.51 L487.38 685.44 L487.81 686.09 L488.23 685.96 L488.66 686.57 L489.08 685.19 L489.5 686.4 L489.93 685.81 L490.35 687.73 L490.78 688.64 L491.2 688.02 L491.63 689.27 L492.05 687.46 L492.47 687.54 L492.9 687.98 L493.32 686.97 L493.75 688.19 L494.17 689.15 L494.59 691.2 L495.02 691.97 L495.44 691.2 L495.87 692.16 L496.29 690.58 L496.71 689.5 L497.14 689.31 L497.56 690.86 L497.99 691.23 L498.41 691.6 L498.83 690.12 L499.26 688.9 L499.68 689.06 L500.11 688.85 L500.53 688.52 L500.96 687.85 L501.38 688.64 L501.8 689.08 L502.23 687.9 L502.65 687.33 L503.08 686.93 L503.5 686.94" fill="none" stroke="#38d838" stroke-width="1.3" stroke-linejoin="round"/>
<rect x="410.05" y="694.1" width="4.04" height="15.5" fill="#222" stroke="none" stroke-width="1"/>
<rect x="416.11" y="694.1" width="5.05" height="15.5" fill="#444" stroke="none" stroke-width="1"/>
<rect x="423.17" y="694.1" width="2.02" height="15.5" fill="#333" stroke="none" stroke-width="1"/>
<rect x="426.2" y="694.1" width="1.01" height="15.5" fill="#555" stroke="none" stroke-width="1"/>
<rect x="429.23" y="694.1" width="1.01" height="15.5" fill="#444" stroke="none" stroke-width="1"/>
<rect x="431.25" y="694.1" width="2.02" height="15.5" fill="#555" stroke="none" stroke-width="1"/>
<rect x="434.28" y="694.1" width="1.01" height="15.5" fill="#444" stroke="none" stroke-width="1"/>
<rect x="437.31" y="694.1" width="2.02" height="15.5" fill="#555" stroke="none" stroke-width="1"/>
<rect x="440.34" y="694.1" width="1.01" height="15.5" fill="#666" stroke="none" stroke-width="1"/>
<rect x="443.37" y="694.1" width="2.02" height="15.5" fill="#444" stroke="none" stroke-width="1"/>
<rect x="447.41" y="694.1" width="1.01" height="15.5" fill="#555" stroke="none" stroke-width="1"/>
<rect x="451.45" y="694.1" width="0.7" height="15.5" fill="#666" stroke="none" stroke-width="1"/>
<rect x="454.47" y="694.1" width="2.02" height="15.5" fill="#444" stroke="none" stroke-width="1"/>
<rect x="458.51" y="694.1" width="2.02" height="15.5" fill="#222" stroke="none" stroke-width="1"/>
<rect x="462.55" y="694.1" width="0.7" height="15.5" fill="#555" stroke="none" stroke-width="1"/>
<rect x="464.57" y="694.1" width="1.01" height="15.5" fill="#666" stroke="none" stroke-width="1"/>
<rect x="467.6" y="694.1" width="2.02" height="15.5" fill="#444" stroke="none" stroke-width="1"/>
<rect x="471.64" y="694.1" width="6.06" height="15.5" fill="#777" stroke="none" stroke-width="1"/>
<rect x="479.72" y="694.1" width="2.02" height="15.5" fill="#222" stroke="none" stroke-width="1"/>
<rect x="483.76" y="694.1" width="2.02" height="15.5" fill="#555" stroke="none" stroke-width="1"/>
<rect x="486.79" y="694.1" width="3.03" height="15.5" fill="#777" stroke="none" stroke-width="1"/>
<rect x="491.83" y="694.1" width="2.02" height="15.5" fill="#555" stroke="none" stroke-width="1"/>
<rect x="495.87" y="694.1" width="2.02" height="15.5" fill="#444" stroke="none" stroke-width="1"/>
<rect x="499.91" y="694.1" width="3.03" height="15.5" fill="#444" stroke="none" stroke-width="1"/>
<rect x="409.7" y="709.6" width="49.3" height="3.7" fill="#f2b3dd" stroke="none" stroke-width="1"/>
<rect x="459" y="709.6" width="45" height="3.7" fill="#3a0a98" stroke="none" stroke-width="1"/>
<line x1="459" y1="713.3" x2="459" y2="746" stroke="#e2e2e2" stroke-width="0.6"/>
<text x="459.85" y="732.81" font-size="7.5" text-anchor="middle" fill="#111" stroke="#111" stroke-width="0.22">Zero cross at 10,400</text>
<rect x="288" y="787.3" width="95" height="103.7" fill="#fff" stroke="#cfcfcf" stroke-width="0.7"/>
<line x1="299.88" y1="787.3" x2="299.88" y2="837.7" stroke="#f5f5f5" stroke-width="0.5"/>
<line x1="299.88" y1="857.9" x2="299.88" y2="891" stroke="#f6f6f6" stroke-width="0.5"/>
<line x1="311.75" y1="787.3" x2="311.75" y2="837.7" stroke="#f5f5f5" stroke-width="0.5"/>
<line x1="311.75" y1="857.9" x2="311.75" y2="891" stroke="#f6f6f6" stroke-width="0.5"/>
<line x1="323.62" y1="787.3" x2="323.62" y2="837.7" stroke="#f5f5f5" stroke-width="0.5"/>
<line x1="323.62" y1="857.9" x2="323.62" y2="891" stroke="#f6f6f6" stroke-width="0.5"/>
<line x1="335.5" y1="787.3" x2="335.5" y2="837.7" stroke="#f5f5f5" stroke-width="0.5"/>
<line x1="335.5" y1="857.9" x2="335.5" y2="891" stroke="#f6f6f6" stroke-width="0.5"/>
<line x1="347.38" y1="787.3" x2="347.38" y2="837.7" stroke="#f5f5f5" stroke-width="0.5"/>
<line x1="347.38" y1="857.9" x2="347.38" y2="891" stroke="#f6f6f6" stroke-width="0.5"/>
<line x1="359.25" y1="787.3" x2="359.25" y2="837.7" stroke="#f5f5f5" stroke-width="0.5"/>
<line x1="359.25" y1="857.9" x2="359.25" y2="891" stroke="#f6f6f6" stroke-width="0.5"/>
<line x1="371.12" y1="787.3" x2="371.12" y2="837.7" stroke="#f5f5f5" stroke-width="0.5"/>
<line x1="371.12" y1="857.9" x2="371.12" y2="891" stroke="#f6f6f6" stroke-width="0.5"/>
<line x1="288" y1="792.6" x2="383" y2="792.6" stroke="#f4f4f4" stroke-width="0.5"/>
<line x1="288" y1="801.8" x2="383" y2="801.8" stroke="#f4f4f4" stroke-width="0.5"/>
<line x1="288" y1="811" x2="383" y2="811" stroke="#f4f4f4" stroke-width="0.5"/>
<line x1="288" y1="820.2" x2="383" y2="820.2" stroke="#f4f4f4" stroke-width="0.5"/>
<line x1="288" y1="838.6" x2="383" y2="838.6" stroke="#f4f4f4" stroke-width="0.5"/>
<line x1="288" y1="820.2" x2="383" y2="820.2" stroke="#9a9a9a" stroke-width="0.7"/>
<line x1="288" y1="837.7" x2="383" y2="837.7" stroke="#d8d8d8" stroke-width="0.5"/>
<text x="285.5" y="795.19" font-size="7.3" text-anchor="end" fill="#222" stroke="#222" stroke-width="0.22">0.15</text>
<text x="285.5" y="804.39" font-size="7.3" text-anchor="end" fill="#222" stroke="#222" stroke-width="0.22">0.10</text>
<text x="285.5" y="813.59" font-size="7.3" text-anchor="end" fill="#222" stroke="#222" stroke-width="0.22">0.05</text>
<text x="285.5" y="822.79" font-size="7.3" text-anchor="end" fill="#222" stroke="#222" stroke-width="0.22">0.00</text>
<text x="285.5" y="841.19" font-size="7.3" text-anchor="end" fill="#222" stroke="#222" stroke-width="0.22">&#8722;0.10</text>
<path d="M288.5 820.74 L288.93 819.14 L289.35 819.22 L289.77 817.88 L290.2 818.09 L290.62 816.43 L291.05 815.77 L291.48 813.98 L291.9 812.8 L292.32 811.74 L292.75 810.74 L293.18 808.98 L293.6 807.69 L294.02 806.92 L294.45 805.06 L294.88 806.22 L295.3 804.88 L295.73 802.21 L296.15 801.5 L296.57 802.2 L297 800.52 L297.43 799.89 L297.85 799.81 L298.27 799.53 L298.7 798.88 L299.12 797.82 L299.55 797.75 L299.98 796.2 L300.4 796.88 L300.82 796.08 L301.25 797.2 L301.68 798.03 L302.1 797.04 L302.52 796.05 L302.95 794.15 L303.38 794.5 L303.8 794.19 L304.23 795 L304.65 794.47 L305.07 793.67 L305.5 793.79 L305.93 792.71 L306.35 791.69 L306.77 791.56 L307.2 791.86 L307.62 792.03 L308.05 791.45 L308.48 792.18 L308.9 791.08 L309.32 791.45 L309.75 790.94 L310.18 791.64 L310.6 791.89 L311.02 791.89 L311.45 790.86 L311.88 790.53 L312.3 790.26 L312.73 789.37 L313.15 790.15 L313.57 789.29 L314 790.25 L314.43 791.19 L314.85 791.63 L315.27 790.86 L315.7 790.09 L316.12 791.38 L316.55 792.67 L316.98 793.94 L317.4 793.66 L317.82 793.34 L318.25 793.31 L318.68 793.52 L319.1 793.04 L319.52 793.89 L319.95 794.3 L320.38 795.21 L320.8 796.42 L321.23 798.25 L321.65 797.85 L322.07 798.25 L322.5 798.59 L322.93 799.03 L323.35 798.97 L323.77 799.06 L324.2 801 L324.62 800.96 L325.05 800.51 L325.48 800.44 L325.9 800.94 L326.32 801.09 L326.75 802.61 L327.18 802.24 L327.6 802.62 L328.02 802.74 L328.45 802.52 L328.88 802.92 L329.3 804.23 L329.73 805.77 L330.15 805.73 L330.57 805.51 L331 805.34 L331.43 804.8 L331.85 805.18 L332.27 805.71 L332.7 807.75 L333.12 807.32 L333.55 807.72 L333.98 806.77 L334.4 807.36 L334.82 809.04 L335.25 809.62 L335.68 809.79 L336.1 811.24 L336.52 812.84 L336.95 812.48 L337.38 813.18 L337.8 813.56 L338.23 813.63 L338.65 813.98 L339.07 813.51 L339.5 813.7 L339.93 813.92 L340.35 813.73 L340.77 814.38 L341.2 815.75 L341.62 815.76 L342.05 816.84 L342.48 816.45 L342.9 817.34 L343.32 817.14 L343.75 816.19 L344.18 816.14 L344.6 817.29 L345.02 818.54 L345.45 818.68 L345.88 817.8 L346.3 817.72 L346.73 819.3 L347.15 818.61 L347.57 818.72 L348 818.55 L348.43 818.09 L348.85 819.53 L349.27 819.48 L349.7 819.84 L350.12 819.5 L350.55 820.41 L350.98 821.86 L351.4 821.69 L351.82 821.09 L352.25 821.73 L352.68 822.22 L353.1 822.31 L353.52 822.69 L353.95 823.22 L354.38 823.64 L354.8 822.61 L355.23 823.49 L355.65 823.66 L356.07 823.16 L356.5 823 L356.93 825.02 L357.35 825.87 L357.77 827.07 L358.2 827.21 L358.62 829.1 L359.05 829.85 L359.48 829.62 L359.9 829.37 L360.32 830.57 L360.75 830.5 L361.18 829.94 L361.6 831.48 L362.02 831.02 L362.45 831.95 L362.88 834.33 L363.3 834.28 L363.73 834.07 L364.15 832.15 L364.57 832.29 L365 830.24 L365.43 830.1 L365.85 829.3 L366.27 829.06 L366.7 828.12 L367.12 826.73 L367.55 826.78 L367.98 827.58 L368.4 827.23 L368.82 827.74 L369.25 827.69 L369.68 827.17 L370.1 827.53 L370.52 827.63 L370.95 827.85 L371.38 828.11 L371.8 827.74 L372.23 827.31 L372.65 827.79 L373.07 829.68 L373.5 830.72 L373.93 829.75 L374.35 828.75 L374.77 828.36 L375.2 829.5 L375.62 829.75 L376.05 830.54 L376.48 830.23 L376.9 829.65 L377.32 829.68 L377.75 828.22 L378.18 827.47 L378.6 825.19 L379.02 824.24 L379.45 825.34 L379.88 823.93 L380.3 824.1 L380.73 823.7 L381.15 822.85 L381.57 822.86 L382 819.38" fill="none" stroke="#38d838" stroke-width="1.3" stroke-linejoin="round"/>
<rect x="288.03" y="837.7" width="4.04" height="16.1" fill="#555" stroke="none" stroke-width="1"/>
<rect x="294.09" y="837.7" width="2.02" height="16.1" fill="#222" stroke="none" stroke-width="1"/>
<rect x="298.13" y="837.7" width="2.02" height="16.1" fill="#222" stroke="none" stroke-width="1"/>
<rect x="301.16" y="837.7" width="3.03" height="16.1" fill="#777" stroke="none" stroke-width="1"/>
<rect x="305.19" y="837.7" width="1.01" height="16.1" fill="#555" stroke="none" stroke-width="1"/>
<rect x="307.21" y="837.7" width="2.02" height="16.1" fill="#222" stroke="none" stroke-width="1"/>
<rect x="310.24" y="837.7" width="2.02" height="16.1" fill="#444" stroke="none" stroke-width="1"/>
<rect x="313.27" y="837.7" width="1.01" height="16.1" fill="#666" stroke="none" stroke-width="1"/>
<rect x="316.3" y="837.7" width="1.01" height="16.1" fill="#555" stroke="none" stroke-width="1"/>
<rect x="319.33" y="837.7" width="1.01" height="16.1" fill="#666" stroke="none" stroke-width="1"/>
<rect x="323.37" y="837.7" width="2.02" height="16.1" fill="#999" stroke="none" stroke-width="1"/>
<rect x="326.4" y="837.7" width="2.02" height="16.1" fill="#999" stroke="none" stroke-width="1"/>
<rect x="330.44" y="837.7" width="1.01" height="16.1" fill="#777" stroke="none" stroke-width="1"/>
<rect x="336.49" y="837.7" width="2.02" height="16.1" fill="#555" stroke="none" stroke-width="1"/>
<rect x="341.54" y="837.7" width="1.01" height="16.1" fill="#666" stroke="none" stroke-width="1"/>
<rect x="343.56" y="837.7" width="2.02" height="16.1" fill="#444" stroke="none" stroke-width="1"/>
<rect x="347.6" y="837.7" width="1.01" height="16.1" fill="#666" stroke="none" stroke-width="1"/>
<rect x="350.63" y="837.7" width="1.01" height="16.1" fill="#999" stroke="none" stroke-width="1"/>
<rect x="353.66" y="837.7" width="1.01" height="16.1" fill="#777" stroke="none" stroke-width="1"/>
<rect x="357.7" y="837.7" width="1.01" height="16.1" fill="#888" stroke="none" stroke-width="1"/>
<rect x="362.75" y="837.7" width="1.01" height="16.1" fill="#777" stroke="none" stroke-width="1"/>
<rect x="364.77" y="837.7" width="3.03" height="16.1" fill="#666" stroke="none" stroke-width="1"/>
<rect x="369.81" y="837.7" width="5.05" height="16.1" fill="#999" stroke="none" stroke-width="1"/>
<rect x="376.88" y="837.7" width="2.02" height="16.1" fill="#222" stroke="none" stroke-width="1"/>
<rect x="379.91" y="837.7" width="2.02" height="16.1" fill="#555" stroke="none" stroke-width="1"/>
<rect x="288" y="853.8" width="50" height="4.1" fill="#f2b3dd" stroke="none" stroke-width="1"/>
<rect x="338" y="853.8" width="44.5" height="4.1" fill="#3a0a98" stroke="none" stroke-width="1"/>
<line x1="338" y1="857.9" x2="338" y2="891" stroke="#e2e2e2" stroke-width="0.6"/>
<text x="336.5" y="877.61" font-size="7.5" text-anchor="middle" fill="#111" stroke="#111" stroke-width="0.22">Zero cross at 10,400</text>
<rect x="409.7" y="786" width="100.3" height="105" fill="#fff" stroke="#cfcfcf" stroke-width="0.7"/>
<line x1="422.24" y1="786" x2="422.24" y2="837.7" stroke="#f5f5f5" stroke-width="0.5"/>
<line x1="422.24" y1="857.7" x2="422.24" y2="891" stroke="#f6f6f6" stroke-width="0.5"/>
<line x1="434.77" y1="786" x2="434.77" y2="837.7" stroke="#f5f5f5" stroke-width="0.5"/>
<line x1="434.77" y1="857.7" x2="434.77" y2="891" stroke="#f6f6f6" stroke-width="0.5"/>
<line x1="447.31" y1="786" x2="447.31" y2="837.7" stroke="#f5f5f5" stroke-width="0.5"/>
<line x1="447.31" y1="857.7" x2="447.31" y2="891" stroke="#f6f6f6" stroke-width="0.5"/>
<line x1="459.85" y1="786" x2="459.85" y2="837.7" stroke="#f5f5f5" stroke-width="0.5"/>
<line x1="459.85" y1="857.7" x2="459.85" y2="891" stroke="#f6f6f6" stroke-width="0.5"/>
<line x1="472.39" y1="786" x2="472.39" y2="837.7" stroke="#f5f5f5" stroke-width="0.5"/>
<line x1="472.39" y1="857.7" x2="472.39" y2="891" stroke="#f6f6f6" stroke-width="0.5"/>
<line x1="484.93" y1="786" x2="484.93" y2="837.7" stroke="#f5f5f5" stroke-width="0.5"/>
<line x1="484.93" y1="857.7" x2="484.93" y2="891" stroke="#f6f6f6" stroke-width="0.5"/>
<line x1="497.46" y1="786" x2="497.46" y2="837.7" stroke="#f5f5f5" stroke-width="0.5"/>
<line x1="497.46" y1="857.7" x2="497.46" y2="891" stroke="#f6f6f6" stroke-width="0.5"/>
<line x1="409.7" y1="789" x2="510" y2="789" stroke="#f4f4f4" stroke-width="0.5"/>
<line x1="409.7" y1="801.4" x2="510" y2="801.4" stroke="#f4f4f4" stroke-width="0.5"/>
<line x1="409.7" y1="813.8" x2="510" y2="813.8" stroke="#f4f4f4" stroke-width="0.5"/>
<line x1="409.7" y1="826.2" x2="510" y2="826.2" stroke="#f4f4f4" stroke-width="0.5"/>
<line x1="409.7" y1="837.7" x2="510" y2="837.7" stroke="#d8d8d8" stroke-width="0.5"/>
<text x="407.2" y="791.59" font-size="7.3" text-anchor="end" fill="#222" stroke="#222" stroke-width="0.22">0.15</text>
<text x="407.2" y="803.99" font-size="7.3" text-anchor="end" fill="#222" stroke="#222" stroke-width="0.22">0.10</text>
<text x="407.2" y="816.39" font-size="7.3" text-anchor="end" fill="#222" stroke="#222" stroke-width="0.22">0.05</text>
<text x="407.2" y="828.79" font-size="7.3" text-anchor="end" fill="#222" stroke="#222" stroke-width="0.22">0.00</text>
<path d="M410.2 825.59 L410.63 822.96 L411.06 822.43 L411.5 820.59 L411.93 820.59 L412.36 818.74 L412.79 818.24 L413.22 816.97 L413.65 816.17 L414.09 814.61 L414.52 814.5 L414.95 814.69 L415.38 814.57 L415.81 815.38 L416.25 812.64 L416.68 814.27 L417.11 813.3 L417.54 811.98 L417.97 811.95 L418.4 813 L418.84 811.81 L419.27 810.11 L419.7 809.32 L420.13 811.53 L420.56 811.35 L421 810.62 L421.43 808.31 L421.86 809.53 L422.29 810.1 L422.72 809.18 L423.15 811.51 L423.59 811.95 L424.02 813.74 L424.45 813.43 L424.88 813.82 L425.31 813.99 L425.75 812.87 L426.18 812.42 L426.61 812.53 L427.04 813.46 L427.47 814.45 L427.9 815.88 L428.34 813.81 L428.77 809.97 L429.2 807.44 L429.63 805.26 L430.06 802.7 L430.5 798.38 L430.93 795.29 L431.36 794.56 L431.79 795.99 L432.22 796.36 L432.65 796.81 L433.09 794.49 L433.52 793.98 L433.95 795.25 L434.38 794.33 L434.81 793.87 L435.25 793.57 L435.68 793.19 L436.11 794.02 L436.54 794.77 L436.97 793.55 L437.4 791.31 L437.84 793.22 L438.27 794.4 L438.7 793.17 L439.13 794.37 L439.56 796.51 L440 795.41 L440.43 793.21 L440.86 791.74 L441.29 791.05 L441.72 792.16 L442.15 791.75 L442.59 792.26 L443.02 792.62 L443.45 791.68 L443.88 792.68 L444.31 791.06 L444.75 790.39 L445.18 789.77 L445.61 789.56 L446.04 790.54 L446.47 788.13 L446.9 786.58 L447.34 788.05 L447.77 789.17 L448.2 790.54 L448.63 791.28 L449.06 790.79 L449.5 790.13 L449.93 791.89 L450.36 793.86 L450.79 795.92 L451.22 796.41 L451.65 797.44 L452.09 797.91 L452.52 798.51 L452.95 801.17 L453.38 802.38 L453.81 802.14 L454.25 802.8 L454.68 802.86 L455.11 803.86 L455.54 801.62 L455.97 800.78 L456.4 801 L456.84 799.93 L457.27 798.52 L457.7 797.59 L458.13 798.94 L458.56 799.37 L459 799.14 L459.43 798.2 L459.86 800.66 L460.29 799.97 L460.72 801.2 L461.15 799.07 L461.59 799.12 L462.02 798.94 L462.45 800.12 L462.88 799.05 L463.31 799.47 L463.75 801.4 L464.18 803.92 L464.61 803.43 L465.04 803.34 L465.47 804.45 L465.9 805.24 L466.34 806.42 L466.77 805.54 L467.2 804.98 L467.63 806.97 L468.06 808.58 L468.5 807.59 L468.93 809.16 L469.36 808.54 L469.79 807.81 L470.22 807.45 L470.65 805.57 L471.09 806.76 L471.52 805.87 L471.95 805.78 L472.38 805.97 L472.81 805.22 L473.25 805.1 L473.68 804.78 L474.11 805.45 L474.54 806.29 L474.97 804.82 L475.4 804.4 L475.84 805.09 L476.27 806.72 L476.7 806.36 L477.13 808.63 L477.56 809.06 L478 809.13 L478.43 809.76 L478.86 811.73 L479.29 809.27 L479.72 811.38 L480.15 809.79 L480.59 808.1 L481.02 808.77 L481.45 809.58 L481.88 812.12 L482.31 812.76 L482.75 815.09 L483.18 814.91 L483.61 814.3 L484.04 816.42 L484.47 816.44 L484.9 817.14 L485.34 815.37 L485.77 815.73 L486.2 815.75 L486.63 816.8 L487.06 817.2 L487.5 817.82 L487.93 819.72 L488.36 818.74 L488.79 819.64 L489.22 821.36 L489.65 821.46 L490.09 820.85 L490.52 820.5 L490.95 820.31 L491.38 820.89 L491.81 821.79 L492.25 822.75 L492.68 824.31 L493.11 823.28 L493.54 823.73 L493.97 823.2 L494.4 824.61 L494.84 825.12 L495.27 824.97 L495.7 826.3 L496.13 826.49 L496.56 826.8 L497 826.72 L497.43 828.55 L497.86 829.73 L498.29 831.12 L498.72 830.95 L499.15 831.91 L499.59 828.99 L500.02 831.04 L500.45 829.91 L500.88 830.24 L501.31 832.06 L501.75 831.38 L502.18 832.23 L502.61 831.31 L503.04 829.94 L503.47 826.22 L503.9 826.98 L504.34 826.76 L504.77 825.34 L505.2 824.2" fill="none" stroke="#38d838" stroke-width="1.3" stroke-linejoin="round"/>
<rect x="410.65" y="837.7" width="3.43" height="16.1" fill="#222" stroke="none" stroke-width="1"/>
<rect x="415.1" y="837.7" width="3.03" height="16.1" fill="#555" stroke="none" stroke-width="1"/>
<rect x="419.14" y="837.7" width="2.02" height="16.1" fill="#888" stroke="none" stroke-width="1"/>
<rect x="422.16" y="837.7" width="2.02" height="16.1" fill="#222" stroke="none" stroke-width="1"/>
<rect x="425.19" y="837.7" width="2.02" height="16.1" fill="#333" stroke="none" stroke-width="1"/>
<rect x="428.22" y="837.7" width="3.03" height="16.1" fill="#222" stroke="none" stroke-width="1"/>
<rect x="432.26" y="837.7" width="2.02" height="16.1" fill="#888" stroke="none" stroke-width="1"/>
<rect x="435.29" y="837.7" width="2.02" height="16.1" fill="#222" stroke="none" stroke-width="1"/>
<rect x="439.33" y="837.7" width="2.02" height="16.1" fill="#222" stroke="none" stroke-width="1"/>
<rect x="443.37" y="837.7" width="2.02" height="16.1" fill="#444" stroke="none" stroke-width="1"/>
<rect x="446.4" y="837.7" width="1.01" height="16.1" fill="#777" stroke="none" stroke-width="1"/>
<rect x="450.44" y="837.7" width="1.01" height="16.1" fill="#777" stroke="none" stroke-width="1"/>
<rect x="453.47" y="837.7" width="2.02" height="16.1" fill="#444" stroke="none" stroke-width="1"/>
<rect x="457.5" y="837.7" width="1.01" height="16.1" fill="#666" stroke="none" stroke-width="1"/>
<rect x="460.53" y="837.7" width="2.02" height="16.1" fill="#444" stroke="none" stroke-width="1"/>
<rect x="463.56" y="837.7" width="2.02" height="16.1" fill="#888" stroke="none" stroke-width="1"/>
<rect x="467.6" y="837.7" width="1.01" height="16.1" fill="#666" stroke="none" stroke-width="1"/>
<rect x="469.62" y="837.7" width="2.02" height="16.1" fill="#444" stroke="none" stroke-width="1"/>
<rect x="473.66" y="837.7" width="1.01" height="16.1" fill="#777" stroke="none" stroke-width="1"/>
<rect x="476.69" y="837.7" width="1.01" height="16.1" fill="#777" stroke="none" stroke-width="1"/>
<rect x="481.74" y="837.7" width="2.02" height="16.1" fill="#999" stroke="none" stroke-width="1"/>
<rect x="484.77" y="837.7" width="1.01" height="16.1" fill="#777" stroke="none" stroke-width="1"/>
<rect x="489.81" y="837.7" width="1.01" height="16.1" fill="#777" stroke="none" stroke-width="1"/>
<rect x="493.85" y="837.7" width="1.01" height="16.1" fill="#777" stroke="none" stroke-width="1"/>
<rect x="496.88" y="837.7" width="1.01" height="16.1" fill="#666" stroke="none" stroke-width="1"/>
<rect x="501.93" y="837.7" width="2.02" height="16.1" fill="#222" stroke="none" stroke-width="1"/>
<rect x="409.7" y="853.8" width="51.1" height="3.9" fill="#f2b3dd" stroke="none" stroke-width="1"/>
<rect x="460.8" y="853.8" width="44.9" height="3.9" fill="#3a0a98" stroke="none" stroke-width="1"/>
<line x1="460.8" y1="857.7" x2="460.8" y2="891" stroke="#e2e2e2" stroke-width="0.6"/>
<text x="460.85" y="877.51" font-size="7.5" text-anchor="middle" fill="#111" stroke="#111" stroke-width="0.22">Zero cross at 10,400</text>
<text x="288.2" y="901.57" font-size="6.1" text-anchor="middle" fill="#222" stroke="#222" stroke-width="0.22">0</text>
<text x="312" y="901.57" font-size="6.1" text-anchor="middle" fill="#222" stroke="#222" stroke-width="0.22">5,000</text>
<text x="335.5" y="901.57" font-size="6.1" text-anchor="middle" fill="#222" stroke="#222" stroke-width="0.22">10,000</text>
<text x="371.8" y="901.57" font-size="6.1" text-anchor="middle" fill="#222" stroke="#222" stroke-width="0.22">15,000</text>
<text x="410" y="901.17" font-size="6.1" text-anchor="middle" fill="#222" stroke="#222" stroke-width="0.22">0</text>
<text x="433.8" y="901.17" font-size="6.1" text-anchor="middle" fill="#222" stroke="#222" stroke-width="0.22">5,000</text>
<text x="458" y="901.17" font-size="6.1" text-anchor="middle" fill="#222" stroke="#222" stroke-width="0.22">10,000</text>
<text x="481" y="901.17" font-size="6.1" text-anchor="middle" fill="#222" stroke="#222" stroke-width="0.22">15,000</text>
<text x="507" y="901.17" font-size="6.1" text-anchor="middle" fill="#222" stroke="#222" stroke-width="0.22">20,000</text>
<text x="96.3" y="916.16" font-size="7.5" text-anchor="start" fill="#000" stroke="#000" stroke-width="0.22">Rank in ordered dataset</text>
<line x1="187.3" y1="913" x2="197.9" y2="913" stroke="#38d838" stroke-width="1.4"/>
<text x="202" y="915.96" font-size="7.5" text-anchor="start" fill="#000" stroke="#000" stroke-width="0.22">Enrichment</text>
<text x="202" y="924.66" font-size="7.5" text-anchor="start" fill="#000" stroke="#000" stroke-width="0.22">profile</text>
<line x1="248.6" y1="913" x2="258.4" y2="913" stroke="#000" stroke-width="1.4"/>
<text x="261" y="915.96" font-size="7.5" text-anchor="start" fill="#000" stroke="#000" stroke-width="0.22">Hits</text>
<line x1="282.5" y1="913" x2="291" y2="913" stroke="#aaa" stroke-width="1.4"/>
<text x="295" y="915.96" font-size="7.5" text-anchor="start" fill="#000" stroke="#000" stroke-width="0.22">Ranking metric</text>
<text x="295" y="924.66" font-size="7.5" text-anchor="start" fill="#000" stroke="#000" stroke-width="0.22">scores</text>
<text x="363.5" y="915.96" font-size="7.5" text-anchor="start" fill="#000" stroke="#000" stroke-width="0.22">Rank in ordered dataset</text>
<text x="1" y="945.9" font-size="11" text-anchor="start" fill="#000" stroke="#000" stroke-width="0.22" font-weight="bold">K</text>
<text x="94" y="957.7" font-size="7.6" text-anchor="middle" fill="#000" stroke="#000" stroke-width="0.22">Proliferation</text>
<rect x="26.5" y="960.8" width="132.7" height="93.6" fill="#fff" stroke="#b0b0b0" stroke-width="0.9"/>
<line x1="24.3" y1="1054.4" x2="26.5" y2="1054.4" stroke="#333" stroke-width="0.8"/>
<text x="23.2" y="1057.03" font-size="7.4" text-anchor="end" fill="#000" stroke="#000" stroke-width="0.22">0</text>
<line x1="24.3" y1="1037.28" x2="26.5" y2="1037.28" stroke="#333" stroke-width="0.8"/>
<text x="23.2" y="1039.91" font-size="7.4" text-anchor="end" fill="#000" stroke="#000" stroke-width="0.22">20</text>
<line x1="24.3" y1="1020.16" x2="26.5" y2="1020.16" stroke="#333" stroke-width="0.8"/>
<text x="23.2" y="1022.79" font-size="7.4" text-anchor="end" fill="#000" stroke="#000" stroke-width="0.22">40</text>
<line x1="24.3" y1="1003.04" x2="26.5" y2="1003.04" stroke="#333" stroke-width="0.8"/>
<text x="23.2" y="1005.67" font-size="7.4" text-anchor="end" fill="#000" stroke="#000" stroke-width="0.22">60</text>
<line x1="24.3" y1="985.92" x2="26.5" y2="985.92" stroke="#333" stroke-width="0.8"/>
<text x="23.2" y="988.55" font-size="7.4" text-anchor="end" fill="#000" stroke="#000" stroke-width="0.22">80</text>
<line x1="24.3" y1="968.8" x2="26.5" y2="968.8" stroke="#333" stroke-width="0.8"/>
<text x="23.2" y="971.43" font-size="7.4" text-anchor="end" fill="#000" stroke="#000" stroke-width="0.22">100</text>
<text x="4.5" y="1010.63" font-size="7.4" text-anchor="middle" fill="#000" stroke="#000" stroke-width="0.22" transform="rotate(-90 4.5 1008)">Phase object confluence (%)</text>
<line x1="27" y1="1047.98" x2="27" y2="1048.84" stroke="#a8d4f4" stroke-width="0.6"/>
<line x1="26.2" y1="1047.98" x2="27.8" y2="1047.98" stroke="#a8d4f4" stroke-width="0.5"/>
<line x1="30.29" y1="1046.95" x2="30.29" y2="1048.39" stroke="#a8d4f4" stroke-width="0.6"/>
<line x1="29.49" y1="1046.95" x2="31.09" y2="1046.95" stroke="#a8d4f4" stroke-width="0.5"/>
<line x1="33.58" y1="1045.95" x2="33.58" y2="1047.97" stroke="#a8d4f4" stroke-width="0.6"/>
<line x1="32.78" y1="1045.95" x2="34.38" y2="1045.95" stroke="#a8d4f4" stroke-width="0.5"/>
<line x1="36.86" y1="1044.96" x2="36.86" y2="1047.56" stroke="#a8d4f4" stroke-width="0.6"/>
<line x1="36.06" y1="1044.96" x2="37.66" y2="1044.96" stroke="#a8d4f4" stroke-width="0.5"/>
<line x1="40.15" y1="1043.96" x2="40.15" y2="1047.14" stroke="#a8d4f4" stroke-width="0.6"/>
<line x1="39.35" y1="1043.96" x2="40.95" y2="1043.96" stroke="#a8d4f4" stroke-width="0.5"/>
<line x1="43.44" y1="1042.93" x2="43.44" y2="1046.7" stroke="#a8d4f4" stroke-width="0.6"/>
<line x1="42.64" y1="1042.93" x2="44.24" y2="1042.93" stroke="#a8d4f4" stroke-width="0.5"/>
<line x1="46.72" y1="1041.86" x2="46.72" y2="1046.21" stroke="#a8d4f4" stroke-width="0.6"/>
<line x1="45.92" y1="1041.86" x2="47.52" y2="1041.86" stroke="#a8d4f4" stroke-width="0.5"/>
<line x1="50.01" y1="1040.73" x2="50.01" y2="1045.66" stroke="#a8d4f4" stroke-width="0.6"/>
<line x1="49.21" y1="1040.73" x2="50.81" y2="1040.73" stroke="#a8d4f4" stroke-width="0.5"/>
<line x1="53.3" y1="1039.54" x2="53.3" y2="1045.05" stroke="#a8d4f4" stroke-width="0.6"/>
<line x1="52.5" y1="1039.54" x2="54.1" y2="1039.54" stroke="#a8d4f4" stroke-width="0.5"/>
<line x1="56.59" y1="1038.29" x2="56.59" y2="1044.39" stroke="#a8d4f4" stroke-width="0.6"/>
<line x1="55.79" y1="1038.29" x2="57.39" y2="1038.29" stroke="#a8d4f4" stroke-width="0.5"/>
<line x1="59.88" y1="1037.01" x2="59.88" y2="1043.69" stroke="#a8d4f4" stroke-width="0.6"/>
<line x1="59.08" y1="1037.01" x2="60.67" y2="1037.01" stroke="#a8d4f4" stroke-width="0.5"/>
<line x1="63.16" y1="1035.69" x2="63.16" y2="1042.95" stroke="#a8d4f4" stroke-width="0.6"/>
<line x1="62.36" y1="1035.69" x2="63.96" y2="1035.69" stroke="#a8d4f4" stroke-width="0.5"/>
<line x1="66.45" y1="1034.34" x2="66.45" y2="1042.18" stroke="#a8d4f4" stroke-width="0.6"/>
<line x1="65.65" y1="1034.34" x2="67.25" y2="1034.34" stroke="#a8d4f4" stroke-width="0.5"/>
<line x1="69.74" y1="1032.95" x2="69.74" y2="1041.37" stroke="#a8d4f4" stroke-width="0.6"/>
<line x1="68.94" y1="1032.95" x2="70.54" y2="1032.95" stroke="#a8d4f4" stroke-width="0.5"/>
<line x1="73.03" y1="1031.53" x2="73.03" y2="1040.54" stroke="#a8d4f4" stroke-width="0.6"/>
<line x1="72.23" y1="1031.53" x2="73.83" y2="1031.53" stroke="#a8d4f4" stroke-width="0.5"/>
<line x1="76.31" y1="1030.08" x2="76.31" y2="1039.66" stroke="#a8d4f4" stroke-width="0.6"/>
<line x1="75.51" y1="1030.08" x2="77.11" y2="1030.08" stroke="#a8d4f4" stroke-width="0.5"/>
<line x1="79.6" y1="1028.6" x2="79.6" y2="1038.77" stroke="#a8d4f4" stroke-width="0.6"/>
<line x1="78.8" y1="1028.6" x2="80.4" y2="1028.6" stroke="#a8d4f4" stroke-width="0.5"/>
<line x1="82.89" y1="1027.12" x2="82.89" y2="1037.87" stroke="#a8d4f4" stroke-width="0.6"/>
<line x1="82.09" y1="1027.12" x2="83.69" y2="1027.12" stroke="#a8d4f4" stroke-width="0.5"/>
<line x1="86.18" y1="1025.65" x2="86.18" y2="1036.98" stroke="#a8d4f4" stroke-width="0.6"/>
<line x1="85.38" y1="1025.65" x2="86.98" y2="1025.65" stroke="#a8d4f4" stroke-width="0.5"/>
<line x1="89.46" y1="1024.15" x2="89.46" y2="1036.07" stroke="#a8d4f4" stroke-width="0.6"/>
<line x1="88.66" y1="1024.15" x2="90.26" y2="1024.15" stroke="#a8d4f4" stroke-width="0.5"/>
<line x1="92.75" y1="1022.61" x2="92.75" y2="1035.11" stroke="#a8d4f4" stroke-width="0.6"/>
<line x1="91.95" y1="1022.61" x2="93.55" y2="1022.61" stroke="#a8d4f4" stroke-width="0.5"/>
<line x1="96.04" y1="1021.01" x2="96.04" y2="1034.09" stroke="#a8d4f4" stroke-width="0.6"/>
<line x1="95.24" y1="1021.01" x2="96.84" y2="1021.01" stroke="#a8d4f4" stroke-width="0.5"/>
<line x1="99.33" y1="1019.3" x2="99.33" y2="1032.97" stroke="#a8d4f4" stroke-width="0.6"/>
<line x1="98.53" y1="1019.3" x2="100.12" y2="1019.3" stroke="#a8d4f4" stroke-width="0.5"/>
<line x1="102.61" y1="1017.48" x2="102.61" y2="1031.73" stroke="#a8d4f4" stroke-width="0.6"/>
<line x1="101.81" y1="1017.48" x2="103.41" y2="1017.48" stroke="#a8d4f4" stroke-width="0.5"/>
<line x1="105.9" y1="1015.52" x2="105.9" y2="1030.35" stroke="#a8d4f4" stroke-width="0.6"/>
<line x1="105.1" y1="1015.52" x2="106.7" y2="1015.52" stroke="#a8d4f4" stroke-width="0.5"/>
<line x1="109.19" y1="1013.42" x2="109.19" y2="1028.82" stroke="#a8d4f4" stroke-width="0.6"/>
<line x1="108.39" y1="1013.42" x2="109.99" y2="1013.42" stroke="#a8d4f4" stroke-width="0.5"/>
<line x1="112.48" y1="1011.66" x2="112.48" y2="1027.07" stroke="#a8d4f4" stroke-width="0.6"/>
<line x1="111.68" y1="1011.66" x2="113.28" y2="1011.66" stroke="#a8d4f4" stroke-width="0.5"/>
<line x1="115.76" y1="1009.79" x2="115.76" y2="1025.2" stroke="#a8d4f4" stroke-width="0.6"/>
<line x1="114.96" y1="1009.79" x2="116.56" y2="1009.79" stroke="#a8d4f4" stroke-width="0.5"/>
<line x1="119.05" y1="1007.82" x2="119.05" y2="1023.23" stroke="#a8d4f4" stroke-width="0.6"/>
<line x1="118.25" y1="1007.82" x2="119.85" y2="1007.82" stroke="#a8d4f4" stroke-width="0.5"/>
<line x1="122.34" y1="1005.78" x2="122.34" y2="1021.19" stroke="#a8d4f4" stroke-width="0.6"/>
<line x1="121.54" y1="1005.78" x2="123.14" y2="1005.78" stroke="#a8d4f4" stroke-width="0.5"/>
<line x1="125.62" y1="1003.68" x2="125.62" y2="1019.09" stroke="#a8d4f4" stroke-width="0.6"/>
<line x1="124.83" y1="1003.68" x2="126.42" y2="1003.68" stroke="#a8d4f4" stroke-width="0.5"/>
<line x1="128.91" y1="1001.54" x2="128.91" y2="1016.95" stroke="#a8d4f4" stroke-width="0.6"/>
<line x1="128.11" y1="1001.54" x2="129.71" y2="1001.54" stroke="#a8d4f4" stroke-width="0.5"/>
<line x1="132.2" y1="999.36" x2="132.2" y2="1014.77" stroke="#a8d4f4" stroke-width="0.6"/>
<line x1="131.4" y1="999.36" x2="133" y2="999.36" stroke="#a8d4f4" stroke-width="0.5"/>
<line x1="135.49" y1="997.14" x2="135.49" y2="1012.55" stroke="#a8d4f4" stroke-width="0.6"/>
<line x1="134.69" y1="997.14" x2="136.29" y2="997.14" stroke="#a8d4f4" stroke-width="0.5"/>
<line x1="138.77" y1="994.82" x2="138.77" y2="1010.23" stroke="#a8d4f4" stroke-width="0.6"/>
<line x1="137.97" y1="994.82" x2="139.57" y2="994.82" stroke="#a8d4f4" stroke-width="0.5"/>
<line x1="142.06" y1="992.43" x2="142.06" y2="1007.84" stroke="#a8d4f4" stroke-width="0.6"/>
<line x1="141.26" y1="992.43" x2="142.86" y2="992.43" stroke="#a8d4f4" stroke-width="0.5"/>
<line x1="145.35" y1="989.98" x2="145.35" y2="1005.39" stroke="#a8d4f4" stroke-width="0.6"/>
<line x1="144.55" y1="989.98" x2="146.15" y2="989.98" stroke="#a8d4f4" stroke-width="0.5"/>
<line x1="148.64" y1="987.5" x2="148.64" y2="1002.91" stroke="#a8d4f4" stroke-width="0.6"/>
<line x1="147.84" y1="987.5" x2="149.44" y2="987.5" stroke="#a8d4f4" stroke-width="0.5"/>
<line x1="151.93" y1="985.01" x2="151.93" y2="1000.42" stroke="#a8d4f4" stroke-width="0.6"/>
<line x1="151.12" y1="985.01" x2="152.73" y2="985.01" stroke="#a8d4f4" stroke-width="0.5"/>
<line x1="155.21" y1="982.54" x2="155.21" y2="997.95" stroke="#a8d4f4" stroke-width="0.6"/>
<line x1="154.41" y1="982.54" x2="156.01" y2="982.54" stroke="#a8d4f4" stroke-width="0.5"/>
<line x1="158.5" y1="980.1" x2="158.5" y2="995.51" stroke="#a8d4f4" stroke-width="0.6"/>
<line x1="157.7" y1="980.1" x2="159.3" y2="980.1" stroke="#a8d4f4" stroke-width="0.5"/>
<line x1="27" y1="1047.98" x2="27" y2="1048.84" stroke="#507a70" stroke-width="0.6"/>
<line x1="26.2" y1="1047.98" x2="27.8" y2="1047.98" stroke="#507a70" stroke-width="0.5"/>
<line x1="30.29" y1="1047.45" x2="30.29" y2="1048.48" stroke="#507a70" stroke-width="0.6"/>
<line x1="29.49" y1="1047.45" x2="31.09" y2="1047.45" stroke="#507a70" stroke-width="0.5"/>
<line x1="33.58" y1="1046.94" x2="33.58" y2="1048.14" stroke="#507a70" stroke-width="0.6"/>
<line x1="32.78" y1="1046.94" x2="34.38" y2="1046.94" stroke="#507a70" stroke-width="0.5"/>
<line x1="36.86" y1="1046.44" x2="36.86" y2="1047.81" stroke="#507a70" stroke-width="0.6"/>
<line x1="36.06" y1="1046.44" x2="37.66" y2="1046.44" stroke="#507a70" stroke-width="0.5"/>
<line x1="40.15" y1="1045.93" x2="40.15" y2="1047.47" stroke="#507a70" stroke-width="0.6"/>
<line x1="39.35" y1="1045.93" x2="40.95" y2="1045.93" stroke="#507a70" stroke-width="0.5"/>
<line x1="43.44" y1="1045.4" x2="43.44" y2="1047.12" stroke="#507a70" stroke-width="0.6"/>
<line x1="42.64" y1="1045.4" x2="44.24" y2="1045.4" stroke="#507a70" stroke-width="0.5"/>
<line x1="46.72" y1="1044.85" x2="46.72" y2="1046.73" stroke="#507a70" stroke-width="0.6"/>
<line x1="45.92" y1="1044.85" x2="47.52" y2="1044.85" stroke="#507a70" stroke-width="0.5"/>
<line x1="50.01" y1="1044.26" x2="50.01" y2="1046.31" stroke="#507a70" stroke-width="0.6"/>
<line x1="49.21" y1="1044.26" x2="50.81" y2="1044.26" stroke="#507a70" stroke-width="0.5"/>
<line x1="53.3" y1="1043.62" x2="53.3" y2="1045.84" stroke="#507a70" stroke-width="0.6"/>
<line x1="52.5" y1="1043.62" x2="54.1" y2="1043.62" stroke="#507a70" stroke-width="0.5"/>
<line x1="56.59" y1="1042.95" x2="56.59" y2="1045.34" stroke="#507a70" stroke-width="0.6"/>
<line x1="55.79" y1="1042.95" x2="57.39" y2="1042.95" stroke="#507a70" stroke-width="0.5"/>
<line x1="59.88" y1="1042.25" x2="59.88" y2="1044.82" stroke="#507a70" stroke-width="0.6"/>
<line x1="59.08" y1="1042.25" x2="60.67" y2="1042.25" stroke="#507a70" stroke-width="0.5"/>
<line x1="63.16" y1="1041.53" x2="63.16" y2="1044.27" stroke="#507a70" stroke-width="0.6"/>
<line x1="62.36" y1="1041.53" x2="63.96" y2="1041.53" stroke="#507a70" stroke-width="0.5"/>
<line x1="66.45" y1="1040.78" x2="66.45" y2="1043.69" stroke="#507a70" stroke-width="0.6"/>
<line x1="65.65" y1="1040.78" x2="67.25" y2="1040.78" stroke="#507a70" stroke-width="0.5"/>
<line x1="69.74" y1="1040.02" x2="69.74" y2="1043.1" stroke="#507a70" stroke-width="0.6"/>
<line x1="68.94" y1="1040.02" x2="70.54" y2="1040.02" stroke="#507a70" stroke-width="0.5"/>
<line x1="73.03" y1="1039.23" x2="73.03" y2="1042.49" stroke="#507a70" stroke-width="0.6"/>
<line x1="72.23" y1="1039.23" x2="73.83" y2="1039.23" stroke="#507a70" stroke-width="0.5"/>
<line x1="76.31" y1="1038.43" x2="76.31" y2="1041.86" stroke="#507a70" stroke-width="0.6"/>
<line x1="75.51" y1="1038.43" x2="77.11" y2="1038.43" stroke="#507a70" stroke-width="0.5"/>
<line x1="79.6" y1="1037.62" x2="79.6" y2="1041.22" stroke="#507a70" stroke-width="0.6"/>
<line x1="78.8" y1="1037.62" x2="80.4" y2="1037.62" stroke="#507a70" stroke-width="0.5"/>
<line x1="82.89" y1="1036.82" x2="82.89" y2="1040.59" stroke="#507a70" stroke-width="0.6"/>
<line x1="82.09" y1="1036.82" x2="83.69" y2="1036.82" stroke="#507a70" stroke-width="0.5"/>
<line x1="86.18" y1="1036.04" x2="86.18" y2="1039.98" stroke="#507a70" stroke-width="0.6"/>
<line x1="85.38" y1="1036.04" x2="86.98" y2="1036.04" stroke="#507a70" stroke-width="0.5"/>
<line x1="89.46" y1="1035.25" x2="89.46" y2="1039.36" stroke="#507a70" stroke-width="0.6"/>
<line x1="88.66" y1="1035.25" x2="90.26" y2="1035.25" stroke="#507a70" stroke-width="0.5"/>
<line x1="92.75" y1="1034.43" x2="92.75" y2="1038.71" stroke="#507a70" stroke-width="0.6"/>
<line x1="91.95" y1="1034.43" x2="93.55" y2="1034.43" stroke="#507a70" stroke-width="0.5"/>
<line x1="96.04" y1="1033.55" x2="96.04" y2="1038" stroke="#507a70" stroke-width="0.6"/>
<line x1="95.24" y1="1033.55" x2="96.84" y2="1033.55" stroke="#507a70" stroke-width="0.5"/>
<line x1="99.33" y1="1032.6" x2="99.33" y2="1037.22" stroke="#507a70" stroke-width="0.6"/>
<line x1="98.53" y1="1032.6" x2="100.12" y2="1032.6" stroke="#507a70" stroke-width="0.5"/>
<line x1="102.61" y1="1031.55" x2="102.61" y2="1036.35" stroke="#507a70" stroke-width="0.6"/>
<line x1="101.81" y1="1031.55" x2="103.41" y2="1031.55" stroke="#507a70" stroke-width="0.5"/>
<line x1="105.9" y1="1030.39" x2="105.9" y2="1035.35" stroke="#507a70" stroke-width="0.6"/>
<line x1="105.1" y1="1030.39" x2="106.7" y2="1030.39" stroke="#507a70" stroke-width="0.5"/>
<line x1="109.19" y1="1029.13" x2="109.19" y2="1034.27" stroke="#507a70" stroke-width="0.6"/>
<line x1="108.39" y1="1029.13" x2="109.99" y2="1029.13" stroke="#507a70" stroke-width="0.5"/>
<line x1="112.48" y1="1027.91" x2="112.48" y2="1033.05" stroke="#507a70" stroke-width="0.6"/>
<line x1="111.68" y1="1027.91" x2="113.28" y2="1027.91" stroke="#507a70" stroke-width="0.5"/>
<line x1="115.76" y1="1026.62" x2="115.76" y2="1031.76" stroke="#507a70" stroke-width="0.6"/>
<line x1="114.96" y1="1026.62" x2="116.56" y2="1026.62" stroke="#507a70" stroke-width="0.5"/>
<line x1="119.05" y1="1025.24" x2="119.05" y2="1030.38" stroke="#507a70" stroke-width="0.6"/>
<line x1="118.25" y1="1025.24" x2="119.85" y2="1025.24" stroke="#507a70" stroke-width="0.5"/>
<line x1="122.34" y1="1023.76" x2="122.34" y2="1028.9" stroke="#507a70" stroke-width="0.6"/>
<line x1="121.54" y1="1023.76" x2="123.14" y2="1023.76" stroke="#507a70" stroke-width="0.5"/>
<line x1="125.62" y1="1022.15" x2="125.62" y2="1027.29" stroke="#507a70" stroke-width="0.6"/>
<line x1="124.83" y1="1022.15" x2="126.42" y2="1022.15" stroke="#507a70" stroke-width="0.5"/>
<line x1="128.91" y1="1020.41" x2="128.91" y2="1025.54" stroke="#507a70" stroke-width="0.6"/>
<line x1="128.11" y1="1020.41" x2="129.71" y2="1020.41" stroke="#507a70" stroke-width="0.5"/>
<line x1="132.2" y1="1018.5" x2="132.2" y2="1023.64" stroke="#507a70" stroke-width="0.6"/>
<line x1="131.4" y1="1018.5" x2="133" y2="1018.5" stroke="#507a70" stroke-width="0.5"/>
<line x1="135.49" y1="1016.39" x2="135.49" y2="1021.52" stroke="#507a70" stroke-width="0.6"/>
<line x1="134.69" y1="1016.39" x2="136.29" y2="1016.39" stroke="#507a70" stroke-width="0.5"/>
<line x1="138.77" y1="1014.04" x2="138.77" y2="1019.18" stroke="#507a70" stroke-width="0.6"/>
<line x1="137.97" y1="1014.04" x2="139.57" y2="1014.04" stroke="#507a70" stroke-width="0.5"/>
<line x1="142.06" y1="1011.51" x2="142.06" y2="1016.65" stroke="#507a70" stroke-width="0.6"/>
<line x1="141.26" y1="1011.51" x2="142.86" y2="1011.51" stroke="#507a70" stroke-width="0.5"/>
<line x1="145.35" y1="1008.85" x2="145.35" y2="1013.99" stroke="#507a70" stroke-width="0.6"/>
<line x1="144.55" y1="1008.85" x2="146.15" y2="1008.85" stroke="#507a70" stroke-width="0.5"/>
<line x1="148.64" y1="1006.12" x2="148.64" y2="1011.25" stroke="#507a70" stroke-width="0.6"/>
<line x1="147.84" y1="1006.12" x2="149.44" y2="1006.12" stroke="#507a70" stroke-width="0.5"/>
<line x1="151.93" y1="1003.36" x2="151.93" y2="1008.49" stroke="#507a70" stroke-width="0.6"/>
<line x1="151.12" y1="1003.36" x2="152.73" y2="1003.36" stroke="#507a70" stroke-width="0.5"/>
<line x1="155.21" y1="1000.63" x2="155.21" y2="1005.77" stroke="#507a70" stroke-width="0.6"/>
<line x1="154.41" y1="1000.63" x2="156.01" y2="1000.63" stroke="#507a70" stroke-width="0.5"/>
<line x1="158.5" y1="997.99" x2="158.5" y2="1003.13" stroke="#507a70" stroke-width="0.6"/>
<line x1="157.7" y1="997.99" x2="159.3" y2="997.99" stroke="#507a70" stroke-width="0.5"/>
<line x1="27" y1="1047.47" x2="27" y2="1048.32" stroke="#e8a0f0" stroke-width="0.6"/>
<line x1="26.2" y1="1047.47" x2="27.8" y2="1047.47" stroke="#e8a0f0" stroke-width="0.5"/>
<line x1="30.29" y1="1046.71" x2="30.29" y2="1047.9" stroke="#e8a0f0" stroke-width="0.6"/>
<line x1="29.49" y1="1046.71" x2="31.09" y2="1046.71" stroke="#e8a0f0" stroke-width="0.5"/>
<line x1="33.58" y1="1045.99" x2="33.58" y2="1047.53" stroke="#e8a0f0" stroke-width="0.6"/>
<line x1="32.78" y1="1045.99" x2="34.38" y2="1045.99" stroke="#e8a0f0" stroke-width="0.5"/>
<line x1="36.86" y1="1045.28" x2="36.86" y2="1047.17" stroke="#e8a0f0" stroke-width="0.6"/>
<line x1="36.06" y1="1045.28" x2="37.66" y2="1045.28" stroke="#e8a0f0" stroke-width="0.5"/>
<line x1="40.15" y1="1044.56" x2="40.15" y2="1046.79" stroke="#e8a0f0" stroke-width="0.6"/>
<line x1="39.35" y1="1044.56" x2="40.95" y2="1044.56" stroke="#e8a0f0" stroke-width="0.5"/>
<line x1="43.44" y1="1043.8" x2="43.44" y2="1046.37" stroke="#e8a0f0" stroke-width="0.6"/>
<line x1="42.64" y1="1043.8" x2="44.24" y2="1043.8" stroke="#e8a0f0" stroke-width="0.5"/>
<line x1="46.72" y1="1042.97" x2="46.72" y2="1045.88" stroke="#e8a0f0" stroke-width="0.6"/>
<line x1="45.92" y1="1042.97" x2="47.52" y2="1042.97" stroke="#e8a0f0" stroke-width="0.5"/>
<line x1="50.01" y1="1042.03" x2="50.01" y2="1045.29" stroke="#e8a0f0" stroke-width="0.6"/>
<line x1="49.21" y1="1042.03" x2="50.81" y2="1042.03" stroke="#e8a0f0" stroke-width="0.5"/>
<line x1="53.3" y1="1040.99" x2="53.3" y2="1044.58" stroke="#e8a0f0" stroke-width="0.6"/>
<line x1="52.5" y1="1040.99" x2="54.1" y2="1040.99" stroke="#e8a0f0" stroke-width="0.5"/>
<line x1="56.59" y1="1039.87" x2="56.59" y2="1043.81" stroke="#e8a0f0" stroke-width="0.6"/>
<line x1="55.79" y1="1039.87" x2="57.39" y2="1039.87" stroke="#e8a0f0" stroke-width="0.5"/>
<line x1="59.88" y1="1038.7" x2="59.88" y2="1042.98" stroke="#e8a0f0" stroke-width="0.6"/>
<line x1="59.08" y1="1038.7" x2="60.67" y2="1038.7" stroke="#e8a0f0" stroke-width="0.5"/>
<line x1="63.16" y1="1037.46" x2="63.16" y2="1042.08" stroke="#e8a0f0" stroke-width="0.6"/>
<line x1="62.36" y1="1037.46" x2="63.96" y2="1037.46" stroke="#e8a0f0" stroke-width="0.5"/>
<line x1="66.45" y1="1036.16" x2="66.45" y2="1041.12" stroke="#e8a0f0" stroke-width="0.6"/>
<line x1="65.65" y1="1036.16" x2="67.25" y2="1036.16" stroke="#e8a0f0" stroke-width="0.5"/>
<line x1="69.74" y1="1034.79" x2="69.74" y2="1040.1" stroke="#e8a0f0" stroke-width="0.6"/>
<line x1="68.94" y1="1034.79" x2="70.54" y2="1034.79" stroke="#e8a0f0" stroke-width="0.5"/>
<line x1="73.03" y1="1033.35" x2="73.03" y2="1039" stroke="#e8a0f0" stroke-width="0.6"/>
<line x1="72.23" y1="1033.35" x2="73.83" y2="1033.35" stroke="#e8a0f0" stroke-width="0.5"/>
<line x1="76.31" y1="1031.83" x2="76.31" y2="1037.83" stroke="#e8a0f0" stroke-width="0.6"/>
<line x1="75.51" y1="1031.83" x2="77.11" y2="1031.83" stroke="#e8a0f0" stroke-width="0.5"/>
<line x1="79.6" y1="1030.23" x2="79.6" y2="1036.56" stroke="#e8a0f0" stroke-width="0.6"/>
<line x1="78.8" y1="1030.23" x2="80.4" y2="1030.23" stroke="#e8a0f0" stroke-width="0.5"/>
<line x1="82.89" y1="1028.36" x2="82.89" y2="1035.03" stroke="#e8a0f0" stroke-width="0.6"/>
<line x1="82.09" y1="1028.36" x2="83.69" y2="1028.36" stroke="#e8a0f0" stroke-width="0.5"/>
<line x1="86.18" y1="1026.19" x2="86.18" y2="1033.21" stroke="#e8a0f0" stroke-width="0.6"/>
<line x1="85.38" y1="1026.19" x2="86.98" y2="1026.19" stroke="#e8a0f0" stroke-width="0.5"/>
<line x1="89.46" y1="1023.79" x2="89.46" y2="1031.15" stroke="#e8a0f0" stroke-width="0.6"/>
<line x1="88.66" y1="1023.79" x2="90.26" y2="1023.79" stroke="#e8a0f0" stroke-width="0.5"/>
<line x1="92.75" y1="1021.21" x2="92.75" y2="1028.92" stroke="#e8a0f0" stroke-width="0.6"/>
<line x1="91.95" y1="1021.21" x2="93.55" y2="1021.21" stroke="#e8a0f0" stroke-width="0.5"/>
<line x1="96.04" y1="1018.4" x2="96.04" y2="1026.45" stroke="#e8a0f0" stroke-width="0.6"/>
<line x1="95.24" y1="1018.4" x2="96.84" y2="1018.4" stroke="#e8a0f0" stroke-width="0.5"/>
<line x1="99.33" y1="1015.36" x2="99.33" y2="1023.75" stroke="#e8a0f0" stroke-width="0.6"/>
<line x1="98.53" y1="1015.36" x2="100.12" y2="1015.36" stroke="#e8a0f0" stroke-width="0.5"/>
<line x1="102.61" y1="1012.19" x2="102.61" y2="1020.92" stroke="#e8a0f0" stroke-width="0.6"/>
<line x1="101.81" y1="1012.19" x2="103.41" y2="1012.19" stroke="#e8a0f0" stroke-width="0.5"/>
<line x1="105.9" y1="1008.97" x2="105.9" y2="1018.05" stroke="#e8a0f0" stroke-width="0.6"/>
<line x1="105.1" y1="1008.97" x2="106.7" y2="1008.97" stroke="#e8a0f0" stroke-width="0.5"/>
<line x1="109.19" y1="1005.66" x2="109.19" y2="1015.08" stroke="#e8a0f0" stroke-width="0.6"/>
<line x1="108.39" y1="1005.66" x2="109.99" y2="1005.66" stroke="#e8a0f0" stroke-width="0.5"/>
<line x1="112.48" y1="1002.3" x2="112.48" y2="1011.72" stroke="#e8a0f0" stroke-width="0.6"/>
<line x1="111.68" y1="1002.3" x2="113.28" y2="1002.3" stroke="#e8a0f0" stroke-width="0.5"/>
<line x1="115.76" y1="998.95" x2="115.76" y2="1008.37" stroke="#e8a0f0" stroke-width="0.6"/>
<line x1="114.96" y1="998.95" x2="116.56" y2="998.95" stroke="#e8a0f0" stroke-width="0.5"/>
<line x1="119.05" y1="995.72" x2="119.05" y2="1005.14" stroke="#e8a0f0" stroke-width="0.6"/>
<line x1="118.25" y1="995.72" x2="119.85" y2="995.72" stroke="#e8a0f0" stroke-width="0.5"/>
<line x1="122.34" y1="992.66" x2="122.34" y2="1002.08" stroke="#e8a0f0" stroke-width="0.6"/>
<line x1="121.54" y1="992.66" x2="123.14" y2="992.66" stroke="#e8a0f0" stroke-width="0.5"/>
<line x1="125.62" y1="989.7" x2="125.62" y2="999.12" stroke="#e8a0f0" stroke-width="0.6"/>
<line x1="124.83" y1="989.7" x2="126.42" y2="989.7" stroke="#e8a0f0" stroke-width="0.5"/>
<line x1="128.91" y1="986.8" x2="128.91" y2="996.21" stroke="#e8a0f0" stroke-width="0.6"/>
<line x1="128.11" y1="986.8" x2="129.71" y2="986.8" stroke="#e8a0f0" stroke-width="0.5"/>
<line x1="132.2" y1="983.9" x2="132.2" y2="993.32" stroke="#e8a0f0" stroke-width="0.6"/>
<line x1="131.4" y1="983.9" x2="133" y2="983.9" stroke="#e8a0f0" stroke-width="0.5"/>
<line x1="135.49" y1="980.9" x2="135.49" y2="990.32" stroke="#e8a0f0" stroke-width="0.6"/>
<line x1="134.69" y1="980.9" x2="136.29" y2="980.9" stroke="#e8a0f0" stroke-width="0.5"/>
<line x1="138.77" y1="977.85" x2="138.77" y2="987.26" stroke="#e8a0f0" stroke-width="0.6"/>
<line x1="137.97" y1="977.85" x2="139.57" y2="977.85" stroke="#e8a0f0" stroke-width="0.5"/>
<line x1="142.06" y1="975.07" x2="142.06" y2="984.48" stroke="#e8a0f0" stroke-width="0.6"/>
<line x1="141.26" y1="975.07" x2="142.86" y2="975.07" stroke="#e8a0f0" stroke-width="0.5"/>
<line x1="145.35" y1="972.95" x2="145.35" y2="982.36" stroke="#e8a0f0" stroke-width="0.6"/>
<line x1="144.55" y1="972.95" x2="146.15" y2="972.95" stroke="#e8a0f0" stroke-width="0.5"/>
<line x1="148.64" y1="971.57" x2="148.64" y2="980.99" stroke="#e8a0f0" stroke-width="0.6"/>
<line x1="147.84" y1="971.57" x2="149.44" y2="971.57" stroke="#e8a0f0" stroke-width="0.5"/>
<line x1="151.93" y1="970.51" x2="151.93" y2="979.93" stroke="#e8a0f0" stroke-width="0.6"/>
<line x1="151.12" y1="970.51" x2="152.73" y2="970.51" stroke="#e8a0f0" stroke-width="0.5"/>
<line x1="155.21" y1="969.73" x2="155.21" y2="979.15" stroke="#e8a0f0" stroke-width="0.6"/>
<line x1="154.41" y1="969.73" x2="156.01" y2="969.73" stroke="#e8a0f0" stroke-width="0.5"/>
<line x1="158.5" y1="969.14" x2="158.5" y2="978.56" stroke="#e8a0f0" stroke-width="0.6"/>
<line x1="157.7" y1="969.14" x2="159.3" y2="969.14" stroke="#e8a0f0" stroke-width="0.5"/>
<line x1="27" y1="1047.12" x2="27" y2="1047.98" stroke="#8a50a0" stroke-width="0.6"/>
<line x1="26.2" y1="1047.12" x2="27.8" y2="1047.12" stroke="#8a50a0" stroke-width="0.5"/>
<line x1="30.29" y1="1046.18" x2="30.29" y2="1047.21" stroke="#8a50a0" stroke-width="0.6"/>
<line x1="29.49" y1="1046.18" x2="31.09" y2="1046.18" stroke="#8a50a0" stroke-width="0.5"/>
<line x1="33.58" y1="1045.28" x2="33.58" y2="1046.48" stroke="#8a50a0" stroke-width="0.6"/>
<line x1="32.78" y1="1045.28" x2="34.38" y2="1045.28" stroke="#8a50a0" stroke-width="0.5"/>
<line x1="36.86" y1="1044.4" x2="36.86" y2="1045.77" stroke="#8a50a0" stroke-width="0.6"/>
<line x1="36.06" y1="1044.4" x2="37.66" y2="1044.4" stroke="#8a50a0" stroke-width="0.5"/>
<line x1="40.15" y1="1043.5" x2="40.15" y2="1045.04" stroke="#8a50a0" stroke-width="0.6"/>
<line x1="39.35" y1="1043.5" x2="40.95" y2="1043.5" stroke="#8a50a0" stroke-width="0.5"/>
<line x1="43.44" y1="1042.55" x2="43.44" y2="1044.26" stroke="#8a50a0" stroke-width="0.6"/>
<line x1="42.64" y1="1042.55" x2="44.24" y2="1042.55" stroke="#8a50a0" stroke-width="0.5"/>
<line x1="46.72" y1="1041.53" x2="46.72" y2="1043.41" stroke="#8a50a0" stroke-width="0.6"/>
<line x1="45.92" y1="1041.53" x2="47.52" y2="1041.53" stroke="#8a50a0" stroke-width="0.5"/>
<line x1="50.01" y1="1040.39" x2="50.01" y2="1042.45" stroke="#8a50a0" stroke-width="0.6"/>
<line x1="49.21" y1="1040.39" x2="50.81" y2="1040.39" stroke="#8a50a0" stroke-width="0.5"/>
<line x1="53.3" y1="1039.14" x2="53.3" y2="1041.37" stroke="#8a50a0" stroke-width="0.6"/>
<line x1="52.5" y1="1039.14" x2="54.1" y2="1039.14" stroke="#8a50a0" stroke-width="0.5"/>
<line x1="56.59" y1="1037.82" x2="56.59" y2="1040.21" stroke="#8a50a0" stroke-width="0.6"/>
<line x1="55.79" y1="1037.82" x2="57.39" y2="1037.82" stroke="#8a50a0" stroke-width="0.5"/>
<line x1="59.88" y1="1036.43" x2="59.88" y2="1039" stroke="#8a50a0" stroke-width="0.6"/>
<line x1="59.08" y1="1036.43" x2="60.67" y2="1036.43" stroke="#8a50a0" stroke-width="0.5"/>
<line x1="63.16" y1="1034.99" x2="63.16" y2="1037.73" stroke="#8a50a0" stroke-width="0.6"/>
<line x1="62.36" y1="1034.99" x2="63.96" y2="1034.99" stroke="#8a50a0" stroke-width="0.5"/>
<line x1="66.45" y1="1033.47" x2="66.45" y2="1036.38" stroke="#8a50a0" stroke-width="0.6"/>
<line x1="65.65" y1="1033.47" x2="67.25" y2="1033.47" stroke="#8a50a0" stroke-width="0.5"/>
<line x1="69.74" y1="1031.87" x2="69.74" y2="1034.95" stroke="#8a50a0" stroke-width="0.6"/>
<line x1="68.94" y1="1031.87" x2="70.54" y2="1031.87" stroke="#8a50a0" stroke-width="0.5"/>
<line x1="73.03" y1="1030.17" x2="73.03" y2="1033.42" stroke="#8a50a0" stroke-width="0.6"/>
<line x1="72.23" y1="1030.17" x2="73.83" y2="1030.17" stroke="#8a50a0" stroke-width="0.5"/>
<line x1="76.31" y1="1028.37" x2="76.31" y2="1031.8" stroke="#8a50a0" stroke-width="0.6"/>
<line x1="75.51" y1="1028.37" x2="77.11" y2="1028.37" stroke="#8a50a0" stroke-width="0.5"/>
<line x1="79.6" y1="1026.45" x2="79.6" y2="1030.04" stroke="#8a50a0" stroke-width="0.6"/>
<line x1="78.8" y1="1026.45" x2="80.4" y2="1026.45" stroke="#8a50a0" stroke-width="0.5"/>
<line x1="82.89" y1="1024.17" x2="82.89" y2="1027.94" stroke="#8a50a0" stroke-width="0.6"/>
<line x1="82.09" y1="1024.17" x2="83.69" y2="1024.17" stroke="#8a50a0" stroke-width="0.5"/>
<line x1="86.18" y1="1021.51" x2="86.18" y2="1025.45" stroke="#8a50a0" stroke-width="0.6"/>
<line x1="85.38" y1="1021.51" x2="86.98" y2="1021.51" stroke="#8a50a0" stroke-width="0.5"/>
<line x1="89.46" y1="1018.57" x2="89.46" y2="1022.67" stroke="#8a50a0" stroke-width="0.6"/>
<line x1="88.66" y1="1018.57" x2="90.26" y2="1018.57" stroke="#8a50a0" stroke-width="0.5"/>
<line x1="92.75" y1="1015.41" x2="92.75" y2="1019.69" stroke="#8a50a0" stroke-width="0.6"/>
<line x1="91.95" y1="1015.41" x2="93.55" y2="1015.41" stroke="#8a50a0" stroke-width="0.5"/>
<line x1="96.04" y1="1011.95" x2="96.04" y2="1016.4" stroke="#8a50a0" stroke-width="0.6"/>
<line x1="95.24" y1="1011.95" x2="96.84" y2="1011.95" stroke="#8a50a0" stroke-width="0.5"/>
<line x1="99.33" y1="1008.19" x2="99.33" y2="1012.82" stroke="#8a50a0" stroke-width="0.6"/>
<line x1="98.53" y1="1008.19" x2="100.12" y2="1008.19" stroke="#8a50a0" stroke-width="0.5"/>
<line x1="102.61" y1="1004.32" x2="102.61" y2="1009.11" stroke="#8a50a0" stroke-width="0.6"/>
<line x1="101.81" y1="1004.32" x2="103.41" y2="1004.32" stroke="#8a50a0" stroke-width="0.5"/>
<line x1="105.9" y1="1000.49" x2="105.9" y2="1005.46" stroke="#8a50a0" stroke-width="0.6"/>
<line x1="105.1" y1="1000.49" x2="106.7" y2="1000.49" stroke="#8a50a0" stroke-width="0.5"/>
<line x1="109.19" y1="996.63" x2="109.19" y2="1001.77" stroke="#8a50a0" stroke-width="0.6"/>
<line x1="108.39" y1="996.63" x2="109.99" y2="996.63" stroke="#8a50a0" stroke-width="0.5"/>
<line x1="112.48" y1="992.82" x2="112.48" y2="997.95" stroke="#8a50a0" stroke-width="0.6"/>
<line x1="111.68" y1="992.82" x2="113.28" y2="992.82" stroke="#8a50a0" stroke-width="0.5"/>
<line x1="115.76" y1="989.22" x2="115.76" y2="994.35" stroke="#8a50a0" stroke-width="0.6"/>
<line x1="114.96" y1="989.22" x2="116.56" y2="989.22" stroke="#8a50a0" stroke-width="0.5"/>
<line x1="119.05" y1="985.96" x2="119.05" y2="991.1" stroke="#8a50a0" stroke-width="0.6"/>
<line x1="118.25" y1="985.96" x2="119.85" y2="985.96" stroke="#8a50a0" stroke-width="0.5"/>
<line x1="122.34" y1="982.97" x2="122.34" y2="988.1" stroke="#8a50a0" stroke-width="0.6"/>
<line x1="121.54" y1="982.97" x2="123.14" y2="982.97" stroke="#8a50a0" stroke-width="0.5"/>
<line x1="125.62" y1="980.22" x2="125.62" y2="985.36" stroke="#8a50a0" stroke-width="0.6"/>
<line x1="124.83" y1="980.22" x2="126.42" y2="980.22" stroke="#8a50a0" stroke-width="0.5"/>
<line x1="128.91" y1="977.74" x2="128.91" y2="982.87" stroke="#8a50a0" stroke-width="0.6"/>
<line x1="128.11" y1="977.74" x2="129.71" y2="977.74" stroke="#8a50a0" stroke-width="0.5"/>
<line x1="132.2" y1="975.48" x2="132.2" y2="980.61" stroke="#8a50a0" stroke-width="0.6"/>
<line x1="131.4" y1="975.48" x2="133" y2="975.48" stroke="#8a50a0" stroke-width="0.5"/>
<line x1="135.49" y1="973.51" x2="135.49" y2="978.65" stroke="#8a50a0" stroke-width="0.6"/>
<line x1="134.69" y1="973.51" x2="136.29" y2="973.51" stroke="#8a50a0" stroke-width="0.5"/>
<line x1="138.77" y1="971.96" x2="138.77" y2="977.1" stroke="#8a50a0" stroke-width="0.6"/>
<line x1="137.97" y1="971.96" x2="139.57" y2="971.96" stroke="#8a50a0" stroke-width="0.5"/>
<line x1="142.06" y1="970.89" x2="142.06" y2="976.03" stroke="#8a50a0" stroke-width="0.6"/>
<line x1="141.26" y1="970.89" x2="142.86" y2="970.89" stroke="#8a50a0" stroke-width="0.5"/>
<line x1="145.35" y1="970.18" x2="145.35" y2="975.32" stroke="#8a50a0" stroke-width="0.6"/>
<line x1="144.55" y1="970.18" x2="146.15" y2="970.18" stroke="#8a50a0" stroke-width="0.5"/>
<line x1="148.64" y1="969.61" x2="148.64" y2="974.75" stroke="#8a50a0" stroke-width="0.6"/>
<line x1="147.84" y1="969.61" x2="149.44" y2="969.61" stroke="#8a50a0" stroke-width="0.5"/>
<line x1="151.93" y1="969.19" x2="151.93" y2="974.32" stroke="#8a50a0" stroke-width="0.6"/>
<line x1="151.12" y1="969.19" x2="152.73" y2="969.19" stroke="#8a50a0" stroke-width="0.5"/>
<line x1="155.21" y1="968.95" x2="155.21" y2="974.08" stroke="#8a50a0" stroke-width="0.6"/>
<line x1="154.41" y1="968.95" x2="156.01" y2="968.95" stroke="#8a50a0" stroke-width="0.5"/>
<line x1="158.5" y1="968.71" x2="158.5" y2="973.85" stroke="#8a50a0" stroke-width="0.6"/>
<line x1="157.7" y1="968.71" x2="159.3" y2="968.71" stroke="#8a50a0" stroke-width="0.5"/>
<path d="M27 1048.41 L29.19 1048.11 L31.38 1047.83 L33.58 1047.54 L35.77 1047.27 L37.96 1046.98 L40.15 1046.7 L42.34 1046.41 L44.53 1046.11 L46.72 1045.79 L48.92 1045.46 L51.11 1045.11 L53.3 1044.73 L55.49 1044.35 L57.68 1043.95 L59.88 1043.53 L62.07 1043.12 L64.26 1042.68 L66.45 1042.24 L68.64 1041.79 L70.83 1041.33 L73.03 1040.86 L75.22 1040.39 L77.41 1039.9 L79.6 1039.42 L81.79 1038.94 L83.98 1038.47 L86.18 1038.01 L88.37 1037.54 L90.56 1037.06 L92.75 1036.57 L94.94 1036.05 L97.13 1035.49 L99.33 1034.91 L101.52 1034.28 L103.71 1033.59 L105.9 1032.87 L108.09 1032.09 L110.28 1031.29 L112.48 1030.48 L114.67 1029.62 L116.86 1028.73 L119.05 1027.81 L121.24 1026.82 L123.43 1025.8 L125.62 1024.72 L127.82 1023.56 L130.01 1022.35 L132.2 1021.07 L134.39 1019.67 L136.58 1018.19 L138.77 1016.61 L140.97 1014.93 L143.16 1013.2 L145.35 1011.42 L147.54 1009.6 L149.73 1007.76 L151.93 1005.92 L154.12 1004.11 L156.31 1002.32 L158.5 1000.56" fill="none" stroke="#2e5a50" stroke-width="1.1"/>
<path d="M27 1048.41 L29.19 1048.04 L31.38 1047.69 L33.58 1047.34 L35.77 1047 L37.96 1046.65 L40.15 1046.3 L42.34 1045.94 L44.53 1045.56 L46.72 1045.16 L48.92 1044.74 L51.11 1044.28 L53.3 1043.8 L55.49 1043.3 L57.68 1042.77 L59.88 1042.23 L62.07 1041.68 L64.26 1041.11 L66.45 1040.52 L68.64 1039.92 L70.83 1039.3 L73.03 1038.67 L75.22 1038.03 L77.41 1037.36 L79.6 1036.7 L81.79 1036.03 L83.98 1035.37 L86.18 1034.7 L88.37 1034.03 L90.56 1033.34 L92.75 1032.63 L94.94 1031.88 L97.13 1031.1 L99.33 1030.28 L101.52 1029.39 L103.71 1028.45 L105.9 1027.46 L108.09 1026.37 L110.28 1025.24 L112.48 1024.07 L114.67 1022.82 L116.86 1021.55 L119.05 1020.24 L121.24 1018.88 L123.43 1017.5 L125.62 1016.09 L127.82 1014.67 L130.01 1013.23 L132.2 1011.78 L134.39 1010.3 L136.58 1008.79 L138.77 1007.23 L140.97 1005.64 L143.16 1004.03 L145.35 1002.39 L147.54 1000.74 L149.73 999.08 L151.93 997.42 L154.12 995.77 L156.31 994.14 L158.5 992.51" fill="none" stroke="#6aa8e0" stroke-width="1.1"/>
<path d="M27 1047.89 L29.19 1047.43 L31.38 1046.98 L33.58 1046.55 L35.77 1046.13 L37.96 1045.7 L40.15 1045.27 L42.34 1044.81 L44.53 1044.33 L46.72 1043.81 L48.92 1043.25 L51.11 1042.63 L53.3 1041.96 L55.49 1041.28 L57.68 1040.55 L59.88 1039.81 L62.07 1039.04 L64.26 1038.24 L66.45 1037.41 L68.64 1036.56 L70.83 1035.66 L73.03 1034.74 L75.22 1033.79 L77.41 1032.79 L79.6 1031.75 L81.79 1030.59 L83.98 1029.29 L86.18 1027.85 L88.37 1026.32 L90.56 1024.7 L92.75 1023.01 L94.94 1021.21 L97.13 1019.3 L99.33 1017.3 L101.52 1015.24 L103.71 1013.14 L105.9 1011.04 L108.09 1008.9 L110.28 1006.69 L112.48 1004.44 L114.67 1002.2 L116.86 1000 L119.05 997.86 L121.24 995.81 L123.43 993.81 L125.62 991.84 L127.82 989.9 L130.01 987.97 L132.2 986.04 L134.39 984.06 L136.58 982.01 L138.77 979.99 L140.97 978.08 L143.16 976.41 L145.35 975.09 L147.54 974.11 L149.73 973.35 L151.93 972.65 L154.12 972.08 L156.31 971.68 L158.5 971.28" fill="none" stroke="#d63cf0" stroke-width="1.3"/>
<path d="M27 1047.55 L29.19 1046.98 L31.38 1046.42 L33.58 1045.88 L35.77 1045.35 L37.96 1044.81 L40.15 1044.27 L42.34 1043.71 L44.53 1043.11 L46.72 1042.47 L48.92 1041.79 L51.11 1041.04 L53.3 1040.25 L55.49 1039.44 L57.68 1038.59 L59.88 1037.72 L62.07 1036.83 L64.26 1035.89 L66.45 1034.93 L68.64 1033.93 L70.83 1032.88 L73.03 1031.8 L75.22 1030.68 L77.41 1029.49 L79.6 1028.25 L81.79 1026.84 L83.98 1025.24 L86.18 1023.48 L88.37 1021.6 L90.56 1019.62 L92.75 1017.55 L94.94 1015.33 L97.13 1012.97 L99.33 1010.5 L101.52 1007.98 L103.71 1005.46 L105.9 1002.98 L108.09 1000.47 L110.28 997.92 L112.48 995.38 L114.67 992.95 L116.86 990.67 L119.05 988.53 L121.24 986.51 L123.43 984.59 L125.62 982.79 L127.82 981.11 L130.01 979.52 L132.2 978.05 L134.39 976.7 L136.58 975.51 L138.77 974.53 L140.97 973.77 L143.16 973.2 L145.35 972.75 L147.54 972.37 L149.73 972.01 L151.93 971.75 L154.12 971.58 L156.31 971.45 L158.5 971.28" fill="none" stroke="#6a2a8a" stroke-width="1.1"/>
<line x1="161.5" y1="971.4" x2="161.5" y2="1004" stroke="#000" stroke-width="1.2"/>
<text x="166.2" y="990.06" font-size="7.2" text-anchor="middle" fill="#000" stroke="#000" stroke-width="0.22" transform="rotate(90 166.2 987.5)">&lt;0.0001</text>
<line x1="32.7" y1="969.2" x2="40.4" y2="969.2" stroke="#d63cf0" stroke-width="2.4"/>
<text x="42.7" y="971.9" font-size="7.6" text-anchor="start" fill="#000" stroke="#000" stroke-width="0.22">ST6WT-1</text>
<line x1="32.7" y1="976.8" x2="40.4" y2="976.8" stroke="#6a2a8a" stroke-width="1.5"/>
<text x="42.7" y="979.5" font-size="7.6" text-anchor="start" fill="#000" stroke="#000" stroke-width="0.22">ST6WT-2</text>
<line x1="32.7" y1="984.4" x2="40.4" y2="984.4" stroke="#6aa8e0" stroke-width="1.5"/>
<text x="42.7" y="987.1" font-size="7.6" text-anchor="start" fill="#000" stroke="#000" stroke-width="0.22">ST6KO-1</text>
<line x1="32.7" y1="992" x2="40.4" y2="992" stroke="#2e5a50" stroke-width="1.5"/>
<text x="42.7" y="994.7" font-size="7.6" text-anchor="start" fill="#000" stroke="#000" stroke-width="0.22">ST6KO-2</text>
<line x1="27.3" y1="1054.4" x2="27.3" y2="1056.4" stroke="#555" stroke-width="0.5"/>
<text x="26.8" y="1063.56" font-size="5.8" text-anchor="middle" fill="#000" stroke="#000" stroke-width="0.22" transform="rotate(-60 26.8 1061.5)">0</text>
<line x1="33.84" y1="1054.4" x2="33.84" y2="1056.4" stroke="#555" stroke-width="0.5"/>
<text x="33.34" y="1063.56" font-size="5.8" text-anchor="middle" fill="#000" stroke="#000" stroke-width="0.22" transform="rotate(-60 33.34 1061.5)">6</text>
<line x1="40.39" y1="1054.4" x2="40.39" y2="1056.4" stroke="#555" stroke-width="0.5"/>
<text x="39.89" y="1063.56" font-size="5.8" text-anchor="middle" fill="#000" stroke="#000" stroke-width="0.22" transform="rotate(-60 39.89 1061.5)">12</text>
<line x1="46.94" y1="1054.4" x2="46.94" y2="1056.4" stroke="#555" stroke-width="0.5"/>
<text x="46.44" y="1063.56" font-size="5.8" text-anchor="middle" fill="#000" stroke="#000" stroke-width="0.22" transform="rotate(-60 46.44 1061.5)">18</text>
<line x1="53.48" y1="1054.4" x2="53.48" y2="1056.4" stroke="#555" stroke-width="0.5"/>
<text x="52.98" y="1063.56" font-size="5.8" text-anchor="middle" fill="#000" stroke="#000" stroke-width="0.22" transform="rotate(-60 52.98 1061.5)">24</text>
<line x1="60.03" y1="1054.4" x2="60.03" y2="1056.4" stroke="#555" stroke-width="0.5"/>
<text x="59.53" y="1063.56" font-size="5.8" text-anchor="middle" fill="#000" stroke="#000" stroke-width="0.22" transform="rotate(-60 59.53 1061.5)">30</text>
<line x1="66.57" y1="1054.4" x2="66.57" y2="1056.4" stroke="#555" stroke-width="0.5"/>
<text x="66.07" y="1063.56" font-size="5.8" text-anchor="middle" fill="#000" stroke="#000" stroke-width="0.22" transform="rotate(-60 66.07 1061.5)">36</text>
<line x1="73.12" y1="1054.4" x2="73.12" y2="1056.4" stroke="#555" stroke-width="0.5"/>
<text x="72.62" y="1063.56" font-size="5.8" text-anchor="middle" fill="#000" stroke="#000" stroke-width="0.22" transform="rotate(-60 72.62 1061.5)">42</text>
<line x1="79.66" y1="1054.4" x2="79.66" y2="1056.4" stroke="#555" stroke-width="0.5"/>
<text x="79.16" y="1063.56" font-size="5.8" text-anchor="middle" fill="#000" stroke="#000" stroke-width="0.22" transform="rotate(-60 79.16 1061.5)">48</text>
<line x1="86.21" y1="1054.4" x2="86.21" y2="1056.4" stroke="#555" stroke-width="0.5"/>
<text x="85.71" y="1063.56" font-size="5.8" text-anchor="middle" fill="#000" stroke="#000" stroke-width="0.22" transform="rotate(-60 85.71 1061.5)">54</text>
<line x1="92.75" y1="1054.4" x2="92.75" y2="1056.4" stroke="#555" stroke-width="0.5"/>
<text x="92.25" y="1063.56" font-size="5.8" text-anchor="middle" fill="#000" stroke="#000" stroke-width="0.22" transform="rotate(-60 92.25 1061.5)">60</text>
<line x1="99.3" y1="1054.4" x2="99.3" y2="1056.4" stroke="#555" stroke-width="0.5"/>
<text x="98.8" y="1063.56" font-size="5.8" text-anchor="middle" fill="#000" stroke="#000" stroke-width="0.22" transform="rotate(-60 98.8 1061.5)">66</text>
<line x1="105.84" y1="1054.4" x2="105.84" y2="1056.4" stroke="#555" stroke-width="0.5"/>
<text x="105.34" y="1063.56" font-size="5.8" text-anchor="middle" fill="#000" stroke="#000" stroke-width="0.22" transform="rotate(-60 105.34 1061.5)">72</text>
<line x1="112.39" y1="1054.4" x2="112.39" y2="1056.4" stroke="#555" stroke-width="0.5"/>
<text x="111.89" y="1063.56" font-size="5.8" text-anchor="middle" fill="#000" stroke="#000" stroke-width="0.22" transform="rotate(-60 111.89 1061.5)">78</text>
<line x1="118.93" y1="1054.4" x2="118.93" y2="1056.4" stroke="#555" stroke-width="0.5"/>
<text x="118.43" y="1063.56" font-size="5.8" text-anchor="middle" fill="#000" stroke="#000" stroke-width="0.22" transform="rotate(-60 118.43 1061.5)">84</text>
<line x1="125.47" y1="1054.4" x2="125.47" y2="1056.4" stroke="#555" stroke-width="0.5"/>
<text x="124.97" y="1063.56" font-size="5.8" text-anchor="middle" fill="#000" stroke="#000" stroke-width="0.22" transform="rotate(-60 124.97 1061.5)">90</text>
<line x1="132.02" y1="1054.4" x2="132.02" y2="1056.4" stroke="#555" stroke-width="0.5"/>
<text x="131.52" y="1063.56" font-size="5.8" text-anchor="middle" fill="#000" stroke="#000" stroke-width="0.22" transform="rotate(-60 131.52 1061.5)">96</text>
<line x1="138.57" y1="1054.4" x2="138.57" y2="1056.4" stroke="#555" stroke-width="0.5"/>
<text x="138.07" y="1063.56" font-size="5.8" text-anchor="middle" fill="#000" stroke="#000" stroke-width="0.22" transform="rotate(-60 138.07 1061.5)">102</text>
<line x1="145.11" y1="1054.4" x2="145.11" y2="1056.4" stroke="#555" stroke-width="0.5"/>
<text x="144.61" y="1063.56" font-size="5.8" text-anchor="middle" fill="#000" stroke="#000" stroke-width="0.22" transform="rotate(-60 144.61 1061.5)">108</text>
<line x1="151.66" y1="1054.4" x2="151.66" y2="1056.4" stroke="#555" stroke-width="0.5"/>
<text x="151.16" y="1063.56" font-size="5.8" text-anchor="middle" fill="#000" stroke="#000" stroke-width="0.22" transform="rotate(-60 151.16 1061.5)">114</text>
<line x1="158.2" y1="1054.4" x2="158.2" y2="1056.4" stroke="#555" stroke-width="0.5"/>
<text x="157.7" y="1063.56" font-size="5.8" text-anchor="middle" fill="#000" stroke="#000" stroke-width="0.22" transform="rotate(-60 157.7 1061.5)">120</text>
<text x="96" y="1075.7" font-size="7.6" text-anchor="middle" fill="#000" stroke="#000" stroke-width="0.22">Time (h)</text>
<text x="173.5" y="946.2" font-size="11" text-anchor="start" fill="#000" stroke="#000" stroke-width="0.22" font-weight="bold">L</text>
<text x="173.8" y="964.3" font-size="7.6" text-anchor="start" fill="#000" stroke="#000" stroke-width="0.22">SNA:</text>
<rect x="195.5" y="959" width="9.5" height="5.5" fill="#fff" stroke="#6a1b9a" stroke-width="1.2"/>
<text x="207" y="964.3" font-size="7.6" text-anchor="start" fill="#000" stroke="#000" stroke-width="0.22">High</text>
<rect x="234.5" y="959" width="8.5" height="5.5" fill="#fff" stroke="#4a9ae8" stroke-width="1.2"/>
<text x="245" y="964.3" font-size="7.6" text-anchor="start" fill="#000" stroke="#000" stroke-width="0.22">Low</text>
<rect x="193.5" y="967" width="64.5" height="95.7" fill="#fff" stroke="#a8a8a8" stroke-width="0.8"/>
<line x1="191.5" y1="1062.7" x2="193.5" y2="1062.7" stroke="#333" stroke-width="0.8"/>
<text x="190.5" y="1065.33" font-size="7.4" text-anchor="end" fill="#000" stroke="#000" stroke-width="0.22">0</text>
<line x1="191.5" y1="1019.45" x2="193.5" y2="1019.45" stroke="#333" stroke-width="0.8"/>
<text x="190.5" y="1022.08" font-size="7.4" text-anchor="end" fill="#000" stroke="#000" stroke-width="0.22">50</text>
<line x1="191.5" y1="976.2" x2="193.5" y2="976.2" stroke="#333" stroke-width="0.8"/>
<text x="190.5" y="978.83" font-size="7.4" text-anchor="end" fill="#000" stroke="#000" stroke-width="0.22">100</text>
<text x="176.5" y="1014.63" font-size="7.4" text-anchor="middle" fill="#000" stroke="#000" stroke-width="0.22" transform="rotate(-90 176.5 1012)">% of cells</text>
<rect x="198" y="976.2" width="9.6" height="64.88" fill="#fff" stroke="#6a1b9a" stroke-width="1.3"/>
<rect x="198" y="1041.08" width="9.6" height="21.62" fill="#fff" stroke="#4a9ae8" stroke-width="1.3"/>
<line x1="202.8" y1="976.63" x2="202.8" y2="975.77" stroke="#555" stroke-width="0.8"/>
<line x1="202.8" y1="1041.94" x2="202.8" y2="1040.21" stroke="#7ab0f0" stroke-width="0.8"/>
<line x1="202.8" y1="1062.7" x2="202.8" y2="1064.7" stroke="#333" stroke-width="0.8"/>
<rect x="213" y="976.2" width="9.6" height="30.27" fill="#fff" stroke="#6a1b9a" stroke-width="1.3"/>
<rect x="213" y="1006.48" width="9.6" height="56.23" fill="#fff" stroke="#4a9ae8" stroke-width="1.3"/>
<line x1="217.8" y1="983.12" x2="217.8" y2="969.28" stroke="#555" stroke-width="0.8"/>
<line x1="217.8" y1="1012.53" x2="217.8" y2="1000.42" stroke="#7ab0f0" stroke-width="0.8"/>
<line x1="217.8" y1="1062.7" x2="217.8" y2="1064.7" stroke="#333" stroke-width="0.8"/>
<rect x="228" y="976.2" width="9.6" height="72.66" fill="#fff" stroke="#6a1b9a" stroke-width="1.3"/>
<rect x="228" y="1048.86" width="9.6" height="13.84" fill="#fff" stroke="#4a9ae8" stroke-width="1.3"/>
<line x1="232.8" y1="977.93" x2="232.8" y2="974.47" stroke="#555" stroke-width="0.8"/>
<line x1="232.8" y1="1050.59" x2="232.8" y2="1047.13" stroke="#7ab0f0" stroke-width="0.8"/>
<line x1="232.8" y1="1062.7" x2="232.8" y2="1064.7" stroke="#333" stroke-width="0.8"/>
<rect x="242.6" y="976.2" width="9.6" height="76.12" fill="#fff" stroke="#6a1b9a" stroke-width="1.3"/>
<rect x="242.6" y="1052.32" width="9.6" height="10.38" fill="#fff" stroke="#4a9ae8" stroke-width="1.3"/>
<line x1="247.4" y1="978.8" x2="247.4" y2="973.61" stroke="#555" stroke-width="0.8"/>
<line x1="247.4" y1="1054.91" x2="247.4" y2="1049.73" stroke="#7ab0f0" stroke-width="0.8"/>
<line x1="247.4" y1="1062.7" x2="247.4" y2="1064.7" stroke="#333" stroke-width="0.8"/>
<text x="202.7" y="1073.5" font-size="7.6" text-anchor="middle" fill="#000" stroke="#000" stroke-width="0.22">G<tspan font-size="5" dy="1.8">1</tspan></text>
<text x="217.7" y="1073.5" font-size="7.6" text-anchor="middle" fill="#000" stroke="#000" stroke-width="0.22">G<tspan font-size="5" dy="1.8">0</tspan></text>
<text x="232.2" y="1073.5" font-size="7.6" text-anchor="middle" fill="#000" stroke="#000" stroke-width="0.22">S</text>
<text x="247" y="1073.5" font-size="7.6" text-anchor="middle" fill="#000" stroke="#000" stroke-width="0.22">G<tspan font-size="5" dy="1.8">2</tspan><tspan dy="-1.8">&#8211;M</tspan></text>
<text x="261" y="945.9" font-size="11" text-anchor="start" fill="#000" stroke="#000" stroke-width="0.22" font-weight="bold">M</text>
<text x="300.4" y="948.7" font-size="7.6" text-anchor="middle" fill="#c030e0" stroke="#c030e0" stroke-width="0.22">G<tspan font-size="5" dy="1.8">1</tspan></text>
<text x="316" y="948.7" font-size="7.6" text-anchor="middle" fill="#777" stroke="#777" stroke-width="0.22">S</text>
<text x="333" y="948.7" font-size="7.6" text-anchor="middle" fill="#c07848" stroke="#c07848" stroke-width="0.22">G<tspan font-size="5" dy="1.8">2</tspan><tspan dy="-1.8">&#8211;M</tspan></text>
<text x="268.5" y="1010.7" font-size="7.6" text-anchor="middle" fill="#000" stroke="#000" stroke-width="0.22" transform="rotate(-90 268.5 1008)">Pyronin Y</text>
<text x="323.8" y="1085.2" font-size="7.6" text-anchor="middle" fill="#000" stroke="#000" stroke-width="0.22">Hoechst</text>
<text x="304.3" y="1076.56" font-size="7.2" text-anchor="middle" fill="#000" stroke="#000" stroke-width="0.22">50</text>
<text x="317.3" y="1076.56" font-size="7.2" text-anchor="middle" fill="#000" stroke="#000" stroke-width="0.22">100</text>
<text x="330.3" y="1076.56" font-size="7.2" text-anchor="middle" fill="#000" stroke="#000" stroke-width="0.22">150</text>
<text x="347" y="1076.56" font-size="7.2" text-anchor="middle" fill="#000" stroke="#000" stroke-width="0.22">200</text>
<text x="360" y="1076.56" font-size="7.2" text-anchor="middle" fill="#000" stroke="#000" stroke-width="0.22">250</text>
<rect x="289.6" y="951.5" width="75" height="56.5" fill="#fff" stroke="#b8b8b8" stroke-width="0.8"/>
<text x="287.5" y="955.36" font-size="7.2" text-anchor="end" fill="#000" stroke="#000" stroke-width="0.22">250</text>
<text x="287.5" y="966.26" font-size="7.2" text-anchor="end" fill="#000" stroke="#000" stroke-width="0.22">200</text>
<text x="287.5" y="976.56" font-size="7.2" text-anchor="end" fill="#000" stroke="#000" stroke-width="0.22">150</text>
<text x="287.5" y="987.56" font-size="7.2" text-anchor="end" fill="#000" stroke="#000" stroke-width="0.22">100</text>
<text x="287.5" y="998.56" font-size="7.2" text-anchor="end" fill="#000" stroke="#000" stroke-width="0.22">50</text>
<ellipse cx="326.5" cy="975.5" rx="7.5" ry="15" fill="url(#mOr)" opacity="0.6"/>
<ellipse cx="316.5" cy="982.5" rx="3" ry="12" fill="url(#mGrn)"/>
<ellipse cx="309" cy="979" rx="4.2" ry="19" fill="url(#mMag)"/>
<ellipse cx="309" cy="986.5" rx="3.2" ry="8" fill="#c420dc" fill-opacity="0.7"/>
<ellipse cx="309" cy="996" rx="3.4" ry="3.4" fill="url(#mBlu)" opacity="0.6"/>
<circle cx="322.31" cy="982.54" r="0.5" fill="#e89870" stroke="none" stroke-width="1" fill-opacity="0.6"/>
<circle cx="328.89" cy="976.11" r="0.5" fill="#e89870" stroke="none" stroke-width="1" fill-opacity="0.6"/>
<circle cx="323.02" cy="985.68" r="0.5" fill="#e89870" stroke="none" stroke-width="1" fill-opacity="0.6"/>
<circle cx="331.31" cy="977.13" r="0.5" fill="#e89870" stroke="none" stroke-width="1" fill-opacity="0.6"/>
<circle cx="327.07" cy="968.7" r="0.5" fill="#e89870" stroke="none" stroke-width="1" fill-opacity="0.6"/>
<circle cx="320.04" cy="972.82" r="0.5" fill="#e89870" stroke="none" stroke-width="1" fill-opacity="0.6"/>
<circle cx="328.2" cy="963.61" r="0.5" fill="#e89870" stroke="none" stroke-width="1" fill-opacity="0.6"/>
<circle cx="331.11" cy="968.58" r="0.5" fill="#e89870" stroke="none" stroke-width="1" fill-opacity="0.6"/>
<circle cx="323.26" cy="962.79" r="0.5" fill="#e89870" stroke="none" stroke-width="1" fill-opacity="0.6"/>
<circle cx="333.97" cy="984.03" r="0.5" fill="#e89870" stroke="none" stroke-width="1" fill-opacity="0.6"/>
<circle cx="332.25" cy="980.28" r="0.5" fill="#e89870" stroke="none" stroke-width="1" fill-opacity="0.6"/>
<circle cx="320.48" cy="971.53" r="0.5" fill="#e89870" stroke="none" stroke-width="1" fill-opacity="0.6"/>
<circle cx="326.97" cy="965.03" r="0.5" fill="#e89870" stroke="none" stroke-width="1" fill-opacity="0.6"/>
<circle cx="333.33" cy="972.74" r="0.5" fill="#e89870" stroke="none" stroke-width="1" fill-opacity="0.6"/>
<circle cx="322.17" cy="986.43" r="0.5" fill="#e89870" stroke="none" stroke-width="1" fill-opacity="0.6"/>
<circle cx="321.75" cy="989.8" r="0.5" fill="#e89870" stroke="none" stroke-width="1" fill-opacity="0.6"/>
<circle cx="326.34" cy="978.34" r="0.5" fill="#e89870" stroke="none" stroke-width="1" fill-opacity="0.6"/>
<circle cx="324.8" cy="976.28" r="0.5" fill="#e89870" stroke="none" stroke-width="1" fill-opacity="0.6"/>
<circle cx="322.62" cy="962.63" r="0.5" fill="#e89870" stroke="none" stroke-width="1" fill-opacity="0.6"/>
<circle cx="332.12" cy="968.66" r="0.5" fill="#e89870" stroke="none" stroke-width="1" fill-opacity="0.6"/>
<circle cx="330.92" cy="967.86" r="0.5" fill="#e89870" stroke="none" stroke-width="1" fill-opacity="0.6"/>
<circle cx="333.56" cy="988.77" r="0.5" fill="#e89870" stroke="none" stroke-width="1" fill-opacity="0.6"/>
<circle cx="330.57" cy="984.77" r="0.5" fill="#e89870" stroke="none" stroke-width="1" fill-opacity="0.6"/>
<circle cx="328.13" cy="983.76" r="0.5" fill="#e89870" stroke="none" stroke-width="1" fill-opacity="0.6"/>
<circle cx="321.71" cy="976.03" r="0.5" fill="#e89870" stroke="none" stroke-width="1" fill-opacity="0.6"/>
<circle cx="331.58" cy="967.63" r="0.5" fill="#e89870" stroke="none" stroke-width="1" fill-opacity="0.6"/>
<circle cx="332.92" cy="988.57" r="0.5" fill="#e89870" stroke="none" stroke-width="1" fill-opacity="0.6"/>
<circle cx="325.73" cy="972.64" r="0.5" fill="#e89870" stroke="none" stroke-width="1" fill-opacity="0.6"/>
<circle cx="326.32" cy="973.27" r="0.5" fill="#e89870" stroke="none" stroke-width="1" fill-opacity="0.6"/>
<circle cx="333.93" cy="973.29" r="0.5" fill="#e89870" stroke="none" stroke-width="1" fill-opacity="0.6"/>
<circle cx="320.38" cy="964.34" r="0.5" fill="#e89870" stroke="none" stroke-width="1" fill-opacity="0.6"/>
<circle cx="330.05" cy="991.78" r="0.5" fill="#e89870" stroke="none" stroke-width="1" fill-opacity="0.6"/>
<circle cx="326.94" cy="976.49" r="0.5" fill="#e89870" stroke="none" stroke-width="1" fill-opacity="0.6"/>
<circle cx="327.71" cy="984.32" r="0.5" fill="#e89870" stroke="none" stroke-width="1" fill-opacity="0.6"/>
<circle cx="323.11" cy="980.07" r="0.5" fill="#e89870" stroke="none" stroke-width="1" fill-opacity="0.6"/>
<circle cx="316.78" cy="986" r="0.5" fill="#70c080" stroke="none" stroke-width="1" fill-opacity="0.6"/>
<circle cx="314.9" cy="974.01" r="0.5" fill="#70c080" stroke="none" stroke-width="1" fill-opacity="0.6"/>
<circle cx="315.74" cy="994.07" r="0.5" fill="#70c080" stroke="none" stroke-width="1" fill-opacity="0.6"/>
<circle cx="315.73" cy="985.33" r="0.5" fill="#70c080" stroke="none" stroke-width="1" fill-opacity="0.6"/>
<circle cx="315.53" cy="972.24" r="0.5" fill="#70c080" stroke="none" stroke-width="1" fill-opacity="0.6"/>
<circle cx="314.33" cy="991.06" r="0.5" fill="#70c080" stroke="none" stroke-width="1" fill-opacity="0.6"/>
<circle cx="317.89" cy="979.43" r="0.5" fill="#70c080" stroke="none" stroke-width="1" fill-opacity="0.6"/>
<circle cx="317.42" cy="987.41" r="0.5" fill="#70c080" stroke="none" stroke-width="1" fill-opacity="0.6"/>
<circle cx="318.49" cy="994.89" r="0.5" fill="#70c080" stroke="none" stroke-width="1" fill-opacity="0.6"/>
<circle cx="316.04" cy="995.71" r="0.5" fill="#70c080" stroke="none" stroke-width="1" fill-opacity="0.6"/>
<circle cx="318.81" cy="985.15" r="0.5" fill="#70c080" stroke="none" stroke-width="1" fill-opacity="0.6"/>
<circle cx="318.42" cy="982.51" r="0.5" fill="#70c080" stroke="none" stroke-width="1" fill-opacity="0.6"/>
<circle cx="308.2" cy="990.22" r="0.5" fill="#d050e8" stroke="none" stroke-width="1" fill-opacity="0.5"/>
<circle cx="309.8" cy="968.45" r="0.5" fill="#d050e8" stroke="none" stroke-width="1" fill-opacity="0.5"/>
<circle cx="311.46" cy="987.1" r="0.5" fill="#d050e8" stroke="none" stroke-width="1" fill-opacity="0.5"/>
<circle cx="310.15" cy="978.24" r="0.5" fill="#d050e8" stroke="none" stroke-width="1" fill-opacity="0.5"/>
<circle cx="309.26" cy="971.37" r="0.5" fill="#d050e8" stroke="none" stroke-width="1" fill-opacity="0.5"/>
<circle cx="308.58" cy="972.34" r="0.5" fill="#d050e8" stroke="none" stroke-width="1" fill-opacity="0.5"/>
<circle cx="308.2" cy="965.62" r="0.5" fill="#d050e8" stroke="none" stroke-width="1" fill-opacity="0.5"/>
<circle cx="309.44" cy="973.81" r="0.5" fill="#d050e8" stroke="none" stroke-width="1" fill-opacity="0.5"/>
<circle cx="312.46" cy="986.25" r="0.5" fill="#d050e8" stroke="none" stroke-width="1" fill-opacity="0.5"/>
<circle cx="306.46" cy="978.11" r="0.5" fill="#d050e8" stroke="none" stroke-width="1" fill-opacity="0.5"/>
<circle cx="308.95" cy="979.53" r="0.5" fill="#d050e8" stroke="none" stroke-width="1" fill-opacity="0.5"/>
<circle cx="312.79" cy="985.72" r="0.5" fill="#d050e8" stroke="none" stroke-width="1" fill-opacity="0.5"/>
<circle cx="310.02" cy="989.07" r="0.5" fill="#d050e8" stroke="none" stroke-width="1" fill-opacity="0.5"/>
<circle cx="309.18" cy="987.75" r="0.5" fill="#d050e8" stroke="none" stroke-width="1" fill-opacity="0.5"/>
<circle cx="310.5" cy="976.5" r="0.5" fill="#d050e8" stroke="none" stroke-width="1" fill-opacity="0.5"/>
<circle cx="307.62" cy="981.22" r="0.5" fill="#d050e8" stroke="none" stroke-width="1" fill-opacity="0.5"/>
<circle cx="309.75" cy="979.8" r="0.5" fill="#d050e8" stroke="none" stroke-width="1" fill-opacity="0.5"/>
<circle cx="307.96" cy="971.92" r="0.5" fill="#d050e8" stroke="none" stroke-width="1" fill-opacity="0.5"/>
<circle cx="309.02" cy="984.4" r="0.5" fill="#d050e8" stroke="none" stroke-width="1" fill-opacity="0.5"/>
<circle cx="308.79" cy="992.6" r="0.5" fill="#d050e8" stroke="none" stroke-width="1" fill-opacity="0.5"/>
<circle cx="310.99" cy="983.14" r="0.5" fill="#d050e8" stroke="none" stroke-width="1" fill-opacity="0.5"/>
<circle cx="309.3" cy="989.48" r="0.5" fill="#d050e8" stroke="none" stroke-width="1" fill-opacity="0.5"/>
<circle cx="308" cy="975.87" r="0.5" fill="#d050e8" stroke="none" stroke-width="1" fill-opacity="0.5"/>
<circle cx="308.42" cy="992.74" r="0.5" fill="#d050e8" stroke="none" stroke-width="1" fill-opacity="0.5"/>
<circle cx="309.67" cy="966.39" r="0.5" fill="#d050e8" stroke="none" stroke-width="1" fill-opacity="0.5"/>
<line x1="303.5" y1="951.5" x2="303.5" y2="1008" stroke="#999" stroke-width="0.6"/>
<line x1="313.6" y1="951.5" x2="313.6" y2="1008" stroke="#999" stroke-width="0.6"/>
<rect x="313.6" y="951.5" width="5.7" height="42.5" fill="none" stroke="#999" stroke-width="0.6"/>
<rect x="319.3" y="951.5" width="15.1" height="42.5" fill="none" stroke="#999" stroke-width="0.6"/>
<line x1="303.5" y1="994" x2="334.4" y2="994" stroke="#999" stroke-width="0.6"/>
<text x="354.5" y="960.27" font-size="7.8" text-anchor="middle" fill="#8a2aa8" stroke="#8a2aa8" stroke-width="0.22">WT</text>
<rect x="289.6" y="1011.5" width="75" height="56.5" fill="#fff" stroke="#b8b8b8" stroke-width="0.8"/>
<text x="287.5" y="1014.36" font-size="7.2" text-anchor="end" fill="#000" stroke="#000" stroke-width="0.22">250</text>
<text x="287.5" y="1025.26" font-size="7.2" text-anchor="end" fill="#000" stroke="#000" stroke-width="0.22">200</text>
<text x="287.5" y="1036.36" font-size="7.2" text-anchor="end" fill="#000" stroke="#000" stroke-width="0.22">150</text>
<text x="287.5" y="1046.76" font-size="7.2" text-anchor="end" fill="#000" stroke="#000" stroke-width="0.22">100</text>
<text x="287.5" y="1058.56" font-size="7.2" text-anchor="end" fill="#000" stroke="#000" stroke-width="0.22">50</text>
<ellipse cx="327" cy="1041.5" rx="8" ry="14" fill="url(#mOr)" opacity="0.8"/>
<ellipse cx="317" cy="1045.5" rx="4" ry="12" fill="url(#mGrn)"/>
<ellipse cx="309" cy="1041.5" rx="4.2" ry="14" fill="url(#mMag)"/>
<ellipse cx="309" cy="1047.5" rx="3.2" ry="6.5" fill="#c81ee0" fill-opacity="0.85"/>
<ellipse cx="309" cy="1056" rx="4" ry="5" fill="url(#mBlu)"/>
<ellipse cx="309" cy="1056" rx="2.6" ry="3" fill="#2028d8"/>
<circle cx="321.32" cy="1022.27" r="0.5" fill="#e89870" stroke="none" stroke-width="1" fill-opacity="0.6"/>
<circle cx="326.26" cy="1025.8" r="0.5" fill="#e89870" stroke="none" stroke-width="1" fill-opacity="0.6"/>
<circle cx="332.14" cy="1041.49" r="0.5" fill="#e89870" stroke="none" stroke-width="1" fill-opacity="0.6"/>
<circle cx="321.77" cy="1037.93" r="0.5" fill="#e89870" stroke="none" stroke-width="1" fill-opacity="0.6"/>
<circle cx="324.54" cy="1036.56" r="0.5" fill="#e89870" stroke="none" stroke-width="1" fill-opacity="0.6"/>
<circle cx="323.07" cy="1026.57" r="0.5" fill="#e89870" stroke="none" stroke-width="1" fill-opacity="0.6"/>
<circle cx="322.58" cy="1033.02" r="0.5" fill="#e89870" stroke="none" stroke-width="1" fill-opacity="0.6"/>
<circle cx="329.94" cy="1038.28" r="0.5" fill="#e89870" stroke="none" stroke-width="1" fill-opacity="0.6"/>
<circle cx="320.65" cy="1043.18" r="0.5" fill="#e89870" stroke="none" stroke-width="1" fill-opacity="0.6"/>
<circle cx="332.23" cy="1045.11" r="0.5" fill="#e89870" stroke="none" stroke-width="1" fill-opacity="0.6"/>
<circle cx="331.07" cy="1021.74" r="0.5" fill="#e89870" stroke="none" stroke-width="1" fill-opacity="0.6"/>
<circle cx="326.49" cy="1023.44" r="0.5" fill="#e89870" stroke="none" stroke-width="1" fill-opacity="0.6"/>
<circle cx="330.69" cy="1026.85" r="0.5" fill="#e89870" stroke="none" stroke-width="1" fill-opacity="0.6"/>
<circle cx="329.96" cy="1029.21" r="0.5" fill="#e89870" stroke="none" stroke-width="1" fill-opacity="0.6"/>
<circle cx="329.75" cy="1031.07" r="0.5" fill="#e89870" stroke="none" stroke-width="1" fill-opacity="0.6"/>
<circle cx="320.59" cy="1033.36" r="0.5" fill="#e89870" stroke="none" stroke-width="1" fill-opacity="0.6"/>
<circle cx="324.33" cy="1048.97" r="0.5" fill="#e89870" stroke="none" stroke-width="1" fill-opacity="0.6"/>
<circle cx="324.13" cy="1036.85" r="0.5" fill="#e89870" stroke="none" stroke-width="1" fill-opacity="0.6"/>
<circle cx="327.69" cy="1050.42" r="0.5" fill="#e89870" stroke="none" stroke-width="1" fill-opacity="0.6"/>
<circle cx="321.38" cy="1039.84" r="0.5" fill="#e89870" stroke="none" stroke-width="1" fill-opacity="0.6"/>
<circle cx="327.11" cy="1043.9" r="0.5" fill="#e89870" stroke="none" stroke-width="1" fill-opacity="0.6"/>
<circle cx="333.54" cy="1030.96" r="0.5" fill="#e89870" stroke="none" stroke-width="1" fill-opacity="0.6"/>
<circle cx="329.79" cy="1037.54" r="0.5" fill="#e89870" stroke="none" stroke-width="1" fill-opacity="0.6"/>
<circle cx="327.85" cy="1023.44" r="0.5" fill="#e89870" stroke="none" stroke-width="1" fill-opacity="0.6"/>
<circle cx="331.41" cy="1051.29" r="0.5" fill="#e89870" stroke="none" stroke-width="1" fill-opacity="0.6"/>
<circle cx="324.97" cy="1031.2" r="0.5" fill="#e89870" stroke="none" stroke-width="1" fill-opacity="0.6"/>
<circle cx="333.91" cy="1024.78" r="0.5" fill="#e89870" stroke="none" stroke-width="1" fill-opacity="0.6"/>
<circle cx="321.07" cy="1023.74" r="0.5" fill="#e89870" stroke="none" stroke-width="1" fill-opacity="0.6"/>
<circle cx="331.4" cy="1044.68" r="0.5" fill="#e89870" stroke="none" stroke-width="1" fill-opacity="0.6"/>
<circle cx="326.27" cy="1040.45" r="0.5" fill="#e89870" stroke="none" stroke-width="1" fill-opacity="0.6"/>
<circle cx="320.28" cy="1041.16" r="0.5" fill="#e89870" stroke="none" stroke-width="1" fill-opacity="0.6"/>
<circle cx="326.2" cy="1037.28" r="0.5" fill="#e89870" stroke="none" stroke-width="1" fill-opacity="0.6"/>
<circle cx="325.45" cy="1033.75" r="0.5" fill="#e89870" stroke="none" stroke-width="1" fill-opacity="0.6"/>
<circle cx="323.16" cy="1022.99" r="0.5" fill="#e89870" stroke="none" stroke-width="1" fill-opacity="0.6"/>
<circle cx="326.07" cy="1029.04" r="0.5" fill="#e89870" stroke="none" stroke-width="1" fill-opacity="0.6"/>
<circle cx="317.52" cy="1051.16" r="0.5" fill="#70c080" stroke="none" stroke-width="1" fill-opacity="0.6"/>
<circle cx="317.62" cy="1041.58" r="0.5" fill="#70c080" stroke="none" stroke-width="1" fill-opacity="0.6"/>
<circle cx="315.18" cy="1039.71" r="0.5" fill="#70c080" stroke="none" stroke-width="1" fill-opacity="0.6"/>
<circle cx="316.43" cy="1046.24" r="0.5" fill="#70c080" stroke="none" stroke-width="1" fill-opacity="0.6"/>
<circle cx="318.82" cy="1031.76" r="0.5" fill="#70c080" stroke="none" stroke-width="1" fill-opacity="0.6"/>
<circle cx="316.4" cy="1042.53" r="0.5" fill="#70c080" stroke="none" stroke-width="1" fill-opacity="0.6"/>
<circle cx="317.59" cy="1053.1" r="0.5" fill="#70c080" stroke="none" stroke-width="1" fill-opacity="0.6"/>
<circle cx="317.9" cy="1046.11" r="0.5" fill="#70c080" stroke="none" stroke-width="1" fill-opacity="0.6"/>
<circle cx="317.79" cy="1047.2" r="0.5" fill="#70c080" stroke="none" stroke-width="1" fill-opacity="0.6"/>
<circle cx="318.29" cy="1048.02" r="0.5" fill="#70c080" stroke="none" stroke-width="1" fill-opacity="0.6"/>
<circle cx="317.41" cy="1036" r="0.5" fill="#70c080" stroke="none" stroke-width="1" fill-opacity="0.6"/>
<circle cx="318.58" cy="1039.73" r="0.5" fill="#70c080" stroke="none" stroke-width="1" fill-opacity="0.6"/>
<circle cx="308.55" cy="1042.25" r="0.5" fill="#d050e8" stroke="none" stroke-width="1" fill-opacity="0.5"/>
<circle cx="310.75" cy="1053.67" r="0.5" fill="#d050e8" stroke="none" stroke-width="1" fill-opacity="0.5"/>
<circle cx="305.56" cy="1023.69" r="0.5" fill="#d050e8" stroke="none" stroke-width="1" fill-opacity="0.5"/>
<circle cx="308.5" cy="1035.43" r="0.5" fill="#d050e8" stroke="none" stroke-width="1" fill-opacity="0.5"/>
<circle cx="310.2" cy="1027.94" r="0.5" fill="#d050e8" stroke="none" stroke-width="1" fill-opacity="0.5"/>
<circle cx="308.42" cy="1032.73" r="0.5" fill="#d050e8" stroke="none" stroke-width="1" fill-opacity="0.5"/>
<circle cx="308.8" cy="1052.28" r="0.5" fill="#d050e8" stroke="none" stroke-width="1" fill-opacity="0.5"/>
<circle cx="308.92" cy="1026.8" r="0.5" fill="#d050e8" stroke="none" stroke-width="1" fill-opacity="0.5"/>
<circle cx="307.33" cy="1052.66" r="0.5" fill="#d050e8" stroke="none" stroke-width="1" fill-opacity="0.5"/>
<circle cx="308.71" cy="1033.73" r="0.5" fill="#d050e8" stroke="none" stroke-width="1" fill-opacity="0.5"/>
<circle cx="308.02" cy="1043.07" r="0.5" fill="#d050e8" stroke="none" stroke-width="1" fill-opacity="0.5"/>
<circle cx="308.51" cy="1052.51" r="0.5" fill="#d050e8" stroke="none" stroke-width="1" fill-opacity="0.5"/>
<circle cx="307.94" cy="1033.32" r="0.5" fill="#d050e8" stroke="none" stroke-width="1" fill-opacity="0.5"/>
<circle cx="308.92" cy="1028.18" r="0.5" fill="#d050e8" stroke="none" stroke-width="1" fill-opacity="0.5"/>
<circle cx="311.9" cy="1044.28" r="0.5" fill="#d050e8" stroke="none" stroke-width="1" fill-opacity="0.5"/>
<circle cx="309.63" cy="1031.96" r="0.5" fill="#d050e8" stroke="none" stroke-width="1" fill-opacity="0.5"/>
<circle cx="310.93" cy="1035.06" r="0.5" fill="#d050e8" stroke="none" stroke-width="1" fill-opacity="0.5"/>
<circle cx="310.57" cy="1036.82" r="0.5" fill="#d050e8" stroke="none" stroke-width="1" fill-opacity="0.5"/>
<circle cx="308.39" cy="1042.32" r="0.5" fill="#d050e8" stroke="none" stroke-width="1" fill-opacity="0.5"/>
<circle cx="308.82" cy="1035.23" r="0.5" fill="#d050e8" stroke="none" stroke-width="1" fill-opacity="0.5"/>
<circle cx="309.91" cy="1031.81" r="0.5" fill="#d050e8" stroke="none" stroke-width="1" fill-opacity="0.5"/>
<circle cx="310.44" cy="1024.55" r="0.5" fill="#d050e8" stroke="none" stroke-width="1" fill-opacity="0.5"/>
<circle cx="312.54" cy="1048.22" r="0.5" fill="#d050e8" stroke="none" stroke-width="1" fill-opacity="0.5"/>
<circle cx="311.15" cy="1024.08" r="0.5" fill="#d050e8" stroke="none" stroke-width="1" fill-opacity="0.5"/>
<circle cx="308.07" cy="1038.79" r="0.5" fill="#d050e8" stroke="none" stroke-width="1" fill-opacity="0.5"/>
<line x1="303.5" y1="1011.5" x2="303.5" y2="1068" stroke="#999" stroke-width="0.6"/>
<line x1="313.6" y1="1011.5" x2="313.6" y2="1068" stroke="#999" stroke-width="0.6"/>
<rect x="313.6" y="1011.5" width="5.7" height="42.5" fill="none" stroke="#999" stroke-width="0.6"/>
<rect x="319.3" y="1011.5" width="15.1" height="42.5" fill="none" stroke="#999" stroke-width="0.6"/>
<line x1="303.5" y1="1054" x2="334.4" y2="1054" stroke="#999" stroke-width="0.6"/>
<text x="354.5" y="1020.27" font-size="7.8" text-anchor="middle" fill="#4a9ae8" stroke="#4a9ae8" stroke-width="0.22">KO</text>
<text x="295.5" y="1004.34" font-size="8" text-anchor="middle" fill="#3040d0" stroke="#3040d0" stroke-width="0.22">G<tspan font-size="5.2" dy="1.8">0</tspan></text>
<text x="375.5" y="945.9" font-size="11" text-anchor="start" fill="#000" stroke="#000" stroke-width="0.22" font-weight="bold">N</text>
<rect x="402.3" y="961" width="10" height="5.3" fill="#6a2c9e" stroke="none" stroke-width="1"/>
<text x="414.5" y="966.4" font-size="7.6" text-anchor="start" fill="#000" stroke="#000" stroke-width="0.22">ST6WT</text>
<rect x="458" y="961" width="10" height="5.3" fill="#3a9ae8" stroke="none" stroke-width="1"/>
<text x="470" y="966.4" font-size="7.6" text-anchor="start" fill="#000" stroke="#000" stroke-width="0.22">ST6KO</text>
<rect x="396.2" y="972.3" width="117.8" height="83.4" fill="#fff" stroke="#a8a8a8" stroke-width="0.8"/>
<line x1="394.2" y1="1055.7" x2="396.2" y2="1055.7" stroke="#333" stroke-width="0.8"/>
<text x="393.5" y="1058.33" font-size="7.4" text-anchor="end" fill="#000" stroke="#000" stroke-width="0.22">0</text>
<line x1="394.2" y1="1034.85" x2="396.2" y2="1034.85" stroke="#333" stroke-width="0.8"/>
<text x="393.5" y="1037.48" font-size="7.4" text-anchor="end" fill="#000" stroke="#000" stroke-width="0.22">20</text>
<line x1="394.2" y1="1014" x2="396.2" y2="1014" stroke="#333" stroke-width="0.8"/>
<text x="393.5" y="1016.63" font-size="7.4" text-anchor="end" fill="#000" stroke="#000" stroke-width="0.22">40</text>
<line x1="394.2" y1="993.15" x2="396.2" y2="993.15" stroke="#333" stroke-width="0.8"/>
<text x="393.5" y="995.78" font-size="7.4" text-anchor="end" fill="#000" stroke="#000" stroke-width="0.22">60</text>
<line x1="394.2" y1="972.3" x2="396.2" y2="972.3" stroke="#333" stroke-width="0.8"/>
<text x="393.5" y="974.93" font-size="7.4" text-anchor="end" fill="#000" stroke="#000" stroke-width="0.22">80</text>
<text x="375.3" y="1016.53" font-size="7.4" text-anchor="middle" fill="#000" stroke="#000" stroke-width="0.22" transform="rotate(-90 375.3 1013.9)">% of phase</text>
<rect x="400.2" y="994.19" width="7.6" height="61.51" fill="#fff" stroke="#8a3aa8" stroke-width="1.2"/>
<circle cx="401.7" cy="993.89" r="1" fill="#333" stroke="none" stroke-width="1"/>
<circle cx="404" cy="993.89" r="1" fill="#333" stroke="none" stroke-width="1"/>
<circle cx="406.3" cy="993.89" r="1" fill="#333" stroke="none" stroke-width="1"/>
<rect x="411.5" y="1004.62" width="7.6" height="51.08" fill="#fff" stroke="#7ab0ee" stroke-width="1.2"/>
<circle cx="413" cy="1004.32" r="1" fill="#333" stroke="none" stroke-width="1"/>
<circle cx="415.3" cy="1004.32" r="1" fill="#333" stroke="none" stroke-width="1"/>
<circle cx="417.6" cy="1004.32" r="1" fill="#333" stroke="none" stroke-width="1"/>
<rect x="430.6" y="1046.32" width="7.6" height="9.38" fill="#fff" stroke="#8a3aa8" stroke-width="1.2"/>
<circle cx="432.1" cy="1046.02" r="1" fill="#333" stroke="none" stroke-width="1"/>
<circle cx="434.4" cy="1046.02" r="1" fill="#333" stroke="none" stroke-width="1"/>
<circle cx="436.7" cy="1046.02" r="1" fill="#333" stroke="none" stroke-width="1"/>
<rect x="442" y="1034.85" width="7.6" height="20.85" fill="#fff" stroke="#7ab0ee" stroke-width="1.2"/>
<circle cx="443.5" cy="1034.55" r="1" fill="#333" stroke="none" stroke-width="1"/>
<circle cx="445.8" cy="1034.55" r="1" fill="#333" stroke="none" stroke-width="1"/>
<circle cx="448.1" cy="1034.55" r="1" fill="#333" stroke="none" stroke-width="1"/>
<rect x="461.3" y="1043.19" width="7.6" height="12.51" fill="#fff" stroke="#8a3aa8" stroke-width="1.2"/>
<circle cx="462.8" cy="1042.89" r="1" fill="#333" stroke="none" stroke-width="1"/>
<circle cx="465.1" cy="1042.89" r="1" fill="#333" stroke="none" stroke-width="1"/>
<circle cx="467.4" cy="1042.89" r="1" fill="#333" stroke="none" stroke-width="1"/>
<rect x="472.4" y="1043.19" width="7.6" height="12.51" fill="#fff" stroke="#7ab0ee" stroke-width="1.2"/>
<circle cx="473.9" cy="1042.89" r="1" fill="#333" stroke="none" stroke-width="1"/>
<circle cx="476.2" cy="1042.89" r="1" fill="#333" stroke="none" stroke-width="1"/>
<circle cx="478.5" cy="1042.89" r="1" fill="#333" stroke="none" stroke-width="1"/>
<rect x="491.2" y="1035.89" width="7.6" height="19.81" fill="#fff" stroke="#8a3aa8" stroke-width="1.2"/>
<circle cx="492.7" cy="1035.59" r="1" fill="#333" stroke="none" stroke-width="1"/>
<circle cx="495" cy="1035.59" r="1" fill="#333" stroke="none" stroke-width="1"/>
<circle cx="497.3" cy="1035.59" r="1" fill="#333" stroke="none" stroke-width="1"/>
<rect x="502.5" y="1039.02" width="7.6" height="16.68" fill="#fff" stroke="#7ab0ee" stroke-width="1.2"/>
<circle cx="504" cy="1038.72" r="1" fill="#333" stroke="none" stroke-width="1"/>
<circle cx="506.3" cy="1038.72" r="1" fill="#333" stroke="none" stroke-width="1"/>
<circle cx="508.6" cy="1038.72" r="1" fill="#333" stroke="none" stroke-width="1"/>
<path d="M403.9 991.07 L403.9 985.81 L415.3 985.81 L415.3 1000.45" fill="none" stroke="#777" stroke-width="0.6"/>
<text x="409.6" y="984" font-size="7" text-anchor="middle" fill="#000" stroke="#000" stroke-width="0.22">&lt;0.0001</text>
<path d="M434.4 1042.15 L434.4 1028.89 L445.8 1028.89 L445.8 1030.68" fill="none" stroke="#777" stroke-width="0.6"/>
<text x="440.1" y="1027.08" font-size="7" text-anchor="middle" fill="#000" stroke="#000" stroke-width="0.22">&lt;0.0001</text>
<path d="M465 1040.06 L465 1036.43 L476.2 1036.43 L476.2 1040.06" fill="none" stroke="#777" stroke-width="0.6"/>
<text x="470.6" y="1034.62" font-size="7" text-anchor="middle" fill="#000" stroke="#000" stroke-width="0.22">0.5548</text>
<path d="M495 1032.77 L495 1029.7 L506.3 1029.7 L506.3 1035.89" fill="none" stroke="#777" stroke-width="0.6"/>
<text x="500.65" y="1027.88" font-size="7" text-anchor="middle" fill="#000" stroke="#000" stroke-width="0.22">&lt;0.0001</text>
<text x="408" y="1067.7" font-size="7.6" text-anchor="middle" fill="#000" stroke="#000" stroke-width="0.22">G<tspan font-size="5" dy="1.8">1</tspan></text>
<text x="438.5" y="1067.7" font-size="7.6" text-anchor="middle" fill="#000" stroke="#000" stroke-width="0.22">G<tspan font-size="5" dy="1.8">0</tspan></text>
<text x="470.5" y="1067.7" font-size="7.6" text-anchor="middle" fill="#000" stroke="#000" stroke-width="0.22">S</text>
<text x="500" y="1067.7" font-size="7.6" text-anchor="middle" fill="#000" stroke="#000" stroke-width="0.22">G<tspan font-size="5" dy="1.8">2</tspan><tspan dy="-1.8">&#8211;M</tspan></text>
<line x1="409.7" y1="1055.7" x2="409.7" y2="1057.7" stroke="#333" stroke-width="0.8"/>
<line x1="440" y1="1055.7" x2="440" y2="1057.7" stroke="#333" stroke-width="0.8"/>
<line x1="470.8" y1="1055.7" x2="470.8" y2="1057.7" stroke="#333" stroke-width="0.8"/>
<line x1="500.8" y1="1055.7" x2="500.8" y2="1057.7" stroke="#333" stroke-width="0.8"/>
</svg></body></html>
